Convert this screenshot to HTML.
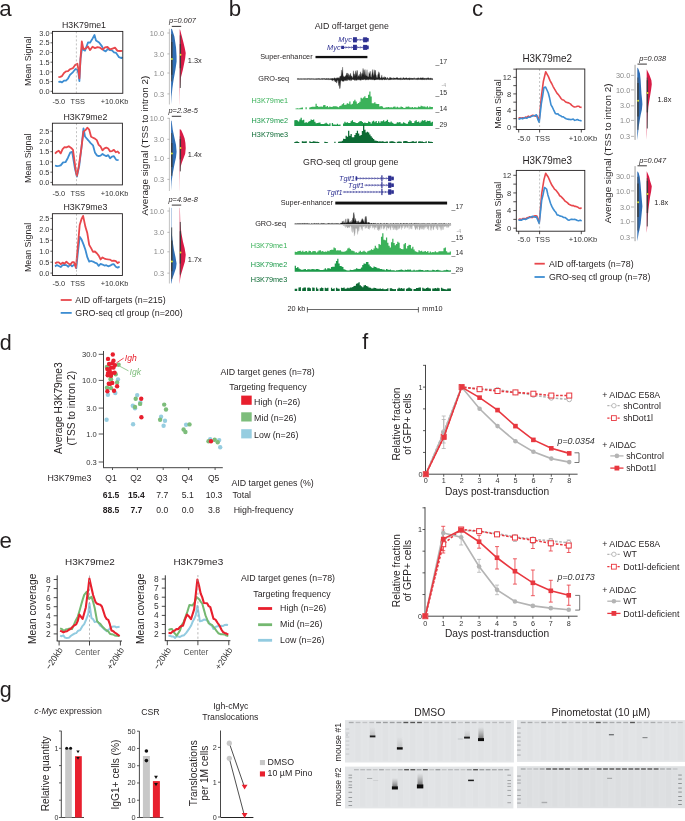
<!DOCTYPE html>
<html><head><meta charset="utf-8"><style>
html,body{margin:0;padding:0;background:#fff;width:685px;height:821px;overflow:hidden}
svg{display:block;font-family:"Liberation Sans", sans-serif;will-change:transform;-webkit-font-smoothing:antialiased}
</style></head><body>
<svg width="685" height="821" viewBox="0 0 685 821">
<path d="M58.40,81.80 L60.20,81.60 L62.00,82.44 L64.00,80.63 L66.00,80.53 L68.00,78.55 L70.00,74.93 L73.00,72.04 L75.50,69.04 L77.50,70.00 L78.50,73.62 L79.40,81.13 L80.50,58.61 L82.00,48.65 L85.00,50.66 L88.00,42.44 L90.00,42.64 L92.00,39.58 L94.50,35.02 L96.00,40.39 L99.10,42.44 L102.00,46.35 L103.85,50.50 L105.70,51.30 L108.00,48.95 L110.00,50.12 L112.00,50.40 L114.00,52.38 L116.00,52.80 L119.00,57.16 L121.50,58.17 L122.30,57.00" fill="none" stroke="#3d8dd2" stroke-width="1.8" stroke-linejoin="round"/>
<path d="M58.40,77.20 L60.20,76.89 L62.00,76.07 L64.00,73.03 L66.00,71.34 L68.00,71.07 L70.00,69.23 L73.00,68.06 L75.00,65.15 L77.40,63.74 L78.50,70.20 L79.40,78.35 L80.50,58.79 L81.80,41.50 L83.40,49.05 L86.00,48.38 L88.00,46.50 L90.00,50.08 L92.50,46.80 L95.00,48.14 L97.50,47.20 L100.00,47.68 L102.50,49.66 L105.00,47.36 L107.50,47.01 L110.00,49.41 L112.50,48.53 L115.00,47.61 L117.50,50.91 L120.00,51.02 L122.30,50.90" fill="none" stroke="#e8474c" stroke-width="1.8" stroke-linejoin="round"/>
<line x1="76.40" y1="31.40" x2="76.40" y2="93.30" stroke="#999" stroke-width="0.6" stroke-dasharray="2,2"/>
<rect x="52.50" y="31.40" width="70.30" height="61.90" fill="none" stroke="#231f20" stroke-width="0.9"/>
<line x1="50.50" y1="91.30" x2="52.50" y2="91.30" stroke="#231f20" stroke-width="0.7"/>
<text x="49.50" y="93.90" font-size="7.3" text-anchor="end" fill="#333">0.0</text>
<line x1="50.50" y1="81.60" x2="52.50" y2="81.60" stroke="#231f20" stroke-width="0.7"/>
<text x="49.50" y="84.20" font-size="7.3" text-anchor="end" fill="#333">0.5</text>
<line x1="50.50" y1="71.90" x2="52.50" y2="71.90" stroke="#231f20" stroke-width="0.7"/>
<text x="49.50" y="74.50" font-size="7.3" text-anchor="end" fill="#333">1.0</text>
<line x1="50.50" y1="62.20" x2="52.50" y2="62.20" stroke="#231f20" stroke-width="0.7"/>
<text x="49.50" y="64.80" font-size="7.3" text-anchor="end" fill="#333">1.5</text>
<line x1="50.50" y1="52.50" x2="52.50" y2="52.50" stroke="#231f20" stroke-width="0.7"/>
<text x="49.50" y="55.10" font-size="7.3" text-anchor="end" fill="#333">2.0</text>
<line x1="50.50" y1="42.80" x2="52.50" y2="42.80" stroke="#231f20" stroke-width="0.7"/>
<text x="49.50" y="45.40" font-size="7.3" text-anchor="end" fill="#333">2.5</text>
<line x1="50.50" y1="33.10" x2="52.50" y2="33.10" stroke="#231f20" stroke-width="0.7"/>
<text x="49.50" y="35.70" font-size="7.3" text-anchor="end" fill="#333">3.0</text>
<text x="84.00" y="27.60" font-size="8.8" text-anchor="middle" fill="#231f20">H3K79me1</text>
<text x="58.80" y="104.00" font-size="7.4" text-anchor="middle" fill="#333">-5.0</text>
<text x="77.80" y="104.00" font-size="7.4" text-anchor="middle" fill="#333">TSS</text>
<text x="114.60" y="104.00" font-size="7.4" text-anchor="middle" fill="#333">+10.0Kb</text>
<text x="30.80" y="61.30" font-size="8.9" text-anchor="middle" fill="#231f20" transform="rotate(-90 30.8 61.3)">Mean Signal</text>
<path d="M55.00,165.50 L56.90,166.15 L58.80,165.96 L60.70,165.43 L63.10,162.38 L65.50,162.19 L67.85,157.95 L70.20,152.64 L72.10,151.72 L75.00,168.80 L76.90,176.61 L79.30,165.46 L81.40,148.19 L83.50,128.44 L85.00,136.50 L88.30,140.29 L90.65,143.14 L93.00,145.34 L94.90,152.39 L96.80,155.31 L98.70,156.11 L100.60,155.56 L102.50,153.92 L104.40,155.22 L106.30,156.09 L108.20,155.09 L110.10,158.27 L112.00,156.62 L113.90,156.23 L116.25,159.88 L118.60,160.20" fill="none" stroke="#3d8dd2" stroke-width="1.8" stroke-linejoin="round"/>
<path d="M55.00,153.60 L56.90,151.74 L58.80,150.71 L60.70,153.40 L62.60,149.03 L64.50,147.21 L66.40,147.41 L68.80,146.23 L71.20,147.92 L73.00,149.79 L75.90,171.26 L76.90,175.79 L78.80,166.24 L81.15,149.82 L83.50,131.43 L85.40,130.34 L87.30,127.71 L89.20,129.71 L91.10,136.80 L93.00,137.70 L94.90,138.66 L96.80,140.15 L98.70,144.92 L100.60,146.55 L102.50,150.29 L104.40,148.33 L106.30,147.57 L108.20,148.58 L110.10,151.37 L112.00,151.08 L113.90,149.88 L115.80,152.25 L117.70,151.51 L119.60,153.60" fill="none" stroke="#e8474c" stroke-width="1.8" stroke-linejoin="round"/>
<line x1="76.50" y1="123.20" x2="76.50" y2="184.90" stroke="#999" stroke-width="0.6" stroke-dasharray="2,2"/>
<rect x="52.40" y="123.20" width="70.00" height="61.70" fill="none" stroke="#231f20" stroke-width="0.9"/>
<line x1="50.40" y1="182.40" x2="52.40" y2="182.40" stroke="#231f20" stroke-width="0.7"/>
<text x="49.40" y="185.00" font-size="7.3" text-anchor="end" fill="#333">0.0</text>
<line x1="50.40" y1="172.16" x2="52.40" y2="172.16" stroke="#231f20" stroke-width="0.7"/>
<text x="49.40" y="174.76" font-size="7.3" text-anchor="end" fill="#333">0.5</text>
<line x1="50.40" y1="161.92" x2="52.40" y2="161.92" stroke="#231f20" stroke-width="0.7"/>
<text x="49.40" y="164.52" font-size="7.3" text-anchor="end" fill="#333">1.0</text>
<line x1="50.40" y1="151.68" x2="52.40" y2="151.68" stroke="#231f20" stroke-width="0.7"/>
<text x="49.40" y="154.28" font-size="7.3" text-anchor="end" fill="#333">1.5</text>
<line x1="50.40" y1="141.44" x2="52.40" y2="141.44" stroke="#231f20" stroke-width="0.7"/>
<text x="49.40" y="144.04" font-size="7.3" text-anchor="end" fill="#333">2.0</text>
<line x1="50.40" y1="131.20" x2="52.40" y2="131.20" stroke="#231f20" stroke-width="0.7"/>
<text x="49.40" y="133.80" font-size="7.3" text-anchor="end" fill="#333">2.5</text>
<text x="85.40" y="120.40" font-size="8.8" text-anchor="middle" fill="#231f20">H3K79me2</text>
<text x="58.80" y="195.70" font-size="7.4" text-anchor="middle" fill="#333">-5.0</text>
<text x="77.80" y="195.70" font-size="7.4" text-anchor="middle" fill="#333">TSS</text>
<text x="114.60" y="195.70" font-size="7.4" text-anchor="middle" fill="#333">+10.0Kb</text>
<text x="30.80" y="158.30" font-size="8.9" text-anchor="middle" fill="#231f20" transform="rotate(-90 30.8 158.3)">Mean Signal</text>
<path d="M55.00,266.40 L56.90,265.08 L58.80,266.04 L60.70,267.03 L62.60,265.17 L64.50,264.90 L66.40,265.13 L68.30,266.74 L70.20,264.48 L72.10,266.32 L75.00,264.15 L76.30,268.06 L77.80,253.22 L79.70,236.82 L81.60,239.60 L83.50,244.39 L85.40,249.82 L87.30,257.17 L89.20,261.56 L91.10,261.00 L93.00,261.57 L94.90,262.60 L96.80,263.30 L98.70,265.89 L100.60,263.94 L102.50,264.54 L104.40,265.54 L106.30,265.16 L108.20,266.29 L110.10,265.65 L112.00,264.39 L113.90,264.25 L115.80,266.78 L117.70,267.68 L119.60,266.40" fill="none" stroke="#3d8dd2" stroke-width="1.8" stroke-linejoin="round"/>
<path d="M55.00,263.60 L56.90,262.38 L58.80,262.43 L60.70,264.21 L62.60,262.59 L64.50,263.60 L66.40,261.74 L68.30,263.38 L70.20,264.77 L72.10,262.23 L74.00,262.21 L75.90,267.70 L77.80,246.96 L79.70,224.90 L81.60,218.87 L83.10,215.83 L85.40,226.83 L87.30,233.08 L89.20,244.87 L91.10,248.14 L93.00,251.84 L94.90,251.49 L96.80,253.28 L98.70,255.61 L100.60,259.47 L102.50,257.48 L104.40,258.59 L106.30,259.07 L108.20,259.42 L110.10,259.63 L112.00,260.95 L113.90,260.56 L115.80,261.05 L117.70,263.16 L119.60,261.70" fill="none" stroke="#e8474c" stroke-width="1.8" stroke-linejoin="round"/>
<line x1="76.50" y1="213.70" x2="76.50" y2="275.50" stroke="#999" stroke-width="0.6" stroke-dasharray="2,2"/>
<rect x="52.40" y="213.70" width="70.00" height="61.80" fill="none" stroke="#231f20" stroke-width="0.9"/>
<line x1="50.40" y1="273.10" x2="52.40" y2="273.10" stroke="#231f20" stroke-width="0.7"/>
<text x="49.40" y="275.70" font-size="7.3" text-anchor="end" fill="#333">0.0</text>
<line x1="50.40" y1="262.16" x2="52.40" y2="262.16" stroke="#231f20" stroke-width="0.7"/>
<text x="49.40" y="264.76" font-size="7.3" text-anchor="end" fill="#333">0.5</text>
<line x1="50.40" y1="251.22" x2="52.40" y2="251.22" stroke="#231f20" stroke-width="0.7"/>
<text x="49.40" y="253.82" font-size="7.3" text-anchor="end" fill="#333">1.0</text>
<line x1="50.40" y1="240.28" x2="52.40" y2="240.28" stroke="#231f20" stroke-width="0.7"/>
<text x="49.40" y="242.88" font-size="7.3" text-anchor="end" fill="#333">1.5</text>
<line x1="50.40" y1="229.34" x2="52.40" y2="229.34" stroke="#231f20" stroke-width="0.7"/>
<text x="49.40" y="231.94" font-size="7.3" text-anchor="end" fill="#333">2.0</text>
<line x1="50.40" y1="218.40" x2="52.40" y2="218.40" stroke="#231f20" stroke-width="0.7"/>
<text x="49.40" y="221.00" font-size="7.3" text-anchor="end" fill="#333">2.5</text>
<text x="85.40" y="210.40" font-size="8.8" text-anchor="middle" fill="#231f20">H3K79me3</text>
<text x="58.80" y="285.80" font-size="7.4" text-anchor="middle" fill="#333">-5.0</text>
<text x="77.80" y="285.80" font-size="7.4" text-anchor="middle" fill="#333">TSS</text>
<text x="114.60" y="285.80" font-size="7.4" text-anchor="middle" fill="#333">+10.0Kb</text>
<text x="30.80" y="247.40" font-size="8.9" text-anchor="middle" fill="#231f20" transform="rotate(-90 30.8 247.4)">Mean Signal</text>
<line x1="60.70" y1="300.00" x2="71.70" y2="300.00" stroke="#e8474c" stroke-width="1.8"/>
<text x="75.30" y="303.30" font-size="8.9" text-anchor="start" fill="#231f20">AID off-targets (n=215)</text>
<line x1="60.70" y1="312.90" x2="71.70" y2="312.90" stroke="#3d8dd2" stroke-width="1.8"/>
<text x="75.30" y="316.20" font-size="8.9" text-anchor="start" fill="#231f20">GRO-seq ctl group (n=200)</text>
<line x1="169.40" y1="28.80" x2="169.40" y2="104.50" stroke="#bbb" stroke-width="0.9"/>
<line x1="167.40" y1="33.00" x2="169.40" y2="33.00" stroke="#999" stroke-width="0.7"/>
<text x="164.00" y="35.60" font-size="7.3" text-anchor="end" fill="#8a8a8a">10.0</text>
<line x1="167.40" y1="53.92" x2="169.40" y2="53.92" stroke="#999" stroke-width="0.7"/>
<text x="164.00" y="56.52" font-size="7.3" text-anchor="end" fill="#8a8a8a">3.0</text>
<line x1="167.40" y1="73.00" x2="169.40" y2="73.00" stroke="#999" stroke-width="0.7"/>
<text x="164.00" y="75.60" font-size="7.3" text-anchor="end" fill="#8a8a8a">1.0</text>
<line x1="167.40" y1="93.92" x2="169.40" y2="93.92" stroke="#999" stroke-width="0.7"/>
<text x="164.00" y="96.52" font-size="7.3" text-anchor="end" fill="#8a8a8a">0.3</text>
<path d="M171.10,28.77 L171.10,28.77 L171.98,28.99 L174.39,36.44 L176.03,47.41 L176.58,56.18 L176.58,61.66 L175.49,69.33 L173.51,80.29 L172.42,87.97 L171.54,96.74 L171.10,104.41 L171.10,104.41 Z" fill="#2f6db5" stroke="none" stroke-width="1"/>
<line x1="171.70" y1="34.25" x2="171.70" y2="81.39" stroke="#4a4a4a" stroke-width="0.9"/>
<line x1="171.80" y1="41.93" x2="171.80" y2="74.81" stroke="#3a3a3a" stroke-width="1.3"/>
<circle cx="171.90" cy="59.00" r="1.0" fill="#d6e23a"/>
<path d="M179.70,29.32 L179.70,29.32 L180.14,29.65 L181.89,36.44 L183.32,41.93 L184.63,47.41 L185.73,52.89 L185.18,58.37 L184.09,63.85 L182.99,69.33 L180.80,78.10 L180.03,87.97 L179.86,96.74 L179.75,104.41 L179.70,104.41 Z" fill="#d81a45" stroke="none" stroke-width="1"/>
<line x1="180.30" y1="35.35" x2="180.30" y2="87.97" stroke="#4a4a4a" stroke-width="0.9"/>
<line x1="180.40" y1="44.12" x2="180.40" y2="68.24" stroke="#3a3a3a" stroke-width="1.3"/>
<circle cx="180.50" cy="54.70" r="1.0" fill="#d6e23a"/>
<text x="182.50" y="23.00" font-size="7.4" text-anchor="middle" fill="#231f20" font-style="italic">p=0.007</text>
<line x1="171.80" y1="26.40" x2="181.20" y2="26.40" stroke="#231f20" stroke-width="0.9"/>
<text x="187.80" y="62.50" font-size="7.4" text-anchor="start" fill="#231f20">1.3x</text>
<line x1="169.40" y1="118.00" x2="169.40" y2="191.00" stroke="#bbb" stroke-width="0.9"/>
<line x1="167.40" y1="118.30" x2="169.40" y2="118.30" stroke="#999" stroke-width="0.7"/>
<text x="164.00" y="120.90" font-size="7.3" text-anchor="end" fill="#8a8a8a">10.0</text>
<line x1="167.40" y1="139.27" x2="169.40" y2="139.27" stroke="#999" stroke-width="0.7"/>
<text x="164.00" y="141.87" font-size="7.3" text-anchor="end" fill="#8a8a8a">3.0</text>
<line x1="167.40" y1="158.40" x2="169.40" y2="158.40" stroke="#999" stroke-width="0.7"/>
<text x="164.00" y="161.00" font-size="7.3" text-anchor="end" fill="#8a8a8a">1.0</text>
<line x1="167.40" y1="179.37" x2="169.40" y2="179.37" stroke="#999" stroke-width="0.7"/>
<text x="164.00" y="181.97" font-size="7.3" text-anchor="end" fill="#8a8a8a">0.3</text>
<path d="M171.10,120.41 L171.10,120.41 L171.65,120.96 L172.74,129.73 L174.39,137.41 L176.03,145.08 L176.58,151.66 L176.03,157.14 L174.39,164.81 L172.74,173.58 L171.65,181.26 L171.32,186.74 L171.10,190.57 L171.10,190.57 Z" fill="#2f6db5" stroke="none" stroke-width="1"/>
<line x1="171.70" y1="133.02" x2="171.70" y2="175.78" stroke="#4a4a4a" stroke-width="0.9"/>
<line x1="171.80" y1="142.89" x2="171.80" y2="167.01" stroke="#3a3a3a" stroke-width="1.3"/>
<circle cx="171.90" cy="153.60" r="1.0" fill="#d6e23a"/>
<path d="M179.70,129.18 L179.70,129.18 L181.02,129.73 L182.99,134.12 L184.63,138.50 L185.40,142.89 L185.73,148.37 L185.18,153.85 L183.54,158.24 L181.89,162.62 L180.58,167.01 L180.03,171.39 L179.86,180.16 L179.75,190.57 L179.70,190.57 Z" fill="#d81a45" stroke="none" stroke-width="1"/>
<line x1="180.30" y1="136.31" x2="180.30" y2="171.39" stroke="#4a4a4a" stroke-width="0.9"/>
<line x1="180.40" y1="139.05" x2="180.40" y2="159.33" stroke="#3a3a3a" stroke-width="1.3"/>
<circle cx="180.50" cy="148.10" r="1.0" fill="#d6e23a"/>
<text x="183.20" y="112.80" font-size="7.4" text-anchor="middle" fill="#231f20" font-style="italic">p=2.3e-5</text>
<line x1="171.80" y1="116.30" x2="181.20" y2="116.30" stroke="#231f20" stroke-width="0.9"/>
<text x="187.80" y="156.50" font-size="7.4" text-anchor="start" fill="#231f20">1.4x</text>
<line x1="169.40" y1="207.50" x2="169.40" y2="283.50" stroke="#bbb" stroke-width="0.9"/>
<line x1="167.40" y1="211.00" x2="169.40" y2="211.00" stroke="#999" stroke-width="0.7"/>
<text x="164.00" y="213.60" font-size="7.3" text-anchor="end" fill="#8a8a8a">10.0</text>
<line x1="167.40" y1="232.33" x2="169.40" y2="232.33" stroke="#999" stroke-width="0.7"/>
<text x="164.00" y="234.93" font-size="7.3" text-anchor="end" fill="#8a8a8a">3.0</text>
<line x1="167.40" y1="251.80" x2="169.40" y2="251.80" stroke="#999" stroke-width="0.7"/>
<text x="164.00" y="254.40" font-size="7.3" text-anchor="end" fill="#8a8a8a">1.0</text>
<line x1="167.40" y1="273.13" x2="169.40" y2="273.13" stroke="#999" stroke-width="0.7"/>
<text x="164.00" y="275.73" font-size="7.3" text-anchor="end" fill="#8a8a8a">0.3</text>
<path d="M171.10,207.67 L171.10,207.67 L171.43,207.89 L171.43,227.41 L171.76,232.89 L172.74,241.66 L173.84,249.33 L175.49,257.01 L176.58,263.58 L176.03,267.97 L173.84,274.55 L172.20,278.93 L171.43,283.32 L171.10,283.86 L171.10,283.86 Z" fill="#2f6db5" stroke="none" stroke-width="1"/>
<line x1="171.70" y1="227.41" x2="171.70" y2="278.93" stroke="#4a4a4a" stroke-width="0.9"/>
<line x1="171.80" y1="240.56" x2="171.80" y2="271.26" stroke="#3a3a3a" stroke-width="1.3"/>
<circle cx="171.90" cy="261.40" r="1.0" fill="#d6e23a"/>
<path d="M179.70,207.67 L179.70,207.67 L179.92,207.89 L180.25,221.93 L181.34,232.89 L182.99,241.66 L184.63,248.24 L185.73,254.81 L184.96,261.39 L182.99,267.97 L181.02,274.55 L180.14,278.93 L179.81,283.32 L179.70,283.86 L179.70,283.86 Z" fill="#d81a45" stroke="none" stroke-width="1"/>
<line x1="180.30" y1="221.93" x2="180.30" y2="274.55" stroke="#4a4a4a" stroke-width="0.9"/>
<line x1="180.40" y1="231.24" x2="180.40" y2="263.58" stroke="#3a3a3a" stroke-width="1.3"/>
<circle cx="180.50" cy="252.40" r="1.0" fill="#d6e23a"/>
<text x="183.20" y="201.80" font-size="7.4" text-anchor="middle" fill="#231f20" font-style="italic">p=4.9e-8</text>
<line x1="171.80" y1="205.10" x2="181.20" y2="205.10" stroke="#231f20" stroke-width="0.9"/>
<text x="187.80" y="261.80" font-size="7.4" text-anchor="start" fill="#231f20">1.7x</text>
<text x="147.60" y="145.60" font-size="9.85" text-anchor="middle" fill="#231f20" transform="rotate(-90 147.6 145.6)">Average signal (TSS to intron 2)</text>
<text x="-0.70" y="15.90" font-size="22.3" text-anchor="start" fill="#231f20">a</text>
<text x="228.80" y="16.20" font-size="22.3" text-anchor="start" fill="#231f20">b</text>
<text x="314.70" y="29.00" font-size="8.8" text-anchor="start" fill="#231f20">AID off-target gene</text>
<text x="351.90" y="42.40" font-size="7.4" text-anchor="end" fill="#2e3192" font-style="italic">Myc</text>
<line x1="352.50" y1="39.80" x2="368.50" y2="39.80" stroke="#2e3192" stroke-width="0.7"/>
<path d="M354.10,38.70 L355.00,39.80 L354.10,40.90" fill="none" stroke="#2e3192" stroke-width="0.5"/>
<path d="M357.00,38.70 L357.90,39.80 L357.00,40.90" fill="none" stroke="#2e3192" stroke-width="0.5"/>
<path d="M359.90,38.70 L360.80,39.80 L359.90,40.90" fill="none" stroke="#2e3192" stroke-width="0.5"/>
<path d="M362.80,38.70 L363.70,39.80 L362.80,40.90" fill="none" stroke="#2e3192" stroke-width="0.5"/>
<rect x="353.00" y="37.20" width="3.90" height="5.20" fill="#2e3192"/>
<rect x="363.10" y="37.30" width="4.10" height="5.00" fill="#2e3192"/>
<rect x="366.50" y="38.00" width="2.20" height="3.60" fill="#2e3192"/>
<text x="340.60" y="50.00" font-size="7.4" text-anchor="end" fill="#2e3192" font-style="italic">Myc</text>
<line x1="341.20" y1="47.40" x2="368.50" y2="47.40" stroke="#2e3192" stroke-width="0.7"/>
<path d="M342.80,46.30 L343.70,47.40 L342.80,48.50" fill="none" stroke="#2e3192" stroke-width="0.5"/>
<path d="M345.70,46.30 L346.60,47.40 L345.70,48.50" fill="none" stroke="#2e3192" stroke-width="0.5"/>
<path d="M348.60,46.30 L349.50,47.40 L348.60,48.50" fill="none" stroke="#2e3192" stroke-width="0.5"/>
<path d="M351.50,46.30 L352.40,47.40 L351.50,48.50" fill="none" stroke="#2e3192" stroke-width="0.5"/>
<path d="M354.40,46.30 L355.30,47.40 L354.40,48.50" fill="none" stroke="#2e3192" stroke-width="0.5"/>
<path d="M357.30,46.30 L358.20,47.40 L357.30,48.50" fill="none" stroke="#2e3192" stroke-width="0.5"/>
<path d="M360.20,46.30 L361.10,47.40 L360.20,48.50" fill="none" stroke="#2e3192" stroke-width="0.5"/>
<path d="M363.10,46.30 L364.00,47.40 L363.10,48.50" fill="none" stroke="#2e3192" stroke-width="0.5"/>
<rect x="341.20" y="45.80" width="2.90" height="3.20" fill="#2e3192"/>
<rect x="353.00" y="44.80" width="3.90" height="5.20" fill="#2e3192"/>
<rect x="363.10" y="44.90" width="4.10" height="5.00" fill="#2e3192"/>
<rect x="366.50" y="45.60" width="2.20" height="3.60" fill="#2e3192"/>
<text x="312.60" y="58.70" font-size="7.3" text-anchor="end" fill="#231f20">Super-enhancer</text>
<rect x="315.50" y="55.90" width="51.90" height="2.30" fill="#111"/>
<text x="289.20" y="81.00" font-size="7.3" text-anchor="end" fill="#231f20">GRO-seq</text>
<text x="251.60" y="103.00" font-size="7.3" text-anchor="start" fill="#3bb25a">H3K79me1</text>
<text x="251.60" y="122.50" font-size="7.3" text-anchor="start" fill="#1c9a4a">H3K79me2</text>
<text x="251.60" y="137.30" font-size="7.3" text-anchor="start" fill="#0c6a34">H3K79me3</text>
<text x="435.50" y="63.60" font-size="7.0" text-anchor="start" fill="#333">_17</text>
<text x="441.50" y="87.20" font-size="5.2" text-anchor="start" fill="#aaa">-4</text>
<text x="435.50" y="95.20" font-size="7.0" text-anchor="start" fill="#333">_15</text>
<text x="435.50" y="111.20" font-size="7.0" text-anchor="start" fill="#333">_14</text>
<text x="435.50" y="126.80" font-size="7.0" text-anchor="start" fill="#333">_29</text>
<path d="M297.00,79.00 L297.00,78.85 L297.40,78.88 L297.80,78.71 L298.20,78.72 L298.60,78.87 L299.00,78.81 L299.40,78.88 L299.80,78.88 L300.20,78.88 L300.60,78.79 L301.00,78.88 L301.40,78.67 L301.80,78.88 L302.20,78.88 L302.60,78.88 L303.00,78.75 L303.40,78.88 L303.80,78.85 L304.20,78.88 L304.60,78.79 L305.00,78.87 L305.40,78.88 L305.80,78.86 L306.20,78.88 L306.60,78.88 L307.00,78.70 L307.40,78.76 L307.80,78.76 L308.20,78.66 L308.60,78.86 L309.00,78.86 L309.40,78.85 L309.80,78.85 L310.20,78.75 L310.60,78.88 L311.00,78.83 L311.40,78.80 L311.80,78.87 L312.20,78.88 L312.60,78.72 L313.00,78.88 L313.40,78.78 L313.80,78.88 L314.20,78.88 L314.60,78.88 L315.00,78.88 L315.40,78.88 L315.80,78.71 L316.20,78.69 L316.60,78.85 L317.00,78.72 L317.40,78.80 L317.80,78.79 L318.20,78.59 L318.60,78.86 L319.00,78.58 L319.40,78.69 L319.80,78.69 L320.20,78.88 L320.60,78.88 L321.00,78.88 L321.40,78.84 L321.80,78.51 L322.20,78.56 L322.60,78.58 L323.00,78.88 L323.40,78.66 L323.80,78.61 L324.20,78.59 L324.60,78.59 L325.00,78.88 L325.40,78.88 L325.80,78.59 L326.20,78.62 L326.60,78.51 L327.00,78.78 L327.40,78.51 L327.80,78.88 L328.20,78.45 L328.60,78.50 L329.00,78.82 L329.40,78.88 L329.80,78.72 L330.20,78.61 L330.60,78.79 L331.00,78.88 L331.40,78.79 L331.80,78.32 L332.20,78.84 L332.60,78.08 L333.00,78.74 L333.40,78.75 L333.80,78.79 L334.20,77.78 L334.60,77.86 L335.00,78.60 L335.40,78.76 L335.80,78.13 L336.20,77.67 L336.60,78.75 L337.00,78.06 L337.40,77.58 L337.80,78.28 L338.20,78.07 L338.60,77.55 L339.00,78.53 L339.40,78.19 L339.80,76.48 L340.20,76.40 L340.60,75.87 L341.00,76.54 L341.40,70.02 L341.80,75.98 L342.20,71.19 L342.60,67.05 L343.00,74.34 L343.40,76.95 L343.80,76.18 L344.20,77.06 L344.60,76.80 L345.00,77.01 L345.40,75.76 L345.80,75.69 L346.20,75.18 L346.60,73.19 L347.00,73.15 L347.40,73.12 L347.80,76.00 L348.20,73.53 L348.60,74.65 L349.00,77.37 L349.40,74.81 L349.80,76.50 L350.20,73.80 L350.60,73.33 L351.00,77.02 L351.40,75.93 L351.80,75.85 L352.20,76.81 L352.60,77.74 L353.00,77.71 L353.40,70.73 L353.80,73.30 L354.20,75.77 L354.60,73.86 L355.00,76.78 L355.40,73.32 L355.80,70.64 L356.20,72.58 L356.60,75.40 L357.00,70.20 L357.40,70.93 L357.80,77.57 L358.20,75.80 L358.60,75.50 L359.00,76.69 L359.40,74.12 L359.80,77.31 L360.20,72.85 L360.60,71.67 L361.00,77.56 L361.40,73.40 L361.80,76.73 L362.20,73.69 L362.60,72.67 L363.00,68.35 L363.40,70.24 L363.80,75.21 L364.20,70.11 L364.60,76.31 L365.00,69.32 L365.40,73.78 L365.80,75.47 L366.20,75.80 L366.60,76.07 L367.00,69.67 L367.40,76.94 L367.80,76.30 L368.20,76.65 L368.60,76.92 L369.00,72.23 L369.40,74.02 L369.80,73.53 L370.20,71.07 L370.60,75.37 L371.00,77.51 L371.40,76.92 L371.80,74.46 L372.20,72.23 L372.60,69.43 L373.00,74.15 L373.40,76.53 L373.80,73.55 L374.20,69.61 L374.60,76.02 L375.00,70.10 L375.40,70.65 L375.80,74.32 L376.20,75.24 L376.60,77.39 L377.00,77.49 L377.40,77.70 L377.80,74.64 L378.20,73.97 L378.60,71.67 L379.00,75.30 L379.40,72.46 L379.80,76.84 L380.20,77.93 L380.60,78.14 L381.00,77.67 L381.40,76.89 L381.80,74.88 L382.20,77.94 L382.60,78.13 L383.00,76.70 L383.40,77.89 L383.80,77.50 L384.20,78.44 L384.60,76.81 L385.00,76.77 L385.40,77.41 L385.80,77.08 L386.20,78.41 L386.60,78.70 L387.00,78.46 L387.40,77.31 L387.80,78.22 L388.20,78.59 L388.60,78.64 L389.00,78.63 L389.40,78.29 L389.80,77.32 L390.20,77.43 L390.60,77.72 L391.00,77.74 L391.40,78.62 L391.80,77.71 L392.20,78.60 L392.60,78.20 L393.00,78.73 L393.40,77.51 L393.80,78.69 L394.20,78.12 L394.60,78.00 L395.00,78.04 L395.40,77.98 L395.80,78.47 L396.20,77.80 L396.60,77.51 L397.00,78.13 L397.40,77.45 L397.80,77.73 L398.20,78.75 L398.60,78.07 L399.00,78.74 L399.40,78.10 L399.80,78.51 L400.20,77.78 L400.60,78.77 L401.00,77.61 L401.40,78.77 L401.80,78.76 L402.20,78.77 L402.60,78.73 L403.00,77.53 L403.40,77.82 L403.80,77.67 L404.20,78.69 L404.60,78.07 L405.00,77.89 L405.40,78.01 L405.80,78.62 L406.20,77.56 L406.60,78.01 L407.00,78.08 L407.40,78.60 L407.80,78.48 L408.20,77.96 L408.60,78.33 L409.00,78.37 L409.40,77.66 L409.80,78.46 L410.20,77.78 L410.60,78.77 L411.00,78.31 L411.40,78.03 L411.80,78.77 L412.20,78.06 L412.60,78.60 L413.00,78.17 L413.40,78.18 L413.80,78.72 L414.20,77.61 L414.60,78.64 L415.00,78.72 L415.40,78.43 L415.80,78.76 L416.20,78.74 L416.60,77.95 L417.00,78.74 L417.40,78.30 L417.80,77.73 L418.20,78.41 L418.60,77.86 L419.00,77.83 L419.40,78.70 L419.80,78.75 L420.20,77.91 L420.60,77.76 L421.00,77.79 L421.40,78.03 L421.80,78.34 L422.20,77.58 L422.60,77.99 L423.00,77.95 L423.40,77.68 L423.80,78.76 L424.20,77.99 L424.60,78.24 L425.00,78.77 L425.40,78.63 L425.80,78.03 L426.20,78.31 L426.60,78.27 L427.00,78.60 L427.40,78.26 L427.80,77.74 L428.20,77.54 L428.60,78.28 L429.00,78.00 L429.40,78.75 L429.80,78.72 L430.20,78.27 L430.60,77.84 L431.00,78.73 L431.40,78.72 L431.80,78.35 L432.20,78.58 L432.60,78.72 L432.80,79.00 Z" fill="#222" stroke="#222" stroke-width="0.25" stroke-linejoin="bevel"/>
<path d="M297.00,79.00 L297.00,79.12 L297.40,79.16 L297.80,79.12 L298.20,79.20 L298.60,79.17 L299.00,79.12 L299.40,79.17 L299.80,79.16 L300.20,79.12 L300.60,79.15 L301.00,79.18 L301.40,79.15 L301.80,79.28 L302.20,79.23 L302.60,79.12 L303.00,79.12 L303.40,79.12 L303.80,79.26 L304.20,79.22 L304.60,79.19 L305.00,79.14 L305.40,79.16 L305.80,79.12 L306.20,79.17 L306.60,79.12 L307.00,79.20 L307.40,79.21 L307.80,79.23 L308.20,79.12 L308.60,79.12 L309.00,79.12 L309.40,79.24 L309.80,79.17 L310.20,79.27 L310.60,79.15 L311.00,79.14 L311.40,79.35 L311.80,79.12 L312.20,79.12 L312.60,79.21 L313.00,79.23 L313.40,79.16 L313.80,79.20 L314.20,79.16 L314.60,79.25 L315.00,79.37 L315.40,79.33 L315.80,79.25 L316.20,79.18 L316.60,79.41 L317.00,79.17 L317.40,79.25 L317.80,79.37 L318.20,79.28 L318.60,79.15 L319.00,79.31 L319.40,79.24 L319.80,79.41 L320.20,79.26 L320.60,79.22 L321.00,79.45 L321.40,79.22 L321.80,79.16 L322.20,79.44 L322.60,79.45 L323.00,79.12 L323.40,79.12 L323.80,79.40 L324.20,79.42 L324.60,79.17 L325.00,79.12 L325.40,79.40 L325.80,79.74 L326.20,79.21 L326.60,79.43 L327.00,79.74 L327.40,79.32 L327.80,79.56 L328.20,79.32 L328.60,79.77 L329.00,79.47 L329.40,79.36 L329.80,79.78 L330.20,79.47 L330.60,79.47 L331.00,79.53 L331.40,80.05 L331.80,79.87 L332.20,81.08 L332.60,80.15 L333.00,79.79 L333.40,79.71 L333.80,79.95 L334.20,81.44 L334.60,79.79 L335.00,80.51 L335.40,81.91 L335.80,82.09 L336.20,80.75 L336.60,83.14 L337.00,82.41 L337.40,80.56 L337.80,80.28 L338.20,80.68 L338.60,85.67 L339.00,82.21 L339.40,86.82 L339.80,88.85 L340.20,87.84 L340.60,82.51 L341.00,80.13 L341.40,80.63 L341.80,80.15 L342.20,81.25 L342.60,80.89 L343.00,81.61 L343.40,80.80 L343.80,81.61 L344.20,80.52 L344.60,80.07 L345.00,81.01 L345.40,79.64 L345.80,80.73 L346.20,80.54 L346.60,80.86 L347.00,79.35 L347.40,79.44 L347.80,80.90 L348.20,79.37 L348.60,79.77 L349.00,80.03 L349.40,79.80 L349.80,80.62 L350.20,80.79 L350.60,79.57 L351.00,79.35 L351.40,80.65 L351.80,79.72 L352.20,79.44 L352.60,79.34 L353.00,79.27 L353.40,79.90 L353.80,79.46 L354.20,79.84 L354.60,80.55 L355.00,79.71 L355.40,80.59 L355.80,79.27 L356.20,80.15 L356.60,80.14 L357.00,80.54 L357.40,79.25 L357.80,79.69 L358.20,79.76 L358.60,79.82 L359.00,79.62 L359.40,79.39 L359.80,80.31 L360.20,80.26 L360.60,79.94 L361.00,80.39 L361.40,79.70 L361.80,79.24 L362.20,79.90 L362.60,79.25 L363.00,79.98 L363.40,79.81 L363.80,79.31 L364.20,79.27 L364.60,79.22 L365.00,79.28 L365.40,80.32 L365.80,79.31 L366.20,80.14 L366.60,79.25 L367.00,79.40 L367.40,79.53 L367.80,79.41 L368.20,80.23 L368.60,79.30 L369.00,79.53 L369.40,79.28 L369.80,79.22 L370.20,79.77 L370.60,79.37 L371.00,79.51 L371.40,79.76 L371.80,79.20 L372.20,79.19 L372.60,79.73 L373.00,80.17 L373.40,79.18 L373.80,79.45 L374.20,80.14 L374.60,79.89 L375.00,80.11 L375.40,79.51 L375.80,80.06 L376.20,79.17 L376.60,79.44 L377.00,79.86 L377.40,79.36 L377.80,79.40 L378.20,79.40 L378.60,79.34 L379.00,79.78 L379.40,79.98 L379.80,79.23 L380.20,79.29 L380.60,79.75 L381.00,79.68 L381.40,79.76 L381.80,79.61 L382.20,79.88 L382.60,79.79 L383.00,79.55 L383.40,79.26 L383.80,79.16 L384.20,79.80 L384.60,79.80 L385.00,79.84 L385.40,79.25 L385.80,79.66 L386.20,79.89 L386.60,79.21 L387.00,79.15 L387.40,79.20 L387.80,79.22 L388.20,79.59 L388.60,79.75 L389.00,79.74 L389.40,79.60 L389.80,79.93 L390.20,79.93 L390.60,79.36 L391.00,79.86 L391.40,79.62 L391.80,79.23 L392.20,79.49 L392.60,79.19 L393.00,79.33 L393.40,79.72 L393.80,79.14 L394.20,79.44 L394.60,79.35 L395.00,79.25 L395.40,79.15 L395.80,79.42 L396.20,79.28 L396.60,79.16 L397.00,79.32 L397.40,79.57 L397.80,79.15 L398.20,79.68 L398.60,79.15 L399.00,79.38 L399.40,79.30 L399.80,79.75 L400.20,79.79 L400.60,79.62 L401.00,79.25 L401.40,79.27 L401.80,79.71 L402.20,79.40 L402.60,79.51 L403.00,79.60 L403.40,79.19 L403.80,79.30 L404.20,79.85 L404.60,79.27 L405.00,79.73 L405.40,79.17 L405.80,79.14 L406.20,79.39 L406.60,79.24 L407.00,79.47 L407.40,79.64 L407.80,79.14 L408.20,79.38 L408.60,79.29 L409.00,79.78 L409.40,79.71 L409.80,79.75 L410.20,79.60 L410.60,79.27 L411.00,79.48 L411.40,79.42 L411.80,79.28 L412.20,79.23 L412.60,79.50 L413.00,79.76 L413.40,79.21 L413.80,79.27 L414.20,79.17 L414.60,79.28 L415.00,79.29 L415.40,79.15 L415.80,79.49 L416.20,79.26 L416.60,79.65 L417.00,79.20 L417.40,79.57 L417.80,79.83 L418.20,79.17 L418.60,79.28 L419.00,79.82 L419.40,79.30 L419.80,79.25 L420.20,79.16 L420.60,79.66 L421.00,79.25 L421.40,79.71 L421.80,79.41 L422.20,79.17 L422.60,79.83 L423.00,79.73 L423.40,79.57 L423.80,79.44 L424.20,79.58 L424.60,79.77 L425.00,79.18 L425.40,79.20 L425.80,79.58 L426.20,79.30 L426.60,79.81 L427.00,79.65 L427.40,79.37 L427.80,79.16 L428.20,79.44 L428.60,79.43 L429.00,79.41 L429.40,79.59 L429.80,79.33 L430.20,79.70 L430.60,79.42 L431.00,79.16 L431.40,79.62 L431.80,79.16 L432.20,79.70 L432.60,79.72 L432.80,79.00 Z" fill="#222" stroke="#222" stroke-width="0.25" stroke-linejoin="bevel"/>
<path d="M295.50,109.20 L295.50,108.40 L296.75,108.40 L296.75,108.33 L298.00,108.33 L298.00,108.40 L299.25,108.40 L299.25,108.25 L300.50,108.25 L300.50,107.65 L301.75,107.65 L301.75,107.42 L303.00,107.42 L303.00,109.20 L304.25,109.20 L304.25,109.20 L305.50,109.20 L305.50,107.31 L306.75,107.31 L306.75,109.20 L308.00,109.20 L308.00,109.20 L309.25,109.20 L309.25,107.44 L310.50,107.44 L310.50,106.91 L311.75,106.91 L311.75,106.83 L313.00,106.83 L313.00,106.63 L314.25,106.63 L314.25,106.78 L315.50,106.78 L315.50,103.79 L316.75,103.79 L316.75,105.98 L318.00,105.98 L318.00,106.86 L319.25,106.86 L319.25,106.76 L320.50,106.76 L320.50,106.59 L321.75,106.59 L321.75,106.75 L323.00,106.75 L323.00,105.37 L324.25,105.37 L324.25,105.12 L325.50,105.12 L325.50,106.72 L326.75,106.72 L326.75,106.12 L328.00,106.12 L328.00,107.20 L329.25,107.20 L329.25,106.60 L330.50,106.60 L330.50,106.95 L331.75,106.95 L331.75,106.78 L333.00,106.78 L333.00,106.35 L334.25,106.35 L334.25,106.20 L335.50,106.20 L335.50,106.19 L336.75,106.19 L336.75,106.68 L338.00,106.68 L338.00,107.13 L339.25,107.13 L339.25,106.06 L340.50,106.06 L340.50,105.59 L341.75,105.59 L341.75,104.13 L343.00,104.13 L343.00,103.31 L344.25,103.31 L344.25,104.98 L345.50,104.98 L345.50,104.59 L346.75,104.59 L346.75,103.22 L348.00,103.22 L348.00,103.72 L349.25,103.72 L349.25,101.48 L350.50,101.48 L350.50,104.59 L351.75,104.59 L351.75,103.70 L353.00,103.70 L353.00,101.28 L354.25,101.28 L354.25,99.79 L355.50,99.79 L355.50,101.57 L356.75,101.57 L356.75,103.67 L358.00,103.67 L358.00,103.07 L359.25,103.07 L359.25,101.72 L360.50,101.72 L360.50,97.63 L361.75,97.63 L361.75,98.39 L363.00,98.39 L363.00,97.54 L364.25,97.54 L364.25,96.34 L365.50,96.34 L365.50,97.93 L366.75,97.93 L366.75,97.92 L368.00,97.92 L368.00,94.73 L369.25,94.73 L369.25,91.60 L370.50,91.60 L370.50,96.39 L371.75,96.39 L371.75,103.21 L373.00,103.21 L373.00,103.26 L374.25,103.26 L374.25,102.17 L375.50,102.17 L375.50,103.85 L376.75,103.85 L376.75,104.12 L378.00,104.12 L378.00,104.08 L379.25,104.08 L379.25,106.57 L380.50,106.57 L380.50,105.96 L381.75,105.96 L381.75,106.57 L383.00,106.57 L383.00,107.63 L384.25,107.63 L384.25,107.63 L385.50,107.63 L385.50,107.29 L386.75,107.29 L386.75,107.34 L388.00,107.34 L388.00,106.93 L389.25,106.93 L389.25,107.56 L390.50,107.56 L390.50,107.26 L391.75,107.26 L391.75,107.50 L393.00,107.50 L393.00,106.87 L394.25,106.87 L394.25,106.55 L395.50,106.55 L395.50,107.48 L396.75,107.48 L396.75,106.81 L398.00,106.81 L398.00,107.57 L399.25,107.57 L399.25,107.43 L400.50,107.43 L400.50,106.55 L401.75,106.55 L401.75,107.03 L403.00,107.03 L403.00,107.81 L404.25,107.81 L404.25,108.07 L405.50,108.07 L405.50,106.81 L406.75,106.81 L406.75,106.67 L408.00,106.67 L408.00,106.53 L409.25,106.53 L409.25,107.34 L410.50,107.34 L410.50,107.60 L411.75,107.60 L411.75,107.08 L413.00,107.08 L413.00,107.75 L414.25,107.75 L414.25,107.10 L415.50,107.10 L415.50,107.51 L416.75,107.51 L416.75,107.55 L418.00,107.55 L418.00,106.54 L419.25,106.54 L419.25,107.06 L420.50,107.06 L420.50,105.86 L421.75,105.86 L421.75,106.16 L423.00,106.16 L423.00,106.42 L424.25,106.42 L424.25,106.46 L425.50,106.46 L425.50,107.19 L426.75,107.19 L426.75,106.28 L428.00,106.28 L428.00,107.51 L429.25,107.51 L429.25,106.57 L430.50,106.57 L430.50,106.91 L431.75,106.91 L431.75,106.95 L433.00,106.95 L432.80,109.20 Z" fill="#3bb25a" stroke="none" stroke-width="1"/>
<path d="M294.30,126.10 L294.30,120.18 L295.55,120.18 L295.55,119.94 L296.80,119.94 L296.80,120.53 L298.05,120.53 L298.05,121.41 L299.30,121.41 L299.30,119.41 L300.55,119.41 L300.55,117.72 L301.80,117.72 L301.80,120.20 L303.05,120.20 L303.05,119.82 L304.30,119.82 L304.30,122.82 L305.55,122.82 L305.55,122.21 L306.80,122.21 L306.80,122.70 L308.05,122.70 L308.05,121.78 L309.30,121.78 L309.30,120.90 L310.55,120.90 L310.55,119.53 L311.80,119.53 L311.80,120.12 L313.05,120.12 L313.05,119.58 L314.30,119.58 L314.30,121.72 L315.55,121.72 L315.55,123.17 L316.80,123.17 L316.80,122.97 L318.05,122.97 L318.05,122.75 L319.30,122.75 L319.30,122.62 L320.55,122.62 L320.55,123.99 L321.80,123.99 L321.80,123.99 L323.05,123.99 L323.05,124.01 L324.30,124.01 L324.30,123.62 L325.55,123.62 L325.55,122.81 L326.80,122.81 L326.80,123.71 L328.05,123.71 L328.05,124.41 L329.30,124.41 L329.30,123.13 L330.55,123.13 L330.55,126.10 L331.80,126.10 L331.80,123.10 L333.05,123.10 L333.05,124.40 L334.30,124.40 L334.30,124.48 L335.55,124.48 L335.55,124.69 L336.80,124.69 L336.80,123.81 L338.05,123.81 L338.05,124.65 L339.30,124.65 L339.30,124.61 L340.55,124.61 L340.55,126.10 L341.80,126.10 L341.80,126.10 L343.05,126.10 L343.05,123.52 L344.30,123.52 L344.30,121.87 L345.55,121.87 L345.55,122.82 L346.80,122.82 L346.80,122.17 L348.05,122.17 L348.05,123.05 L349.30,123.05 L349.30,122.98 L350.55,122.98 L350.55,121.25 L351.80,121.25 L351.80,120.22 L353.05,120.22 L353.05,122.05 L354.30,122.05 L354.30,122.21 L355.55,122.21 L355.55,123.12 L356.80,123.12 L356.80,122.91 L358.05,122.91 L358.05,122.14 L359.30,122.14 L359.30,121.36 L360.55,121.36 L360.55,121.07 L361.80,121.07 L361.80,122.06 L363.05,122.06 L363.05,123.11 L364.30,123.11 L364.30,122.54 L365.55,122.54 L365.55,123.00 L366.80,123.00 L366.80,123.05 L368.05,123.05 L368.05,121.46 L369.30,121.46 L369.30,121.92 L370.55,121.92 L370.55,123.50 L371.80,123.50 L371.80,121.51 L373.05,121.51 L373.05,120.83 L374.30,120.83 L374.30,122.13 L375.55,122.13 L375.55,120.91 L376.80,120.91 L376.80,122.88 L378.05,122.88 L378.05,121.21 L379.30,121.21 L379.30,122.76 L380.55,122.76 L380.55,121.21 L381.80,121.21 L381.80,121.14 L383.05,121.14 L383.05,120.17 L384.30,120.17 L384.30,121.78 L385.55,121.78 L385.55,121.09 L386.80,121.09 L386.80,119.84 L388.05,119.84 L388.05,122.06 L389.30,122.06 L389.30,122.49 L390.55,122.49 L390.55,121.46 L391.80,121.46 L391.80,122.84 L393.05,122.84 L393.05,123.62 L394.30,123.62 L394.30,124.08 L395.55,124.08 L395.55,123.43 L396.80,123.43 L396.80,122.37 L398.05,122.37 L398.05,122.45 L399.30,122.45 L399.30,122.05 L400.55,122.05 L400.55,123.43 L401.80,123.43 L401.80,123.62 L403.05,123.62 L403.05,122.33 L404.30,122.33 L404.30,123.05 L405.55,123.05 L405.55,123.66 L406.80,123.66 L406.80,123.67 L408.05,123.67 L408.05,121.83 L409.30,121.83 L409.30,120.24 L410.55,120.24 L410.55,121.16 L411.80,121.16 L411.80,122.97 L413.05,122.97 L413.05,122.89 L414.30,122.89 L414.30,121.22 L415.55,121.22 L415.55,120.29 L416.80,120.29 L416.80,121.94 L418.05,121.94 L418.05,121.52 L419.30,121.52 L419.30,122.84 L420.55,122.84 L420.55,121.48 L421.80,121.48 L421.80,120.32 L423.05,120.32 L423.05,120.87 L424.30,120.87 L424.30,120.03 L425.55,120.03 L425.55,121.71 L426.80,121.71 L426.80,120.70 L428.05,120.70 L428.05,121.08 L429.30,121.08 L429.30,120.73 L430.55,120.73 L430.55,122.48 L431.80,122.48 L431.80,121.68 L433.05,121.68 L432.80,126.10 Z" fill="#1c9a4a" stroke="none" stroke-width="1"/>
<path d="M294.30,143.00 L294.30,142.07 L295.55,142.07 L295.55,141.49 L296.80,141.49 L296.80,141.54 L298.05,141.54 L298.05,141.90 L299.30,141.90 L299.30,143.00 L300.55,143.00 L300.55,143.00 L301.80,143.00 L301.80,141.32 L303.05,141.32 L303.05,141.45 L304.30,141.45 L304.30,141.38 L305.55,141.38 L305.55,141.31 L306.80,141.31 L306.80,143.00 L308.05,143.00 L308.05,143.00 L309.30,143.00 L309.30,141.37 L310.55,141.37 L310.55,141.92 L311.80,141.92 L311.80,141.66 L313.05,141.66 L313.05,141.15 L314.30,141.15 L314.30,141.62 L315.55,141.62 L315.55,141.84 L316.80,141.84 L316.80,141.79 L318.05,141.79 L318.05,141.94 L319.30,141.94 L319.30,143.00 L320.55,143.00 L320.55,143.00 L321.80,143.00 L321.80,143.00 L323.05,143.00 L323.05,143.00 L324.30,143.00 L324.30,141.82 L325.55,141.82 L325.55,141.96 L326.80,141.96 L326.80,142.17 L328.05,142.17 L328.05,143.00 L329.30,143.00 L329.30,143.00 L330.55,143.00 L330.55,143.00 L331.80,143.00 L331.80,143.00 L333.05,143.00 L333.05,143.00 L334.30,143.00 L334.30,141.86 L335.55,141.86 L335.55,143.00 L336.80,143.00 L336.80,143.00 L338.05,143.00 L338.05,141.63 L339.30,141.63 L339.30,141.61 L340.55,141.61 L340.55,141.41 L341.80,141.41 L341.80,140.81 L343.05,140.81 L343.05,138.70 L344.30,138.70 L344.30,139.04 L345.55,139.04 L345.55,135.83 L346.80,135.83 L346.80,136.80 L348.05,136.80 L348.05,130.64 L349.30,130.64 L349.30,135.70 L350.55,135.70 L350.55,134.00 L351.80,134.00 L351.80,137.13 L353.05,137.13 L353.05,137.16 L354.30,137.16 L354.30,135.04 L355.55,135.04 L355.55,133.02 L356.80,133.02 L356.80,130.71 L358.05,130.71 L358.05,133.58 L359.30,133.58 L359.30,135.85 L360.55,135.85 L360.55,135.07 L361.80,135.07 L361.80,131.11 L363.05,131.11 L363.05,124.48 L364.30,124.48 L364.30,129.68 L365.55,129.68 L365.55,132.59 L366.80,132.59 L366.80,131.80 L368.05,131.80 L368.05,132.52 L369.30,132.52 L369.30,134.52 L370.55,134.52 L370.55,136.24 L371.80,136.24 L371.80,137.76 L373.05,137.76 L373.05,139.01 L374.30,139.01 L374.30,140.45 L375.55,140.45 L375.55,140.74 L376.80,140.74 L376.80,141.06 L378.05,141.06 L378.05,141.47 L379.30,141.47 L379.30,141.20 L380.55,141.20 L380.55,141.62 L381.80,141.62 L381.80,141.21 L383.05,141.21 L383.05,141.54 L384.30,141.54 L384.30,142.05 L385.55,142.05 L385.55,141.39 L386.80,141.39 L386.80,141.55 L388.05,141.55 L388.05,143.00 L389.30,143.00 L389.30,141.43 L390.55,141.43 L390.55,141.26 L391.80,141.26 L391.80,141.13 L393.05,141.13 L393.05,141.49 L394.30,141.49 L394.30,141.89 L395.55,141.89 L395.55,143.00 L396.80,143.00 L396.80,141.67 L398.05,141.67 L398.05,141.45 L399.30,141.45 L399.30,141.50 L400.55,141.50 L400.55,141.82 L401.80,141.82 L401.80,143.00 L403.05,143.00 L403.05,141.26 L404.30,141.26 L404.30,141.01 L405.55,141.01 L405.55,140.99 L406.80,140.99 L406.80,141.40 L408.05,141.40 L408.05,141.95 L409.30,141.95 L409.30,141.98 L410.55,141.98 L410.55,141.66 L411.80,141.66 L411.80,141.26 L413.05,141.26 L413.05,141.30 L414.30,141.30 L414.30,141.90 L415.55,141.90 L415.55,141.28 L416.80,141.28 L416.80,143.00 L418.05,143.00 L418.05,141.60 L419.30,141.60 L419.30,141.33 L420.55,141.33 L420.55,141.61 L421.80,141.61 L421.80,141.56 L423.05,141.56 L423.05,142.05 L424.30,142.05 L424.30,142.15 L425.55,142.15 L425.55,141.34 L426.80,141.34 L426.80,143.00 L428.05,143.00 L428.05,141.31 L429.30,141.31 L429.30,141.64 L430.55,141.64 L430.55,141.72 L431.80,141.72 L431.80,142.02 L433.05,142.02 L432.80,143.00 Z" fill="#0c6a34" stroke="none" stroke-width="1"/>
<text x="303.10" y="165.00" font-size="8.8" text-anchor="start" fill="#231f20">GRO-seq ctl group gene</text>
<text x="355.00" y="181.00" font-size="7.2" text-anchor="end" fill="#2e3192" font-style="italic">Tgif1</text>
<line x1="355.60" y1="178.40" x2="393.60" y2="178.40" stroke="#2e3192" stroke-width="0.7"/>
<path d="M357.20,177.30 L358.10,178.40 L357.20,179.50" fill="none" stroke="#2e3192" stroke-width="0.5"/>
<path d="M360.10,177.30 L361.00,178.40 L360.10,179.50" fill="none" stroke="#2e3192" stroke-width="0.5"/>
<path d="M363.00,177.30 L363.90,178.40 L363.00,179.50" fill="none" stroke="#2e3192" stroke-width="0.5"/>
<path d="M365.90,177.30 L366.80,178.40 L365.90,179.50" fill="none" stroke="#2e3192" stroke-width="0.5"/>
<path d="M368.80,177.30 L369.70,178.40 L368.80,179.50" fill="none" stroke="#2e3192" stroke-width="0.5"/>
<path d="M371.70,177.30 L372.60,178.40 L371.70,179.50" fill="none" stroke="#2e3192" stroke-width="0.5"/>
<path d="M374.60,177.30 L375.50,178.40 L374.60,179.50" fill="none" stroke="#2e3192" stroke-width="0.5"/>
<path d="M377.50,177.30 L378.40,178.40 L377.50,179.50" fill="none" stroke="#2e3192" stroke-width="0.5"/>
<path d="M380.40,177.30 L381.30,178.40 L380.40,179.50" fill="none" stroke="#2e3192" stroke-width="0.5"/>
<path d="M383.30,177.30 L384.20,178.40 L383.30,179.50" fill="none" stroke="#2e3192" stroke-width="0.5"/>
<path d="M386.20,177.30 L387.10,178.40 L386.20,179.50" fill="none" stroke="#2e3192" stroke-width="0.5"/>
<path d="M389.10,177.30 L390.00,178.40 L389.10,179.50" fill="none" stroke="#2e3192" stroke-width="0.5"/>
<rect x="381.30" y="175.30" width="1.20" height="6.20" fill="#2e3192"/>
<rect x="388.10" y="175.70" width="3.20" height="5.40" fill="#2e3192"/>
<rect x="391.20" y="176.60" width="2.60" height="3.60" fill="#2e3192"/>
<rect x="355.60" y="176.30" width="1.50" height="4.30" fill="#2e3192"/>
<text x="364.00" y="187.80" font-size="7.2" text-anchor="end" fill="#2e3192" font-style="italic">Tgif1</text>
<line x1="364.40" y1="185.20" x2="393.60" y2="185.20" stroke="#2e3192" stroke-width="0.7"/>
<path d="M366.00,184.10 L366.90,185.20 L366.00,186.30" fill="none" stroke="#2e3192" stroke-width="0.5"/>
<path d="M368.90,184.10 L369.80,185.20 L368.90,186.30" fill="none" stroke="#2e3192" stroke-width="0.5"/>
<path d="M371.80,184.10 L372.70,185.20 L371.80,186.30" fill="none" stroke="#2e3192" stroke-width="0.5"/>
<path d="M374.70,184.10 L375.60,185.20 L374.70,186.30" fill="none" stroke="#2e3192" stroke-width="0.5"/>
<path d="M377.60,184.10 L378.50,185.20 L377.60,186.30" fill="none" stroke="#2e3192" stroke-width="0.5"/>
<path d="M380.50,184.10 L381.40,185.20 L380.50,186.30" fill="none" stroke="#2e3192" stroke-width="0.5"/>
<path d="M383.40,184.10 L384.30,185.20 L383.40,186.30" fill="none" stroke="#2e3192" stroke-width="0.5"/>
<path d="M386.30,184.10 L387.20,185.20 L386.30,186.30" fill="none" stroke="#2e3192" stroke-width="0.5"/>
<path d="M389.20,184.10 L390.10,185.20 L389.20,186.30" fill="none" stroke="#2e3192" stroke-width="0.5"/>
<rect x="381.30" y="182.10" width="1.20" height="6.20" fill="#2e3192"/>
<rect x="388.10" y="182.50" width="3.20" height="5.40" fill="#2e3192"/>
<rect x="391.20" y="183.40" width="2.60" height="3.60" fill="#2e3192"/>
<text x="342.40" y="194.60" font-size="7.2" text-anchor="end" fill="#2e3192" font-style="italic">Tgif1</text>
<line x1="342.80" y1="192.00" x2="393.60" y2="192.00" stroke="#2e3192" stroke-width="0.7"/>
<path d="M344.40,190.90 L345.30,192.00 L344.40,193.10" fill="none" stroke="#2e3192" stroke-width="0.5"/>
<path d="M347.30,190.90 L348.20,192.00 L347.30,193.10" fill="none" stroke="#2e3192" stroke-width="0.5"/>
<path d="M350.20,190.90 L351.10,192.00 L350.20,193.10" fill="none" stroke="#2e3192" stroke-width="0.5"/>
<path d="M353.10,190.90 L354.00,192.00 L353.10,193.10" fill="none" stroke="#2e3192" stroke-width="0.5"/>
<path d="M356.00,190.90 L356.90,192.00 L356.00,193.10" fill="none" stroke="#2e3192" stroke-width="0.5"/>
<path d="M358.90,190.90 L359.80,192.00 L358.90,193.10" fill="none" stroke="#2e3192" stroke-width="0.5"/>
<path d="M361.80,190.90 L362.70,192.00 L361.80,193.10" fill="none" stroke="#2e3192" stroke-width="0.5"/>
<path d="M364.70,190.90 L365.60,192.00 L364.70,193.10" fill="none" stroke="#2e3192" stroke-width="0.5"/>
<path d="M367.60,190.90 L368.50,192.00 L367.60,193.10" fill="none" stroke="#2e3192" stroke-width="0.5"/>
<path d="M370.50,190.90 L371.40,192.00 L370.50,193.10" fill="none" stroke="#2e3192" stroke-width="0.5"/>
<path d="M373.40,190.90 L374.30,192.00 L373.40,193.10" fill="none" stroke="#2e3192" stroke-width="0.5"/>
<path d="M376.30,190.90 L377.20,192.00 L376.30,193.10" fill="none" stroke="#2e3192" stroke-width="0.5"/>
<path d="M379.20,190.90 L380.10,192.00 L379.20,193.10" fill="none" stroke="#2e3192" stroke-width="0.5"/>
<path d="M382.10,190.90 L383.00,192.00 L382.10,193.10" fill="none" stroke="#2e3192" stroke-width="0.5"/>
<path d="M385.00,190.90 L385.90,192.00 L385.00,193.10" fill="none" stroke="#2e3192" stroke-width="0.5"/>
<path d="M387.90,190.90 L388.80,192.00 L387.90,193.10" fill="none" stroke="#2e3192" stroke-width="0.5"/>
<rect x="381.30" y="188.90" width="1.20" height="6.20" fill="#2e3192"/>
<rect x="388.10" y="189.30" width="3.20" height="5.40" fill="#2e3192"/>
<rect x="391.20" y="190.20" width="2.60" height="3.60" fill="#2e3192"/>
<text x="333.00" y="204.70" font-size="7.3" text-anchor="end" fill="#231f20">Super-enhancer</text>
<rect x="335.30" y="201.60" width="111.80" height="2.90" fill="#111"/>
<text x="286.00" y="226.40" font-size="7.3" text-anchor="end" fill="#231f20">GRO-seq</text>
<text x="250.70" y="247.70" font-size="7.3" text-anchor="start" fill="#3bb25a">H3K79me1</text>
<text x="250.70" y="267.20" font-size="7.3" text-anchor="start" fill="#1c9a4a">H3K79me2</text>
<text x="250.70" y="282.30" font-size="7.3" text-anchor="start" fill="#0c6a34">H3K79me3</text>
<text x="451.50" y="208.80" font-size="7.0" text-anchor="start" fill="#333">_17</text>
<text x="456.50" y="233.00" font-size="5.2" text-anchor="start" fill="#aaa">-4</text>
<text x="451.50" y="240.00" font-size="7.0" text-anchor="start" fill="#333">_15</text>
<text x="451.50" y="254.80" font-size="7.0" text-anchor="start" fill="#333">_14</text>
<text x="451.50" y="272.40" font-size="7.0" text-anchor="start" fill="#333">_29</text>
<path d="M294.70,224.10 L294.70,223.82 L295.10,223.50 L295.50,223.76 L295.90,223.78 L296.30,223.91 L296.70,223.62 L297.10,223.90 L297.50,223.32 L297.90,223.91 L298.30,223.33 L298.70,223.96 L299.10,223.79 L299.50,223.71 L299.90,223.33 L300.30,223.44 L300.70,223.87 L301.10,223.64 L301.50,223.42 L301.90,223.93 L302.30,223.46 L302.70,223.47 L303.10,223.30 L303.50,223.91 L303.90,223.53 L304.30,223.77 L304.70,223.31 L305.10,223.50 L305.50,223.97 L305.90,223.32 L306.30,223.44 L306.70,223.88 L307.10,223.29 L307.50,223.93 L307.90,223.31 L308.30,223.65 L308.70,223.97 L309.10,223.45 L309.50,223.85 L309.90,223.96 L310.30,223.93 L310.70,223.95 L311.10,223.76 L311.50,223.87 L311.90,223.32 L312.30,223.81 L312.70,223.95 L313.10,223.97 L313.50,223.54 L313.90,223.95 L314.30,223.26 L314.70,223.49 L315.10,223.66 L315.50,223.66 L315.90,223.87 L316.30,223.32 L316.70,223.85 L317.10,223.93 L317.50,223.65 L317.90,223.36 L318.30,223.23 L318.70,223.80 L319.10,223.89 L319.50,223.74 L319.90,223.94 L320.30,223.62 L320.70,223.89 L321.10,223.85 L321.50,223.43 L321.90,223.25 L322.30,223.60 L322.70,223.86 L323.10,223.24 L323.50,223.62 L323.90,223.65 L324.30,223.77 L324.70,223.38 L325.10,223.83 L325.50,223.92 L325.90,223.81 L326.30,223.83 L326.70,223.91 L327.10,223.93 L327.50,223.51 L327.90,223.87 L328.30,223.32 L328.70,223.55 L329.10,223.34 L329.50,223.53 L329.90,223.95 L330.30,223.38 L330.70,223.95 L331.10,223.76 L331.50,223.34 L331.90,223.64 L332.30,223.25 L332.70,223.67 L333.10,223.41 L333.50,223.77 L333.90,223.81 L334.30,223.55 L334.70,223.70 L335.10,223.80 L335.50,223.38 L335.90,223.76 L336.30,223.19 L336.70,223.66 L337.10,223.75 L337.50,223.17 L337.90,223.64 L338.30,223.77 L338.70,223.57 L339.10,223.67 L339.50,223.95 L339.90,223.87 L340.30,223.71 L340.70,223.00 L341.10,223.06 L341.50,222.94 L341.90,222.93 L342.30,221.11 L342.70,222.77 L343.10,223.19 L343.50,223.12 L343.90,220.71 L344.30,222.74 L344.70,222.64 L345.10,223.17 L345.50,223.27 L345.90,218.82 L346.30,223.20 L346.70,222.61 L347.10,222.61 L347.50,222.41 L347.90,218.43 L348.30,223.08 L348.70,218.84 L349.10,222.12 L349.50,222.46 L349.90,222.68 L350.30,221.14 L350.70,223.28 L351.10,222.12 L351.50,222.95 L351.90,220.21 L352.30,222.54 L352.70,217.88 L353.10,219.88 L353.50,213.43 L353.90,212.42 L354.30,215.13 L354.70,221.82 L355.10,220.10 L355.50,218.39 L355.90,220.98 L356.30,221.01 L356.70,223.03 L357.10,223.14 L357.50,221.91 L357.90,220.91 L358.30,223.36 L358.70,220.70 L359.10,222.87 L359.50,222.86 L359.90,222.08 L360.30,221.79 L360.70,223.10 L361.10,220.97 L361.50,219.48 L361.90,222.25 L362.30,218.42 L362.70,219.58 L363.10,219.62 L363.50,221.52 L363.90,221.49 L364.30,223.25 L364.70,221.43 L365.10,216.91 L365.50,216.40 L365.90,222.71 L366.30,216.24 L366.70,222.71 L367.10,222.02 L367.50,223.20 L367.90,223.38 L368.30,222.55 L368.70,222.01 L369.10,223.32 L369.50,222.55 L369.90,223.19 L370.30,223.72 L370.70,223.82 L371.10,223.00 L371.50,223.61 L371.90,223.10 L372.30,223.82 L372.70,223.93 L373.10,223.26 L373.50,223.38 L373.90,223.13 L374.30,223.82 L374.70,223.28 L375.10,223.89 L375.50,223.29 L375.90,223.53 L376.30,223.85 L376.70,223.91 L377.10,223.65 L377.50,223.52 L377.90,223.68 L378.30,223.24 L378.70,223.89 L379.10,223.78 L379.50,223.95 L379.90,223.93 L380.30,223.37 L380.70,223.39 L381.10,223.46 L381.50,223.77 L381.90,223.66 L382.30,223.90 L382.70,223.95 L383.10,223.47 L383.50,223.91 L383.90,223.45 L384.30,223.28 L384.70,223.95 L385.10,223.84 L385.50,223.93 L385.90,223.91 L386.30,223.24 L386.70,223.56 L387.10,223.58 L387.50,223.80 L387.90,223.59 L388.30,223.70 L388.70,223.90 L389.10,223.89 L389.50,223.89 L389.90,223.85 L390.30,223.71 L390.70,223.62 L391.10,223.93 L391.50,223.86 L391.90,223.51 L392.30,223.64 L392.70,223.95 L393.10,223.76 L393.50,223.61 L393.90,223.36 L394.30,223.90 L394.70,223.93 L395.10,223.64 L395.50,223.43 L395.90,223.97 L396.30,223.86 L396.70,223.60 L397.10,223.84 L397.50,223.96 L397.90,223.35 L398.30,223.57 L398.70,223.90 L399.10,223.96 L399.50,223.88 L399.90,223.66 L400.30,223.55 L400.70,223.25 L401.10,223.97 L401.50,223.67 L401.90,223.46 L402.30,223.94 L402.70,223.89 L403.10,223.35 L403.50,223.64 L403.90,223.37 L404.30,223.91 L404.70,223.41 L405.10,223.39 L405.50,223.76 L405.90,223.97 L406.30,223.40 L406.70,223.49 L407.10,223.46 L407.50,223.63 L407.90,223.58 L408.30,223.95 L408.70,223.97 L409.10,223.40 L409.50,223.64 L409.90,223.66 L410.30,223.60 L410.70,223.93 L411.10,223.52 L411.50,223.38 L411.90,223.42 L412.30,223.84 L412.70,223.94 L413.10,223.71 L413.50,223.94 L413.90,223.47 L414.30,223.32 L414.70,223.82 L415.10,223.68 L415.50,223.38 L415.90,223.73 L416.30,223.66 L416.70,223.45 L417.10,223.76 L417.50,223.46 L417.90,223.98 L418.30,223.65 L418.70,223.50 L419.10,223.79 L419.50,223.91 L419.90,223.46 L420.30,223.63 L420.70,223.98 L421.10,223.98 L421.50,223.49 L421.90,223.98 L422.30,223.66 L422.70,223.82 L423.10,223.47 L423.50,223.96 L423.90,223.50 L424.30,223.76 L424.70,223.71 L425.10,223.87 L425.50,223.90 L425.90,223.84 L426.30,223.98 L426.70,223.84 L427.10,223.84 L427.50,223.82 L427.90,223.45 L428.30,223.52 L428.70,223.96 L429.10,223.71 L429.50,223.82 L429.90,223.61 L430.30,223.89 L430.70,223.89 L431.10,223.78 L431.50,223.78 L431.90,223.98 L432.30,223.77 L432.70,223.61 L433.10,223.71 L433.50,223.68 L433.90,223.86 L434.30,223.83 L434.70,223.85 L435.10,223.53 L435.50,223.80 L435.90,223.50 L436.30,223.96 L436.70,223.45 L437.10,223.98 L437.50,223.98 L437.90,223.93 L438.30,223.80 L438.70,223.80 L439.10,223.66 L439.50,223.63 L439.90,223.74 L440.30,223.98 L440.70,223.56 L441.10,223.94 L441.50,223.51 L441.90,223.73 L442.30,223.98 L442.70,223.87 L443.10,223.52 L443.50,223.80 L443.90,223.85 L444.30,223.50 L444.70,223.54 L445.10,223.95 L445.50,223.94 L445.90,223.63 L446.30,223.88 L446.70,223.63 L447.10,223.98 L447.50,223.97 L447.90,223.91 L448.30,223.70 L448.70,223.53 L449.10,223.97 L449.50,223.98 L449.90,223.67 L450.30,223.86 L450.70,223.75 L450.90,224.10 Z" fill="#1a1a1a" stroke="#1a1a1a" stroke-width="0.25" stroke-linejoin="bevel"/>
<path d="M294.70,224.40 L294.70,224.52 L295.10,224.52 L295.50,224.52 L295.90,224.52 L296.30,224.52 L296.70,224.52 L297.10,224.52 L297.50,224.52 L297.90,224.52 L298.30,224.52 L298.70,224.52 L299.10,224.52 L299.50,224.52 L299.90,224.52 L300.30,224.52 L300.70,224.52 L301.10,224.52 L301.50,224.52 L301.90,224.52 L302.30,224.52 L302.70,224.52 L303.10,224.52 L303.50,224.52 L303.90,224.52 L304.30,224.52 L304.70,224.52 L305.10,224.52 L305.50,224.52 L305.90,224.52 L306.30,224.52 L306.70,224.52 L307.10,224.52 L307.50,224.52 L307.90,224.52 L308.30,224.52 L308.70,224.52 L309.10,224.52 L309.50,224.52 L309.90,224.52 L310.30,224.52 L310.70,224.52 L311.10,224.52 L311.50,224.52 L311.90,224.52 L312.30,224.52 L312.70,224.52 L313.10,224.52 L313.50,224.52 L313.90,224.52 L314.30,224.52 L314.70,224.52 L315.10,224.52 L315.50,224.52 L315.90,224.52 L316.30,224.52 L316.70,224.52 L317.10,224.52 L317.50,224.52 L317.90,224.52 L318.30,224.52 L318.70,224.52 L319.10,224.52 L319.50,224.52 L319.90,224.52 L320.30,224.52 L320.70,224.52 L321.10,224.52 L321.50,224.52 L321.90,224.52 L322.30,224.52 L322.70,224.52 L323.10,224.52 L323.50,224.52 L323.90,224.52 L324.30,224.52 L324.70,224.52 L325.10,224.52 L325.50,224.52 L325.90,224.52 L326.30,224.52 L326.70,224.52 L327.10,224.52 L327.50,224.52 L327.90,224.52 L328.30,224.52 L328.70,224.52 L329.10,224.52 L329.50,224.52 L329.90,224.52 L330.30,224.52 L330.70,224.52 L331.10,224.52 L331.50,224.52 L331.90,224.52 L332.30,224.52 L332.70,224.52 L333.10,224.52 L333.50,224.52 L333.90,224.52 L334.30,224.52 L334.70,224.52 L335.10,224.52 L335.50,224.52 L335.90,224.52 L336.30,224.52 L336.70,224.52 L337.10,224.52 L337.50,224.52 L337.90,224.52 L338.30,224.52 L338.70,224.52 L339.10,224.52 L339.50,224.52 L339.90,224.52 L340.30,224.52 L340.70,224.52 L341.10,224.52 L341.50,224.52 L341.90,224.52 L342.30,224.71 L342.70,224.70 L343.10,225.30 L343.50,225.75 L343.90,225.31 L344.30,224.87 L344.70,226.47 L345.10,225.32 L345.50,227.84 L345.90,224.95 L346.30,226.79 L346.70,226.39 L347.10,227.83 L347.50,227.72 L347.90,228.00 L348.30,227.32 L348.70,227.07 L349.10,227.54 L349.50,227.63 L349.90,226.45 L350.30,226.20 L350.70,225.65 L351.10,226.76 L351.50,227.83 L351.90,231.63 L352.30,226.53 L352.70,232.70 L353.10,231.92 L353.50,227.84 L353.90,231.51 L354.30,236.12 L354.70,234.73 L355.10,232.94 L355.50,228.10 L355.90,228.55 L356.30,228.67 L356.70,227.70 L357.10,229.38 L357.50,234.51 L357.90,233.07 L358.30,227.69 L358.70,231.40 L359.10,230.17 L359.50,226.23 L359.90,226.77 L360.30,226.75 L360.70,225.88 L361.10,229.55 L361.50,228.76 L361.90,226.69 L362.30,230.75 L362.70,226.83 L363.10,225.84 L363.50,226.91 L363.90,226.83 L364.30,225.77 L364.70,226.47 L365.10,228.59 L365.50,228.02 L365.90,225.50 L366.30,228.21 L366.70,227.73 L367.10,225.48 L367.50,226.07 L367.90,228.43 L368.30,228.96 L368.70,228.88 L369.10,226.22 L369.50,229.53 L369.90,227.18 L370.30,227.91 L370.70,226.03 L371.10,226.16 L371.50,225.55 L371.90,225.53 L372.30,228.36 L372.70,225.45 L373.10,228.11 L373.50,226.70 L373.90,226.23 L374.30,226.90 L374.70,229.62 L375.10,227.85 L375.50,226.87 L375.90,227.76 L376.30,227.73 L376.70,225.42 L377.10,225.93 L377.50,230.12 L377.90,229.53 L378.30,228.65 L378.70,230.92 L379.10,228.68 L379.50,228.40 L379.90,230.20 L380.30,225.80 L380.70,227.04 L381.10,229.33 L381.50,225.80 L381.90,228.41 L382.30,225.52 L382.70,225.51 L383.10,226.49 L383.50,228.77 L383.90,229.38 L384.30,227.01 L384.70,228.45 L385.10,226.68 L385.50,226.39 L385.90,225.79 L386.30,226.70 L386.70,230.56 L387.10,228.05 L387.50,226.93 L387.90,227.66 L388.30,227.91 L388.70,228.82 L389.10,227.32 L389.50,227.45 L389.90,226.16 L390.30,228.84 L390.70,230.16 L391.10,227.75 L391.50,225.50 L391.90,226.46 L392.30,228.12 L392.70,225.71 L393.10,229.73 L393.50,225.55 L393.90,229.97 L394.30,228.67 L394.70,227.58 L395.10,227.48 L395.50,229.76 L395.90,227.01 L396.30,229.86 L396.70,230.43 L397.10,225.49 L397.50,229.85 L397.90,227.12 L398.30,229.28 L398.70,225.55 L399.10,229.04 L399.50,226.91 L399.90,228.18 L400.30,226.42 L400.70,225.42 L401.10,227.33 L401.50,229.65 L401.90,226.29 L402.30,226.12 L402.70,228.14 L403.10,226.62 L403.50,225.26 L403.90,226.37 L404.30,225.62 L404.70,228.95 L405.10,227.82 L405.50,227.47 L405.90,226.60 L406.30,225.82 L406.70,226.41 L407.10,228.26 L407.50,226.01 L407.90,227.67 L408.30,225.62 L408.70,225.88 L409.10,229.52 L409.50,225.77 L409.90,225.81 L410.30,226.65 L410.70,228.16 L411.10,229.02 L411.50,225.68 L411.90,229.27 L412.30,226.56 L412.70,225.48 L413.10,225.20 L413.50,225.40 L413.90,226.01 L414.30,226.16 L414.70,227.33 L415.10,228.66 L415.50,229.64 L415.90,229.74 L416.30,228.00 L416.70,227.57 L417.10,228.61 L417.50,229.51 L417.90,226.05 L418.30,227.06 L418.70,225.37 L419.10,228.23 L419.50,230.09 L419.90,230.03 L420.30,227.14 L420.70,227.51 L421.10,228.94 L421.50,225.91 L421.90,229.56 L422.30,226.25 L422.70,229.14 L423.10,226.65 L423.50,227.65 L423.90,229.91 L424.30,225.43 L424.70,228.73 L425.10,225.89 L425.50,227.75 L425.90,226.26 L426.30,227.15 L426.70,225.57 L427.10,228.39 L427.50,229.09 L427.90,225.85 L428.30,227.92 L428.70,230.29 L429.10,226.83 L429.50,226.03 L429.90,225.48 L430.30,226.97 L430.70,230.08 L431.10,230.53 L431.50,226.72 L431.90,228.49 L432.30,225.42 L432.70,226.24 L433.10,229.58 L433.50,230.10 L433.90,228.27 L434.30,226.09 L434.70,226.99 L435.10,225.86 L435.50,225.47 L435.90,227.66 L436.30,228.76 L436.70,226.90 L437.10,225.60 L437.50,229.95 L437.90,230.03 L438.30,226.85 L438.70,225.49 L439.10,226.42 L439.50,227.45 L439.90,225.59 L440.30,229.58 L440.70,225.41 L441.10,230.59 L441.50,228.44 L441.90,225.47 L442.30,229.85 L442.70,226.30 L443.10,225.77 L443.50,229.76 L443.90,225.32 L444.30,227.00 L444.70,226.21 L445.10,226.37 L445.50,226.59 L445.90,225.79 L446.30,225.83 L446.70,227.70 L447.10,225.29 L447.50,227.56 L447.90,225.87 L448.30,227.57 L448.70,227.25 L449.10,225.02 L449.50,226.32 L449.90,224.90 L450.30,225.98 L450.70,225.58 L450.90,224.40 Z" fill="#a8a8a8" stroke="#a8a8a8" stroke-width="0.25" stroke-linejoin="bevel"/>
<path d="M294.70,254.80 L294.70,251.80 L295.95,251.80 L295.95,251.94 L297.20,251.94 L297.20,251.13 L298.45,251.13 L298.45,250.93 L299.70,250.93 L299.70,250.86 L300.95,250.86 L300.95,251.69 L302.20,251.69 L302.20,250.71 L303.45,250.71 L303.45,252.07 L304.70,252.07 L304.70,251.15 L305.95,251.15 L305.95,251.12 L307.20,251.12 L307.20,252.17 L308.45,252.17 L308.45,250.79 L309.70,250.79 L309.70,250.96 L310.95,250.96 L310.95,252.35 L312.20,252.35 L312.20,251.23 L313.45,251.23 L313.45,251.05 L314.70,251.05 L314.70,251.32 L315.95,251.32 L315.95,252.58 L317.20,252.58 L317.20,251.46 L318.45,251.46 L318.45,250.38 L319.70,250.38 L319.70,250.17 L320.95,250.17 L320.95,251.54 L322.20,251.54 L322.20,251.07 L323.45,251.07 L323.45,252.12 L324.70,252.12 L324.70,251.56 L325.95,251.56 L325.95,251.79 L327.20,251.79 L327.20,250.73 L328.45,250.73 L328.45,251.23 L329.70,251.23 L329.70,250.09 L330.95,250.09 L330.95,249.71 L332.20,249.71 L332.20,249.82 L333.45,249.82 L333.45,247.49 L334.70,247.49 L334.70,248.18 L335.95,248.18 L335.95,250.51 L337.20,250.51 L337.20,250.25 L338.45,250.25 L338.45,250.56 L339.70,250.56 L339.70,250.28 L340.95,250.28 L340.95,251.49 L342.20,251.49 L342.20,251.78 L343.45,251.78 L343.45,251.75 L344.70,251.75 L344.70,251.20 L345.95,251.20 L345.95,250.56 L347.20,250.56 L347.20,248.55 L348.45,248.55 L348.45,247.71 L349.70,247.71 L349.70,249.03 L350.95,249.03 L350.95,250.45 L352.20,250.45 L352.20,250.68 L353.45,250.68 L353.45,251.19 L354.70,251.19 L354.70,252.54 L355.95,252.54 L355.95,252.15 L357.20,252.15 L357.20,252.91 L358.45,252.91 L358.45,251.65 L359.70,251.65 L359.70,250.63 L360.95,250.63 L360.95,252.05 L362.20,252.05 L362.20,251.60 L363.45,251.60 L363.45,250.63 L364.70,250.63 L364.70,251.73 L365.95,251.73 L365.95,252.53 L367.20,252.53 L367.20,251.34 L368.45,251.34 L368.45,250.75 L369.70,250.75 L369.70,250.21 L370.95,250.21 L370.95,249.21 L372.20,249.21 L372.20,250.09 L373.45,250.09 L373.45,248.55 L374.70,248.55 L374.70,245.70 L375.95,245.70 L375.95,247.84 L377.20,247.84 L377.20,248.54 L378.45,248.54 L378.45,244.06 L379.70,244.06 L379.70,244.77 L380.95,244.77 L380.95,236.63 L382.20,236.63 L382.20,233.34 L383.45,233.34 L383.45,239.64 L384.70,239.64 L384.70,240.36 L385.95,240.36 L385.95,237.59 L387.20,237.59 L387.20,242.81 L388.45,242.81 L388.45,245.87 L389.70,245.87 L389.70,247.59 L390.95,247.59 L390.95,242.26 L392.20,242.26 L392.20,238.70 L393.45,238.70 L393.45,242.89 L394.70,242.89 L394.70,245.31 L395.95,245.31 L395.95,243.90 L397.20,243.90 L397.20,241.77 L398.45,241.77 L398.45,242.84 L399.70,242.84 L399.70,248.18 L400.95,248.18 L400.95,248.96 L402.20,248.96 L402.20,249.37 L403.45,249.37 L403.45,244.36 L404.70,244.36 L404.70,243.11 L405.95,243.11 L405.95,248.40 L407.20,248.40 L407.20,246.04 L408.45,246.04 L408.45,244.85 L409.70,244.85 L409.70,244.93 L410.95,244.93 L410.95,248.48 L412.20,248.48 L412.20,246.68 L413.45,246.68 L413.45,249.54 L414.70,249.54 L414.70,251.36 L415.95,251.36 L415.95,251.87 L417.20,251.87 L417.20,252.35 L418.45,252.35 L418.45,250.32 L419.70,250.32 L419.70,251.21 L420.95,251.21 L420.95,250.79 L422.20,250.79 L422.20,251.70 L423.45,251.70 L423.45,251.50 L424.70,251.50 L424.70,250.95 L425.95,250.95 L425.95,252.04 L427.20,252.04 L427.20,250.94 L428.45,250.94 L428.45,252.65 L429.70,252.65 L429.70,251.60 L430.95,251.60 L430.95,252.60 L432.20,252.60 L432.20,251.94 L433.45,251.94 L433.45,252.32 L434.70,252.32 L434.70,251.30 L435.95,251.30 L435.95,252.28 L437.20,252.28 L437.20,252.13 L438.45,252.13 L438.45,251.31 L439.70,251.31 L439.70,251.21 L440.95,251.21 L440.95,251.28 L442.20,251.28 L442.20,251.27 L443.45,251.27 L443.45,248.25 L444.70,248.25 L444.70,247.39 L445.95,247.39 L445.95,251.35 L447.20,251.35 L447.20,252.42 L448.45,252.42 L448.45,252.47 L449.70,252.47 L449.70,251.43 L450.95,251.43 L450.90,254.80 Z" fill="#3bb25a" stroke="none" stroke-width="1"/>
<path d="M294.70,271.80 L294.70,265.67 L295.95,265.67 L295.95,268.05 L297.20,268.05 L297.20,267.09 L298.45,267.09 L298.45,268.38 L299.70,268.38 L299.70,269.28 L300.95,269.28 L300.95,269.73 L302.20,269.73 L302.20,269.78 L303.45,269.78 L303.45,269.37 L304.70,269.37 L304.70,269.01 L305.95,269.01 L305.95,269.93 L307.20,269.93 L307.20,269.29 L308.45,269.29 L308.45,269.32 L309.70,269.32 L309.70,269.55 L310.95,269.55 L310.95,269.29 L312.20,269.29 L312.20,269.11 L313.45,269.11 L313.45,269.16 L314.70,269.16 L314.70,269.49 L315.95,269.49 L315.95,269.07 L317.20,269.07 L317.20,269.02 L318.45,269.02 L318.45,269.46 L319.70,269.46 L319.70,270.10 L320.95,270.10 L320.95,269.97 L322.20,269.97 L322.20,269.88 L323.45,269.88 L323.45,269.57 L324.70,269.57 L324.70,268.30 L325.95,268.30 L325.95,269.40 L327.20,269.40 L327.20,268.30 L328.45,268.30 L328.45,268.24 L329.70,268.24 L329.70,268.78 L330.95,268.78 L330.95,267.07 L332.20,267.07 L332.20,266.73 L333.45,266.73 L333.45,266.66 L334.70,266.66 L334.70,263.53 L335.95,263.53 L335.95,260.97 L337.20,260.97 L337.20,258.73 L338.45,258.73 L338.45,263.57 L339.70,263.57 L339.70,265.91 L340.95,265.91 L340.95,266.32 L342.20,266.32 L342.20,267.03 L343.45,267.03 L343.45,269.16 L344.70,269.16 L344.70,269.75 L345.95,269.75 L345.95,270.25 L347.20,270.25 L347.20,270.56 L348.45,270.56 L348.45,270.54 L349.70,270.54 L349.70,269.69 L350.95,269.69 L350.95,269.93 L352.20,269.93 L352.20,270.08 L353.45,270.08 L353.45,269.41 L354.70,269.41 L354.70,269.20 L355.95,269.20 L355.95,268.20 L357.20,268.20 L357.20,268.81 L358.45,268.81 L358.45,269.00 L359.70,269.00 L359.70,268.85 L360.95,268.85 L360.95,267.40 L362.20,267.40 L362.20,265.04 L363.45,265.04 L363.45,263.56 L364.70,263.56 L364.70,263.65 L365.95,263.65 L365.95,262.01 L367.20,262.01 L367.20,262.10 L368.45,262.10 L368.45,264.52 L369.70,264.52 L369.70,266.34 L370.95,266.34 L370.95,267.27 L372.20,267.27 L372.20,268.04 L373.45,268.04 L373.45,266.55 L374.70,266.55 L374.70,266.99 L375.95,266.99 L375.95,267.49 L377.20,267.49 L377.20,268.29 L378.45,268.29 L378.45,268.28 L379.70,268.28 L379.70,268.90 L380.95,268.90 L380.95,268.90 L382.20,268.90 L382.20,269.45 L383.45,269.45 L383.45,269.38 L384.70,269.38 L384.70,270.26 L385.95,270.26 L385.95,269.05 L387.20,269.05 L387.20,269.55 L388.45,269.55 L388.45,270.09 L389.70,270.09 L389.70,269.42 L390.95,269.42 L390.95,270.13 L392.20,270.13 L392.20,270.23 L393.45,270.23 L393.45,270.35 L394.70,270.35 L394.70,270.64 L395.95,270.64 L395.95,270.24 L397.20,270.24 L397.20,270.16 L398.45,270.16 L398.45,270.07 L399.70,270.07 L399.70,269.82 L400.95,269.82 L400.95,269.52 L402.20,269.52 L402.20,270.11 L403.45,270.11 L403.45,270.49 L404.70,270.49 L404.70,269.67 L405.95,269.67 L405.95,269.91 L407.20,269.91 L407.20,269.58 L408.45,269.58 L408.45,269.86 L409.70,269.86 L409.70,269.55 L410.95,269.55 L410.95,270.45 L412.20,270.45 L412.20,270.58 L413.45,270.58 L413.45,269.81 L414.70,269.81 L414.70,270.57 L415.95,270.57 L415.95,270.17 L417.20,270.17 L417.20,270.18 L418.45,270.18 L418.45,269.80 L419.70,269.80 L419.70,269.87 L420.95,269.87 L420.95,269.94 L422.20,269.94 L422.20,269.91 L423.45,269.91 L423.45,270.65 L424.70,270.65 L424.70,270.29 L425.95,270.29 L425.95,270.37 L427.20,270.37 L427.20,270.12 L428.45,270.12 L428.45,270.52 L429.70,270.52 L429.70,270.59 L430.95,270.59 L430.95,270.54 L432.20,270.54 L432.20,269.76 L433.45,269.76 L433.45,270.02 L434.70,270.02 L434.70,270.50 L435.95,270.50 L435.95,269.99 L437.20,269.99 L437.20,269.65 L438.45,269.65 L438.45,270.16 L439.70,270.16 L439.70,270.49 L440.95,270.49 L440.95,270.68 L442.20,270.68 L442.20,270.66 L443.45,270.66 L443.45,270.17 L444.70,270.17 L444.70,270.35 L445.95,270.35 L445.95,269.77 L447.20,269.77 L447.20,269.96 L448.45,269.96 L448.45,270.48 L449.70,270.48 L449.70,270.23 L450.95,270.23 L450.90,271.80 Z" fill="#1c9a4a" stroke="none" stroke-width="1"/>
<path d="M294.70,291.00 L294.70,288.86 L295.95,288.86 L295.95,288.82 L297.20,288.82 L297.20,291.00 L298.45,291.00 L298.45,287.56 L299.70,287.56 L299.70,287.25 L300.95,287.25 L300.95,291.00 L302.20,291.00 L302.20,288.21 L303.45,288.21 L303.45,287.45 L304.70,287.45 L304.70,287.43 L305.95,287.43 L305.95,291.00 L307.20,291.00 L307.20,287.68 L308.45,287.68 L308.45,287.47 L309.70,287.47 L309.70,288.31 L310.95,288.31 L310.95,291.00 L312.20,291.00 L312.20,287.44 L313.45,287.44 L313.45,287.83 L314.70,287.83 L314.70,291.00 L315.95,291.00 L315.95,287.39 L317.20,287.39 L317.20,288.73 L318.45,288.73 L318.45,291.00 L319.70,291.00 L319.70,288.15 L320.95,288.15 L320.95,287.47 L322.20,287.47 L322.20,287.97 L323.45,287.97 L323.45,291.00 L324.70,291.00 L324.70,287.77 L325.95,287.77 L325.95,288.28 L327.20,288.28 L327.20,287.79 L328.45,287.79 L328.45,291.00 L329.70,291.00 L329.70,291.00 L330.95,291.00 L330.95,287.64 L332.20,287.64 L332.20,289.08 L333.45,289.08 L333.45,288.28 L334.70,288.28 L334.70,291.00 L335.95,291.00 L335.95,287.81 L337.20,287.81 L337.20,288.60 L338.45,288.60 L338.45,288.73 L339.70,288.73 L339.70,291.00 L340.95,291.00 L340.95,287.82 L342.20,287.82 L342.20,287.93 L343.45,287.93 L343.45,287.40 L344.70,287.40 L344.70,288.79 L345.95,288.79 L345.95,288.50 L347.20,288.50 L347.20,287.78 L348.45,287.78 L348.45,288.37 L349.70,288.37 L349.70,287.58 L350.95,287.58 L350.95,287.54 L352.20,287.54 L352.20,287.10 L353.45,287.10 L353.45,286.10 L354.70,286.10 L354.70,285.74 L355.95,285.74 L355.95,283.68 L357.20,283.68 L357.20,283.24 L358.45,283.24 L358.45,282.28 L359.70,282.28 L359.70,285.15 L360.95,285.15 L360.95,286.17 L362.20,286.17 L362.20,287.29 L363.45,287.29 L363.45,285.62 L364.70,285.62 L364.70,284.96 L365.95,284.96 L365.95,285.95 L367.20,285.95 L367.20,286.59 L368.45,286.59 L368.45,287.60 L369.70,287.60 L369.70,287.84 L370.95,287.84 L370.95,288.48 L372.20,288.48 L372.20,288.50 L373.45,288.50 L373.45,287.63 L374.70,287.63 L374.70,287.90 L375.95,287.90 L375.95,288.49 L377.20,288.49 L377.20,288.73 L378.45,288.73 L378.45,288.82 L379.70,288.82 L379.70,288.56 L380.95,288.56 L380.95,289.11 L382.20,289.11 L382.20,288.60 L383.45,288.60 L383.45,289.24 L384.70,289.24 L384.70,289.28 L385.95,289.28 L385.95,288.93 L387.20,288.93 L387.20,288.13 L388.45,288.13 L388.45,291.00 L389.70,291.00 L389.70,288.27 L390.95,288.27 L390.95,288.14 L392.20,288.14 L392.20,289.04 L393.45,289.04 L393.45,289.32 L394.70,289.32 L394.70,288.94 L395.95,288.94 L395.95,291.00 L397.20,291.00 L397.20,288.68 L398.45,288.68 L398.45,287.69 L399.70,287.69 L399.70,288.60 L400.95,288.60 L400.95,288.06 L402.20,288.06 L402.20,288.77 L403.45,288.77 L403.45,288.32 L404.70,288.32 L404.70,291.00 L405.95,291.00 L405.95,288.78 L407.20,288.78 L407.20,288.16 L408.45,288.16 L408.45,287.55 L409.70,287.55 L409.70,288.25 L410.95,288.25 L410.95,288.87 L412.20,288.87 L412.20,291.00 L413.45,291.00 L413.45,289.04 L414.70,289.04 L414.70,289.01 L415.95,289.01 L415.95,287.92 L417.20,287.92 L417.20,287.96 L418.45,287.96 L418.45,287.58 L419.70,287.58 L419.70,287.53 L420.95,287.53 L420.95,291.00 L422.20,291.00 L422.20,287.73 L423.45,287.73 L423.45,288.47 L424.70,288.47 L424.70,288.73 L425.95,288.73 L425.95,288.07 L427.20,288.07 L427.20,287.58 L428.45,287.58 L428.45,288.36 L429.70,288.36 L429.70,288.59 L430.95,288.59 L430.95,291.00 L432.20,291.00 L432.20,288.62 L433.45,288.62 L433.45,288.50 L434.70,288.50 L434.70,287.93 L435.95,287.93 L435.95,288.62 L437.20,288.62 L437.20,287.67 L438.45,287.67 L438.45,288.23 L439.70,288.23 L439.70,291.00 L440.95,291.00 L440.95,287.82 L442.20,287.82 L442.20,288.41 L443.45,288.41 L443.45,288.93 L444.70,288.93 L444.70,289.29 L445.95,289.29 L445.95,289.45 L447.20,289.45 L447.20,288.59 L448.45,288.59 L448.45,288.46 L449.70,288.46 L449.70,288.41 L450.95,288.41 L450.90,291.00 Z" fill="#0c6a34" stroke="none" stroke-width="1"/>
<text x="305.30" y="310.80" font-size="7.3" text-anchor="end" fill="#231f20">20 kb</text>
<line x1="307.20" y1="309.50" x2="418.60" y2="309.50" stroke="#444" stroke-width="0.8"/>
<line x1="307.40" y1="307.00" x2="307.40" y2="312.50" stroke="#444" stroke-width="0.8"/>
<line x1="418.40" y1="307.00" x2="418.40" y2="312.50" stroke="#444" stroke-width="0.8"/>
<text x="422.30" y="310.80" font-size="7.3" text-anchor="start" fill="#231f20">mm10</text>
<path d="M518.50,118.50 L519.90,117.70 L521.30,118.17 L522.70,117.68 L524.10,118.05 L525.50,117.09 L526.92,117.45 L528.34,116.15 L529.76,116.93 L531.18,115.98 L532.60,115.23 L534.03,115.54 L535.47,116.16 L536.90,115.53 L539.20,120.30 L541.30,97.01 L543.40,81.20 L545.70,71.74 L547.00,74.06 L548.30,76.35 L550.05,80.63 L551.80,83.74 L553.12,86.52 L554.45,88.90 L555.77,91.13 L557.10,93.42 L558.40,94.63 L559.70,96.41 L561.00,98.48 L562.30,99.79 L563.62,99.98 L564.95,101.28 L566.27,102.26 L567.60,102.63 L569.00,103.09 L570.40,103.89 L571.80,105.37 L573.20,106.40 L574.60,106.94 L576.00,106.72 L577.40,106.20 L578.80,106.19 L580.20,107.29 L581.60,107.40" fill="none" stroke="#e8474c" stroke-width="1.6" stroke-linejoin="round"/>
<path d="M518.50,119.20 L519.90,118.89 L521.30,118.20 L522.70,118.86 L524.10,117.91 L525.50,118.01 L526.92,118.18 L528.34,117.05 L529.76,117.32 L531.18,116.65 L532.60,115.87 L533.87,115.69 L535.13,115.41 L536.40,114.83 L537.80,119.36 L539.20,122.30 L541.30,103.83 L542.60,96.32 L543.90,87.63 L545.60,87.12 L546.95,89.97 L548.30,93.05 L549.65,98.31 L551.00,104.89 L552.43,107.25 L553.87,110.46 L555.30,113.42 L556.62,113.99 L557.95,113.85 L559.27,115.27 L560.60,115.67 L562.00,116.76 L563.40,116.88 L564.80,118.00 L566.20,118.79 L567.60,119.16 L569.00,119.36 L570.40,119.58 L571.80,119.48 L573.20,119.02 L574.60,120.34 L576.00,120.01 L577.40,119.47 L578.80,120.18 L580.20,120.48 L581.60,120.90" fill="none" stroke="#3d8dd2" stroke-width="1.6" stroke-linejoin="round"/>
<line x1="539.60" y1="69.00" x2="539.60" y2="129.50" stroke="#999" stroke-width="0.6" stroke-dasharray="2,2"/>
<rect x="516.30" y="69.00" width="68.50" height="60.50" fill="none" stroke="#231f20" stroke-width="0.9"/>
<line x1="513.30" y1="126.90" x2="516.30" y2="126.90" stroke="#231f20" stroke-width="0.8"/>
<text x="511.30" y="129.60" font-size="7.6" text-anchor="end" fill="#333">0</text>
<line x1="513.30" y1="118.65" x2="516.30" y2="118.65" stroke="#231f20" stroke-width="0.8"/>
<line x1="513.30" y1="110.40" x2="516.30" y2="110.40" stroke="#231f20" stroke-width="0.8"/>
<text x="511.30" y="113.10" font-size="7.6" text-anchor="end" fill="#333">4</text>
<line x1="513.30" y1="102.15" x2="516.30" y2="102.15" stroke="#231f20" stroke-width="0.8"/>
<line x1="513.30" y1="93.90" x2="516.30" y2="93.90" stroke="#231f20" stroke-width="0.8"/>
<text x="511.30" y="96.60" font-size="7.6" text-anchor="end" fill="#333">8</text>
<line x1="513.30" y1="85.65" x2="516.30" y2="85.65" stroke="#231f20" stroke-width="0.8"/>
<line x1="513.30" y1="77.40" x2="516.30" y2="77.40" stroke="#231f20" stroke-width="0.8"/>
<text x="511.30" y="80.10" font-size="7.6" text-anchor="end" fill="#333">12</text>
<line x1="513.30" y1="69.15" x2="516.30" y2="69.15" stroke="#231f20" stroke-width="0.8"/>
<line x1="518.70" y1="129.50" x2="518.70" y2="132.50" stroke="#231f20" stroke-width="0.8"/>
<line x1="539.60" y1="129.50" x2="539.60" y2="132.50" stroke="#231f20" stroke-width="0.8"/>
<line x1="581.30" y1="129.50" x2="581.30" y2="132.50" stroke="#231f20" stroke-width="0.8"/>
<text x="547.20" y="61.90" font-size="10.6" text-anchor="middle" fill="#231f20" textLength="49.6" lengthAdjust="spacingAndGlyphs">H3K79me2</text>
<text x="524.00" y="141.30" font-size="7.6" text-anchor="middle" fill="#333">-5.0</text>
<text x="542.60" y="141.30" font-size="7.6" text-anchor="middle" fill="#333">TSS</text>
<text x="583.10" y="141.30" font-size="7.6" text-anchor="middle" fill="#333">+10.0Kb</text>
<text x="500.60" y="104.00" font-size="8.9" text-anchor="middle" fill="#231f20" transform="rotate(-90 500.6 104)">Mean Signal</text>
<path d="M518.50,219.70 L519.90,219.06 L521.30,219.77 L522.70,218.59 L524.10,218.47 L525.50,218.88 L526.92,217.86 L528.34,217.61 L529.76,216.77 L531.18,217.53 L532.60,217.45 L534.03,216.14 L535.47,215.70 L536.90,216.03 L539.20,222.69 L540.45,208.66 L541.70,193.65 L543.90,179.90 L545.70,173.21 L547.00,175.32 L548.30,177.26 L550.05,181.42 L551.80,185.08 L553.12,186.94 L554.45,189.19 L555.77,190.10 L557.10,191.73 L558.40,193.44 L559.70,195.75 L561.00,196.49 L562.30,197.85 L563.62,199.32 L564.95,201.05 L566.27,201.82 L567.60,202.85 L569.00,204.34 L570.40,204.96 L571.80,205.65 L573.20,205.50 L574.60,206.38 L576.00,206.38 L577.40,206.92 L578.80,207.98 L580.20,208.46 L581.60,207.80" fill="none" stroke="#e8474c" stroke-width="1.6" stroke-linejoin="round"/>
<path d="M518.50,220.10 L519.90,220.00 L521.30,220.22 L522.70,219.39 L524.10,219.08 L525.50,219.43 L526.92,218.75 L528.34,218.03 L529.76,217.58 L531.18,216.99 L532.60,216.24 L533.87,216.75 L535.13,217.14 L536.40,216.80 L537.80,220.28 L539.20,223.41 L540.45,212.06 L541.70,200.24 L543.10,194.48 L544.50,187.44 L546.60,189.04 L547.90,194.90 L549.20,198.99 L550.50,203.30 L551.80,206.42 L553.12,208.73 L554.45,210.73 L555.77,212.20 L557.10,215.03 L558.40,215.14 L559.70,215.90 L561.00,216.16 L562.30,216.62 L563.62,217.50 L564.95,217.50 L566.27,218.42 L567.60,219.66 L569.00,220.22 L570.40,219.61 L571.80,219.16 L573.20,219.57 L574.60,219.38 L576.00,219.71 L577.40,220.53 L578.80,220.83 L580.20,220.15 L581.60,221.00" fill="none" stroke="#3d8dd2" stroke-width="1.6" stroke-linejoin="round"/>
<line x1="539.60" y1="170.40" x2="539.60" y2="231.20" stroke="#999" stroke-width="0.6" stroke-dasharray="2,2"/>
<rect x="516.30" y="170.40" width="68.50" height="60.80" fill="none" stroke="#231f20" stroke-width="0.9"/>
<line x1="513.30" y1="228.20" x2="516.30" y2="228.20" stroke="#231f20" stroke-width="0.8"/>
<text x="511.30" y="230.90" font-size="7.6" text-anchor="end" fill="#333">0</text>
<line x1="513.30" y1="219.38" x2="516.30" y2="219.38" stroke="#231f20" stroke-width="0.8"/>
<line x1="513.30" y1="210.57" x2="516.30" y2="210.57" stroke="#231f20" stroke-width="0.8"/>
<text x="511.30" y="213.27" font-size="7.6" text-anchor="end" fill="#333">4</text>
<line x1="513.30" y1="201.75" x2="516.30" y2="201.75" stroke="#231f20" stroke-width="0.8"/>
<line x1="513.30" y1="192.93" x2="516.30" y2="192.93" stroke="#231f20" stroke-width="0.8"/>
<text x="511.30" y="195.63" font-size="7.6" text-anchor="end" fill="#333">8</text>
<line x1="513.30" y1="184.12" x2="516.30" y2="184.12" stroke="#231f20" stroke-width="0.8"/>
<line x1="513.30" y1="175.30" x2="516.30" y2="175.30" stroke="#231f20" stroke-width="0.8"/>
<text x="511.30" y="178.00" font-size="7.6" text-anchor="end" fill="#333">12</text>
<line x1="518.70" y1="231.20" x2="518.70" y2="234.20" stroke="#231f20" stroke-width="0.8"/>
<line x1="539.60" y1="231.20" x2="539.60" y2="234.20" stroke="#231f20" stroke-width="0.8"/>
<line x1="581.30" y1="231.20" x2="581.30" y2="234.20" stroke="#231f20" stroke-width="0.8"/>
<text x="547.20" y="163.70" font-size="10.6" text-anchor="middle" fill="#231f20" textLength="49.6" lengthAdjust="spacingAndGlyphs">H3K79me3</text>
<text x="524.00" y="242.40" font-size="7.6" text-anchor="middle" fill="#333">-5.0</text>
<text x="542.60" y="242.40" font-size="7.6" text-anchor="middle" fill="#333">TSS</text>
<text x="583.10" y="242.40" font-size="7.6" text-anchor="middle" fill="#333">+10.0Kb</text>
<text x="500.60" y="206.50" font-size="8.9" text-anchor="middle" fill="#231f20" transform="rotate(-90 500.6 206.5)">Mean Signal</text>
<rect x="634.20" y="64.80" width="1.80" height="75.10" fill="#c8c8c8"/>
<line x1="631.00" y1="75.35" x2="634.20" y2="75.35" stroke="#999" stroke-width="0.7"/>
<text x="630.20" y="77.95" font-size="7.3" text-anchor="end" fill="#8a8a8a">30.0</text>
<line x1="631.00" y1="89.90" x2="634.20" y2="89.90" stroke="#999" stroke-width="0.7"/>
<text x="630.20" y="92.50" font-size="7.3" text-anchor="end" fill="#8a8a8a">10.0</text>
<line x1="631.00" y1="105.85" x2="634.20" y2="105.85" stroke="#999" stroke-width="0.7"/>
<text x="630.20" y="108.45" font-size="7.3" text-anchor="end" fill="#8a8a8a">3.0</text>
<line x1="631.00" y1="120.40" x2="634.20" y2="120.40" stroke="#999" stroke-width="0.7"/>
<text x="630.20" y="123.00" font-size="7.3" text-anchor="end" fill="#8a8a8a">1.0</text>
<line x1="631.00" y1="136.35" x2="634.20" y2="136.35" stroke="#999" stroke-width="0.7"/>
<text x="630.20" y="138.95" font-size="7.3" text-anchor="end" fill="#8a8a8a">0.3</text>
<path d="M637.30,67.48 L637.30,67.48 L638.37,68.82 L639.98,73.52 L640.65,80.22 L641.05,86.92 L641.46,93.63 L642.13,100.33 L642.39,104.35 L641.86,109.71 L640.65,115.08 L639.71,120.44 L638.64,127.14 L637.97,133.85 L637.30,139.88 L637.30,139.88 Z" fill="#2f6db5" stroke="none" stroke-width="1"/>
<line x1="637.90" y1="77.54" x2="637.90" y2="129.82" stroke="#4a4a4a" stroke-width="0.9"/>
<line x1="638.00" y1="82.90" x2="638.00" y2="116.42" stroke="#3a3a3a" stroke-width="1.3"/>
<circle cx="638.10" cy="100.70" r="1.0" fill="#d6e23a"/>
<path d="M646.70,69.23 L646.70,69.23 L647.77,71.51 L649.38,74.86 L651.39,80.22 L651.79,84.24 L651.12,89.60 L650.05,96.31 L649.11,101.67 L648.31,107.03 L647.77,113.74 L647.37,120.44 L647.10,127.14 L646.97,133.85 L646.70,139.88 L646.70,139.88 Z" fill="#d81a45" stroke="none" stroke-width="1"/>
<line x1="647.30" y1="77.54" x2="647.30" y2="128.48" stroke="#4a4a4a" stroke-width="0.9"/>
<line x1="647.40" y1="80.22" x2="647.40" y2="112.40" stroke="#3a3a3a" stroke-width="1.3"/>
<circle cx="647.50" cy="93.00" r="1.0" fill="#d6e23a"/>
<text x="652.60" y="60.80" font-size="7.4" text-anchor="middle" fill="#231f20" font-style="italic">p=0.038</text>
<line x1="637.50" y1="64.10" x2="646.90" y2="64.10" stroke="#231f20" stroke-width="0.9"/>
<text x="657.40" y="102.30" font-size="7.4" text-anchor="start" fill="#231f20">1.8x</text>
<rect x="634.20" y="166.10" width="1.80" height="75.10" fill="#c8c8c8"/>
<line x1="631.00" y1="176.20" x2="634.20" y2="176.20" stroke="#999" stroke-width="0.7"/>
<text x="630.20" y="178.80" font-size="7.3" text-anchor="end" fill="#8a8a8a">30.0</text>
<line x1="631.00" y1="190.90" x2="634.20" y2="190.90" stroke="#999" stroke-width="0.7"/>
<text x="630.20" y="193.50" font-size="7.3" text-anchor="end" fill="#8a8a8a">10.0</text>
<line x1="631.00" y1="207.00" x2="634.20" y2="207.00" stroke="#999" stroke-width="0.7"/>
<text x="630.20" y="209.60" font-size="7.3" text-anchor="end" fill="#8a8a8a">3.0</text>
<line x1="631.00" y1="221.70" x2="634.20" y2="221.70" stroke="#999" stroke-width="0.7"/>
<text x="630.20" y="224.30" font-size="7.3" text-anchor="end" fill="#8a8a8a">1.0</text>
<line x1="631.00" y1="237.80" x2="634.20" y2="237.80" stroke="#999" stroke-width="0.7"/>
<text x="630.20" y="240.40" font-size="7.3" text-anchor="end" fill="#8a8a8a">0.3</text>
<path d="M637.30,171.18 L637.30,171.18 L638.64,172.79 L639.71,176.81 L640.52,183.52 L641.05,190.22 L641.72,198.26 L642.39,206.31 L641.59,214.35 L640.65,223.74 L639.31,230.44 L638.64,233.12 L637.97,237.14 L637.30,241.17 L637.30,241.17 Z" fill="#2f6db5" stroke="none" stroke-width="1"/>
<line x1="637.90" y1="176.81" x2="637.90" y2="230.44" stroke="#4a4a4a" stroke-width="0.9"/>
<line x1="638.00" y1="183.52" x2="638.00" y2="217.03" stroke="#3a3a3a" stroke-width="1.3"/>
<circle cx="638.10" cy="202.30" r="1.0" fill="#d6e23a"/>
<path d="M646.70,171.18 L646.70,171.18 L647.77,173.46 L649.11,176.81 L650.05,180.84 L651.79,186.20 L651.12,191.56 L650.05,196.92 L649.11,203.63 L648.31,210.33 L647.77,217.03 L647.37,223.74 L646.97,230.44 L646.70,233.12 L646.70,233.12 Z" fill="#d81a45" stroke="none" stroke-width="1"/>
<line x1="647.30" y1="178.15" x2="647.30" y2="226.42" stroke="#4a4a4a" stroke-width="0.9"/>
<line x1="647.40" y1="180.84" x2="647.40" y2="213.01" stroke="#3a3a3a" stroke-width="1.3"/>
<circle cx="647.50" cy="194.00" r="1.0" fill="#d6e23a"/>
<text x="652.60" y="162.70" font-size="7.4" text-anchor="middle" fill="#231f20" font-style="italic">p=0.047</text>
<line x1="637.50" y1="165.80" x2="646.90" y2="165.80" stroke="#231f20" stroke-width="0.9"/>
<text x="654.30" y="205.30" font-size="7.4" text-anchor="start" fill="#231f20">1.8x</text>
<text x="610.60" y="153.40" font-size="9.85" text-anchor="middle" fill="#231f20" transform="rotate(-90 610.6 153.4)">Average signal (TSS to intron 2)</text>
<line x1="534.50" y1="263.70" x2="544.80" y2="263.70" stroke="#e8474c" stroke-width="1.8"/>
<text x="548.90" y="266.50" font-size="8.8" text-anchor="start" fill="#231f20">AID off-targets (n=78)</text>
<line x1="534.50" y1="277.00" x2="544.80" y2="277.00" stroke="#3d8dd2" stroke-width="1.8"/>
<text x="548.90" y="279.80" font-size="8.8" text-anchor="start" fill="#231f20">GRO-seq ctl group (n=78)</text>
<text x="472.00" y="15.90" font-size="22.3" text-anchor="start" fill="#231f20">c</text>
<text x="-0.30" y="349.60" font-size="21.5" text-anchor="start" fill="#231f20">d</text>
<line x1="103.50" y1="351.00" x2="103.50" y2="467.70" stroke="#444" stroke-width="1.0"/>
<line x1="103.00" y1="467.70" x2="222.80" y2="467.70" stroke="#444" stroke-width="1.0"/>
<line x1="98.70" y1="354.30" x2="103.50" y2="354.30" stroke="#444" stroke-width="0.9"/>
<text x="96.80" y="357.00" font-size="7.6" text-anchor="end" fill="#333">30.0</text>
<line x1="98.70" y1="380.40" x2="103.50" y2="380.40" stroke="#444" stroke-width="0.9"/>
<text x="96.80" y="383.10" font-size="7.6" text-anchor="end" fill="#333">10.0</text>
<line x1="98.70" y1="408.10" x2="103.50" y2="408.10" stroke="#444" stroke-width="0.9"/>
<text x="96.80" y="410.80" font-size="7.6" text-anchor="end" fill="#333">3.0</text>
<line x1="98.70" y1="434.00" x2="103.50" y2="434.00" stroke="#444" stroke-width="0.9"/>
<text x="96.80" y="436.70" font-size="7.6" text-anchor="end" fill="#333">1.0</text>
<line x1="98.70" y1="462.00" x2="103.50" y2="462.00" stroke="#444" stroke-width="0.9"/>
<text x="96.80" y="464.70" font-size="7.6" text-anchor="end" fill="#333">0.3</text>
<line x1="112.50" y1="467.70" x2="112.50" y2="470.00" stroke="#444" stroke-width="0.9"/>
<text x="111.00" y="481.00" font-size="8.5" text-anchor="middle" fill="#231f20">Q1</text>
<line x1="137.40" y1="467.70" x2="137.40" y2="470.00" stroke="#444" stroke-width="0.9"/>
<text x="135.90" y="481.00" font-size="8.5" text-anchor="middle" fill="#231f20">Q2</text>
<line x1="163.20" y1="467.70" x2="163.20" y2="470.00" stroke="#444" stroke-width="0.9"/>
<text x="161.70" y="481.00" font-size="8.5" text-anchor="middle" fill="#231f20">Q3</text>
<line x1="188.70" y1="467.70" x2="188.70" y2="470.00" stroke="#444" stroke-width="0.9"/>
<text x="187.20" y="481.00" font-size="8.5" text-anchor="middle" fill="#231f20">Q4</text>
<line x1="215.10" y1="467.70" x2="215.10" y2="470.00" stroke="#444" stroke-width="0.9"/>
<text x="213.60" y="481.00" font-size="8.5" text-anchor="middle" fill="#231f20">Q5</text>
<text x="47.50" y="481.00" font-size="8.8" text-anchor="start" fill="#231f20">H3K79me3</text>
<text x="62.50" y="408.20" font-size="10.2" text-anchor="middle" fill="#231f20" transform="rotate(-90 62.5 408.2)">Average H3K79me3</text>
<text x="75.20" y="408.20" font-size="10.2" text-anchor="middle" fill="#231f20" transform="rotate(-90 75.2 408.2)">(TSS to intron 2)</text>
<circle cx="118.00" cy="379.40" r="2.2" fill="#96cde0"/>
<circle cx="107.90" cy="394.70" r="2.2" fill="#96cde0"/>
<circle cx="115.30" cy="393.00" r="2.2" fill="#96cde0"/>
<circle cx="106.60" cy="419.80" r="2.2" fill="#96cde0"/>
<circle cx="137.20" cy="395.10" r="2.2" fill="#96cde0"/>
<circle cx="140.30" cy="402.60" r="2.2" fill="#96cde0"/>
<circle cx="132.80" cy="405.70" r="2.2" fill="#96cde0"/>
<circle cx="135.00" cy="408.30" r="2.2" fill="#96cde0"/>
<circle cx="133.10" cy="424.20" r="2.2" fill="#96cde0"/>
<circle cx="161.10" cy="416.80" r="2.2" fill="#96cde0"/>
<circle cx="165.00" cy="420.70" r="2.2" fill="#96cde0"/>
<circle cx="163.60" cy="425.80" r="2.2" fill="#96cde0"/>
<circle cx="186.10" cy="424.80" r="2.2" fill="#96cde0"/>
<circle cx="210.20" cy="439.30" r="2.2" fill="#96cde0"/>
<circle cx="219.20" cy="440.10" r="2.2" fill="#96cde0"/>
<circle cx="220.20" cy="447.30" r="2.2" fill="#96cde0"/>
<circle cx="118.60" cy="364.70" r="2.2" fill="#7dbd7b"/>
<circle cx="106.90" cy="366.90" r="2.2" fill="#7dbd7b"/>
<circle cx="115.70" cy="374.20" r="2.2" fill="#7dbd7b"/>
<circle cx="111.00" cy="379.30" r="2.2" fill="#7dbd7b"/>
<circle cx="117.10" cy="382.40" r="2.2" fill="#7dbd7b"/>
<circle cx="107.00" cy="387.70" r="2.2" fill="#7dbd7b"/>
<circle cx="111.00" cy="388.10" r="2.2" fill="#7dbd7b"/>
<circle cx="110.50" cy="378.90" r="2.2" fill="#7dbd7b"/>
<circle cx="135.70" cy="398.80" r="2.2" fill="#7dbd7b"/>
<circle cx="140.10" cy="403.90" r="2.2" fill="#7dbd7b"/>
<circle cx="135.00" cy="407.00" r="2.2" fill="#7dbd7b"/>
<circle cx="164.20" cy="404.60" r="2.2" fill="#7dbd7b"/>
<circle cx="166.00" cy="409.50" r="2.2" fill="#7dbd7b"/>
<circle cx="160.10" cy="419.70" r="2.2" fill="#7dbd7b"/>
<circle cx="189.50" cy="424.40" r="2.2" fill="#7dbd7b"/>
<circle cx="183.60" cy="429.50" r="2.2" fill="#7dbd7b"/>
<circle cx="185.40" cy="432.00" r="2.2" fill="#7dbd7b"/>
<circle cx="208.50" cy="441.20" r="2.2" fill="#7dbd7b"/>
<circle cx="214.70" cy="439.70" r="2.2" fill="#7dbd7b"/>
<circle cx="217.70" cy="442.20" r="2.2" fill="#7dbd7b"/>
<circle cx="112.80" cy="354.50" r="2.2" fill="#e81f2d"/>
<circle cx="108.00" cy="358.90" r="2.2" fill="#e81f2d"/>
<circle cx="113.50" cy="360.70" r="2.2" fill="#e81f2d"/>
<circle cx="109.10" cy="364.00" r="2.2" fill="#e81f2d"/>
<circle cx="112.40" cy="363.20" r="2.2" fill="#e81f2d"/>
<circle cx="115.00" cy="365.10" r="2.2" fill="#e81f2d"/>
<circle cx="107.30" cy="369.10" r="2.2" fill="#e81f2d"/>
<circle cx="111.00" cy="367.60" r="2.2" fill="#e81f2d"/>
<circle cx="113.50" cy="367.60" r="2.2" fill="#e81f2d"/>
<circle cx="108.00" cy="373.10" r="2.2" fill="#e81f2d"/>
<circle cx="111.70" cy="373.10" r="2.2" fill="#e81f2d"/>
<circle cx="114.60" cy="372.70" r="2.2" fill="#e81f2d"/>
<circle cx="107.70" cy="375.30" r="2.2" fill="#e81f2d"/>
<circle cx="111.00" cy="375.70" r="2.2" fill="#e81f2d"/>
<circle cx="109.50" cy="370.50" r="2.2" fill="#e81f2d"/>
<circle cx="108.80" cy="383.80" r="2.2" fill="#e81f2d"/>
<circle cx="112.30" cy="382.90" r="2.2" fill="#e81f2d"/>
<circle cx="110.20" cy="383.70" r="2.2" fill="#e81f2d"/>
<circle cx="117.10" cy="386.20" r="2.2" fill="#e81f2d"/>
<circle cx="107.40" cy="391.20" r="2.2" fill="#e81f2d"/>
<circle cx="114.00" cy="390.80" r="2.2" fill="#e81f2d"/>
<circle cx="141.20" cy="398.80" r="2.2" fill="#e81f2d"/>
<circle cx="141.40" cy="417.30" r="2.2" fill="#e81f2d"/>
<circle cx="211.00" cy="441.20" r="2.2" fill="#e81f2d"/>
<line x1="116.40" y1="362.90" x2="123.70" y2="358.10" stroke="#e81f2d" stroke-width="0.8"/>
<text x="124.80" y="360.70" font-size="8.6" text-anchor="start" fill="#e81f2d" font-style="italic">Igh</text>
<line x1="119.70" y1="366.20" x2="128.50" y2="370.90" stroke="#7dbd7b" stroke-width="0.8"/>
<text x="129.60" y="375.30" font-size="8.6" text-anchor="start" fill="#7dbd7b" font-style="italic">Igk</text>
<text x="220.50" y="374.90" font-size="8.8" text-anchor="start" fill="#231f20">AID target genes (n=78)</text>
<text x="229.30" y="390.10" font-size="8.8" text-anchor="start" fill="#231f20">Targeting frequency</text>
<rect x="241.20" y="395.60" width="10.50" height="9.20" fill="#e81f2d"/>
<text x="254.10" y="404.50" font-size="8.8" text-anchor="start" fill="#231f20">High (n=26)</text>
<rect x="241.20" y="412.30" width="10.50" height="9.20" fill="#7dbd7b"/>
<text x="254.10" y="421.20" font-size="8.8" text-anchor="start" fill="#231f20">Mid (n=26)</text>
<rect x="241.20" y="429.20" width="10.50" height="9.20" fill="#96cde0"/>
<text x="254.10" y="438.10" font-size="8.8" text-anchor="start" fill="#231f20">Low (n=26)</text>
<text x="231.50" y="486.30" font-size="8.8" text-anchor="start" fill="#231f20">AID target genes (%)</text>
<text x="111.00" y="498.10" font-size="8.6" text-anchor="middle" fill="#231f20" font-weight="bold">61.5</text>
<text x="136.40" y="498.10" font-size="8.6" text-anchor="middle" fill="#231f20" font-weight="bold">15.4</text>
<text x="162.30" y="498.10" font-size="8.6" text-anchor="middle" fill="#231f20">7.7</text>
<text x="187.70" y="498.10" font-size="8.6" text-anchor="middle" fill="#231f20">5.1</text>
<text x="214.00" y="498.10" font-size="8.6" text-anchor="middle" fill="#231f20">10.3</text>
<text x="111.00" y="513.40" font-size="8.6" text-anchor="middle" fill="#231f20" font-weight="bold">88.5</text>
<text x="136.40" y="513.40" font-size="8.6" text-anchor="middle" fill="#231f20" font-weight="bold">7.7</text>
<text x="162.30" y="513.40" font-size="8.6" text-anchor="middle" fill="#231f20">0.0</text>
<text x="187.70" y="513.40" font-size="8.6" text-anchor="middle" fill="#231f20">0.0</text>
<text x="214.00" y="513.40" font-size="8.6" text-anchor="middle" fill="#231f20">3.8</text>
<text x="232.40" y="498.10" font-size="8.8" text-anchor="start" fill="#231f20">Total</text>
<text x="233.70" y="513.40" font-size="8.8" text-anchor="start" fill="#231f20">High-frequency</text>
<text x="-0.50" y="547.60" font-size="22.3" text-anchor="start" fill="#231f20">e</text>
<path d="M60.10,635.60 L61.73,636.19 L63.35,635.36 L64.97,637.65 L66.60,638.08 L68.80,637.87 L71.00,635.73 L72.73,634.62 L74.47,633.54 L76.20,633.10 L78.20,630.72 L80.20,630.08 L82.20,626.44 L84.20,624.14 L86.25,619.40 L88.30,613.71 L89.40,603.43 L91.50,618.21 L93.10,619.17 L94.70,622.00 L96.30,621.64 L97.90,621.79 L99.90,625.37 L101.90,626.70 L104.30,629.28 L106.70,631.15 L109.10,629.31 L111.50,627.07 L113.12,626.48 L114.74,626.45 L116.36,627.39 L117.98,626.96 L119.60,626.70" fill="none" stroke="#92cbe0" stroke-width="2.0" stroke-linejoin="round"/>
<path d="M60.10,628.30 L62.05,629.17 L64.00,631.08 L66.00,629.37 L68.00,629.07 L70.00,628.49 L72.00,628.97 L73.93,624.67 L75.87,620.15 L77.80,616.61 L79.40,611.32 L81.00,605.59 L82.60,599.89 L84.20,594.83 L86.60,591.87 L89.10,598.88 L91.50,596.78 L93.10,601.80 L94.70,608.00 L97.10,621.12 L98.70,622.94 L100.30,623.93 L102.70,627.08 L105.10,629.28 L106.70,630.50 L108.30,631.33 L109.90,633.73 L111.53,634.35 L113.15,634.50 L114.78,635.52 L116.40,635.70 L119.60,636.00" fill="none" stroke="#74b870" stroke-width="2.0" stroke-linejoin="round"/>
<path d="M60.10,630.70 L61.75,631.41 L63.40,632.42 L65.20,631.59 L67.00,631.18 L69.00,629.76 L71.00,628.54 L72.73,626.72 L74.47,625.25 L76.20,624.36 L77.80,620.77 L79.40,614.55 L82.60,618.98 L84.20,613.18 L85.80,607.46 L88.30,588.07 L89.40,578.46 L90.70,584.51 L93.10,594.97 L95.50,602.02 L97.10,603.71 L98.70,604.32 L100.30,604.71 L101.90,606.48 L105.10,616.48 L106.70,619.09 L108.30,619.94 L109.90,624.41 L111.50,630.43 L113.13,631.10 L114.77,632.52 L116.40,633.59 L119.60,636.00" fill="none" stroke="#e81f2d" stroke-width="2.1" stroke-linejoin="round"/>
<line x1="89.50" y1="575.50" x2="89.50" y2="641.00" stroke="#999" stroke-width="0.7" stroke-dasharray="2.2,2.2"/>
<line x1="57.20" y1="575.30" x2="57.20" y2="641.00" stroke="#333" stroke-width="1.0"/>
<line x1="56.70" y1="641.00" x2="122.00" y2="641.00" stroke="#333" stroke-width="1.0"/>
<line x1="53.70" y1="633.90" x2="57.20" y2="633.90" stroke="#333" stroke-width="0.9"/>
<text x="50.60" y="636.90" font-size="8.4" text-anchor="end" fill="#333">2</text>
<line x1="53.70" y1="624.83" x2="57.20" y2="624.83" stroke="#333" stroke-width="0.9"/>
<text x="50.60" y="627.83" font-size="8.4" text-anchor="end" fill="#333">3</text>
<line x1="53.70" y1="615.77" x2="57.20" y2="615.77" stroke="#333" stroke-width="0.9"/>
<text x="50.60" y="618.77" font-size="8.4" text-anchor="end" fill="#333">4</text>
<line x1="53.70" y1="606.70" x2="57.20" y2="606.70" stroke="#333" stroke-width="0.9"/>
<text x="50.60" y="609.70" font-size="8.4" text-anchor="end" fill="#333">5</text>
<line x1="53.70" y1="597.63" x2="57.20" y2="597.63" stroke="#333" stroke-width="0.9"/>
<text x="50.60" y="600.63" font-size="8.4" text-anchor="end" fill="#333">6</text>
<line x1="53.70" y1="588.57" x2="57.20" y2="588.57" stroke="#333" stroke-width="0.9"/>
<text x="50.60" y="591.57" font-size="8.4" text-anchor="end" fill="#333">7</text>
<line x1="53.70" y1="579.50" x2="57.20" y2="579.50" stroke="#333" stroke-width="0.9"/>
<text x="50.60" y="582.50" font-size="8.4" text-anchor="end" fill="#333">8</text>
<line x1="59.10" y1="641.00" x2="59.10" y2="645.50" stroke="#333" stroke-width="0.9"/>
<line x1="89.50" y1="641.00" x2="89.50" y2="645.50" stroke="#333" stroke-width="0.9"/>
<line x1="120.40" y1="641.00" x2="120.40" y2="645.50" stroke="#333" stroke-width="0.9"/>
<text x="89.90" y="565.20" font-size="9.95" text-anchor="middle" fill="#231f20">H3K79me2</text>
<text x="87.50" y="655.00" font-size="8.3" text-anchor="middle" fill="#555">Center</text>
<text x="63.10" y="650.00" font-size="8.8" text-anchor="end" fill="#333" transform="rotate(-57 63.1 650.0)">−20kb</text>
<text x="124.40" y="650.00" font-size="8.8" text-anchor="end" fill="#333" transform="rotate(-57 124.4 650.0)">+20kb</text>
<text x="36.00" y="608.80" font-size="10.2" text-anchor="middle" fill="#231f20" transform="rotate(-90 36.0 608.8)">Mean coverage</text>
<path d="M168.50,635.60 L170.12,635.90 L171.75,636.51 L173.38,636.57 L175.00,637.89 L176.67,636.36 L178.33,636.50 L180.00,637.03 L182.07,635.71 L184.13,635.19 L186.20,632.83 L187.80,630.60 L189.40,628.33 L191.00,625.79 L192.60,621.85 L194.20,619.04 L195.80,615.02 L197.40,605.88 L199.90,621.33 L201.90,620.79 L203.90,619.57 L206.30,620.10 L208.70,621.61 L210.30,624.85 L211.90,625.74 L213.50,628.93 L215.10,627.07 L216.70,626.50 L218.30,625.99 L219.90,626.13 L221.52,625.82 L223.14,625.99 L224.76,624.95 L226.38,624.74 L228.00,625.10" fill="none" stroke="#92cbe0" stroke-width="2.0" stroke-linejoin="round"/>
<path d="M168.50,629.90 L170.25,629.27 L172.00,628.98 L174.30,632.88 L176.60,635.59 L178.30,633.17 L180.00,630.56 L181.80,625.06 L183.60,622.18 L185.40,617.11 L187.40,611.63 L189.40,604.96 L192.50,605.41 L194.55,602.53 L196.60,597.10 L199.10,599.15 L200.70,601.61 L202.30,603.75 L205.50,615.39 L208.70,623.44 L210.30,624.12 L211.90,624.93 L213.50,626.94 L215.10,628.82 L216.70,631.21 L218.30,633.23 L220.43,634.13 L222.57,634.14 L224.70,634.44 L226.50,635.62 L228.30,636.00" fill="none" stroke="#74b870" stroke-width="2.0" stroke-linejoin="round"/>
<path d="M168.50,632.80 L170.75,633.18 L173.00,631.25 L174.73,630.62 L176.47,628.99 L178.20,629.21 L179.80,627.11 L181.40,625.88 L183.00,625.69 L185.00,619.44 L187.00,614.57 L189.00,616.48 L191.00,619.26 L194.20,609.16 L195.80,594.09 L197.40,579.44 L199.05,585.74 L200.70,593.60 L202.30,597.43 L203.90,603.06 L207.10,603.24 L208.70,606.17 L210.30,607.14 L213.50,618.81 L215.50,619.63 L217.50,622.72 L219.50,625.66 L221.50,629.75 L223.13,632.17 L224.77,632.97 L226.40,633.59 L228.30,634.70" fill="none" stroke="#e81f2d" stroke-width="2.1" stroke-linejoin="round"/>
<line x1="197.90" y1="575.00" x2="197.90" y2="640.70" stroke="#999" stroke-width="0.7" stroke-dasharray="2.2,2.2"/>
<line x1="165.30" y1="575.30" x2="165.30" y2="640.70" stroke="#333" stroke-width="1.0"/>
<line x1="164.80" y1="640.70" x2="230.40" y2="640.70" stroke="#333" stroke-width="1.0"/>
<line x1="161.80" y1="633.60" x2="165.30" y2="633.60" stroke="#333" stroke-width="0.9"/>
<text x="158.70" y="636.60" font-size="8.4" text-anchor="end" fill="#333">2</text>
<line x1="161.80" y1="624.50" x2="165.30" y2="624.50" stroke="#333" stroke-width="0.9"/>
<text x="158.70" y="627.50" font-size="8.4" text-anchor="end" fill="#333">3</text>
<line x1="161.80" y1="615.40" x2="165.30" y2="615.40" stroke="#333" stroke-width="0.9"/>
<text x="158.70" y="618.40" font-size="8.4" text-anchor="end" fill="#333">4</text>
<line x1="161.80" y1="606.30" x2="165.30" y2="606.30" stroke="#333" stroke-width="0.9"/>
<text x="158.70" y="609.30" font-size="8.4" text-anchor="end" fill="#333">5</text>
<line x1="161.80" y1="597.20" x2="165.30" y2="597.20" stroke="#333" stroke-width="0.9"/>
<text x="158.70" y="600.20" font-size="8.4" text-anchor="end" fill="#333">6</text>
<line x1="161.80" y1="588.10" x2="165.30" y2="588.10" stroke="#333" stroke-width="0.9"/>
<text x="158.70" y="591.10" font-size="8.4" text-anchor="end" fill="#333">7</text>
<line x1="161.80" y1="579.00" x2="165.30" y2="579.00" stroke="#333" stroke-width="0.9"/>
<text x="158.70" y="582.00" font-size="8.4" text-anchor="end" fill="#333">8</text>
<line x1="167.30" y1="640.70" x2="167.30" y2="645.20" stroke="#333" stroke-width="0.9"/>
<line x1="197.90" y1="640.70" x2="197.90" y2="645.20" stroke="#333" stroke-width="0.9"/>
<line x1="228.80" y1="640.70" x2="228.80" y2="645.20" stroke="#333" stroke-width="0.9"/>
<text x="198.30" y="565.20" font-size="9.95" text-anchor="middle" fill="#231f20">H3K79me3</text>
<text x="195.90" y="655.00" font-size="8.3" text-anchor="middle" fill="#555">Center</text>
<text x="171.30" y="650.00" font-size="8.8" text-anchor="end" fill="#333" transform="rotate(-57 171.3 650.0)">−20kb</text>
<text x="232.80" y="650.00" font-size="8.8" text-anchor="end" fill="#333" transform="rotate(-57 232.8 650.0)">+20kb</text>
<text x="144.10" y="608.80" font-size="10.2" text-anchor="middle" fill="#231f20" transform="rotate(-90 144.10000000000002 608.8)">Mean coverage</text>
<text x="240.90" y="580.90" font-size="8.8" text-anchor="start" fill="#231f20">AID target genes (n=78)</text>
<text x="253.30" y="596.60" font-size="8.8" text-anchor="start" fill="#231f20">Targeting frequency</text>
<line x1="258.10" y1="608.50" x2="272.10" y2="608.50" stroke="#e81f2d" stroke-width="2.8"/>
<text x="280.10" y="611.10" font-size="8.8" text-anchor="start" fill="#231f20">High (n=26)</text>
<line x1="258.10" y1="624.70" x2="272.10" y2="624.70" stroke="#74b870" stroke-width="2.8"/>
<text x="280.10" y="627.30" font-size="8.8" text-anchor="start" fill="#231f20">Mid (n=26)</text>
<line x1="258.10" y1="640.30" x2="272.10" y2="640.30" stroke="#92cbe0" stroke-width="2.8"/>
<text x="280.10" y="642.90" font-size="8.8" text-anchor="start" fill="#231f20">Low (n=26)</text>
<text x="362.20" y="348.90" font-size="21.5" text-anchor="start" fill="#231f20">f</text>
<line x1="425.50" y1="364.90" x2="425.50" y2="474.20" stroke="#333" stroke-width="0.9"/>
<line x1="425.50" y1="474.20" x2="577.60" y2="474.20" stroke="#333" stroke-width="0.9"/>
<line x1="423.00" y1="474.20" x2="425.50" y2="474.20" stroke="#333" stroke-width="0.8"/>
<line x1="423.00" y1="452.43" x2="425.50" y2="452.43" stroke="#333" stroke-width="0.8"/>
<line x1="423.00" y1="430.65" x2="425.50" y2="430.65" stroke="#333" stroke-width="0.8"/>
<line x1="423.00" y1="408.88" x2="425.50" y2="408.88" stroke="#333" stroke-width="0.8"/>
<line x1="423.00" y1="387.10" x2="425.50" y2="387.10" stroke="#333" stroke-width="0.8"/>
<line x1="423.00" y1="365.33" x2="425.50" y2="365.33" stroke="#333" stroke-width="0.8"/>
<text x="422.50" y="389.70" font-size="7.2" text-anchor="end" fill="#333">1</text>
<text x="422.50" y="476.80" font-size="7.2" text-anchor="end" fill="#333">0</text>
<line x1="425.80" y1="474.20" x2="425.80" y2="476.70" stroke="#333" stroke-width="0.8"/>
<text x="425.80" y="483.40" font-size="7.2" text-anchor="middle" fill="#333">0</text>
<line x1="443.73" y1="474.20" x2="443.73" y2="476.70" stroke="#333" stroke-width="0.8"/>
<text x="443.73" y="483.40" font-size="7.2" text-anchor="middle" fill="#333">1</text>
<line x1="461.66" y1="474.20" x2="461.66" y2="476.70" stroke="#333" stroke-width="0.8"/>
<text x="461.66" y="483.40" font-size="7.2" text-anchor="middle" fill="#333">2</text>
<line x1="479.59" y1="474.20" x2="479.59" y2="476.70" stroke="#333" stroke-width="0.8"/>
<text x="479.59" y="483.40" font-size="7.2" text-anchor="middle" fill="#333">3</text>
<line x1="497.52" y1="474.20" x2="497.52" y2="476.70" stroke="#333" stroke-width="0.8"/>
<text x="497.52" y="483.40" font-size="7.2" text-anchor="middle" fill="#333">4</text>
<line x1="515.45" y1="474.20" x2="515.45" y2="476.70" stroke="#333" stroke-width="0.8"/>
<text x="515.45" y="483.40" font-size="7.2" text-anchor="middle" fill="#333">5</text>
<line x1="533.38" y1="474.20" x2="533.38" y2="476.70" stroke="#333" stroke-width="0.8"/>
<text x="533.38" y="483.40" font-size="7.2" text-anchor="middle" fill="#333">6</text>
<line x1="551.31" y1="474.20" x2="551.31" y2="476.70" stroke="#333" stroke-width="0.8"/>
<text x="551.31" y="483.40" font-size="7.2" text-anchor="middle" fill="#333">7</text>
<line x1="569.24" y1="474.20" x2="569.24" y2="476.70" stroke="#333" stroke-width="0.8"/>
<text x="569.24" y="483.40" font-size="7.2" text-anchor="middle" fill="#333">8</text>
<text x="497.00" y="495.00" font-size="10.2" text-anchor="middle" fill="#231f20">Days post-transduction</text>
<line x1="443.73" y1="416.00" x2="443.73" y2="448.50" stroke="#b4b4b4" stroke-width="0.8"/>
<line x1="441.73" y1="416.00" x2="445.73" y2="416.00" stroke="#b4b4b4" stroke-width="0.8"/>
<line x1="441.73" y1="448.50" x2="445.73" y2="448.50" stroke="#b4b4b4" stroke-width="0.8"/>
<line x1="443.73" y1="419.50" x2="443.73" y2="443.00" stroke="#b4b4b4" stroke-width="0.8"/>
<line x1="441.73" y1="419.50" x2="445.73" y2="419.50" stroke="#b4b4b4" stroke-width="0.8"/>
<line x1="441.73" y1="443.00" x2="445.73" y2="443.00" stroke="#b4b4b4" stroke-width="0.8"/>
<path d="M425.80,474.20 L443.73,431.96 L461.66,387.10 L479.59,388.93 L497.52,389.71 L515.45,392.41 L533.38,395.03 L551.31,397.90 L569.24,399.47" fill="none" stroke="#b4b4b4" stroke-width="1.6" stroke-dasharray="2.6,1.6"/>
<circle cx="425.80" cy="474.20" r="2.3" fill="white" stroke="#b4b4b4" stroke-width="1"/>
<circle cx="443.73" cy="431.96" r="2.3" fill="white" stroke="#b4b4b4" stroke-width="1"/>
<circle cx="461.66" cy="387.10" r="2.3" fill="white" stroke="#b4b4b4" stroke-width="1"/>
<circle cx="479.59" cy="388.93" r="2.3" fill="white" stroke="#b4b4b4" stroke-width="1"/>
<circle cx="497.52" cy="389.71" r="2.3" fill="white" stroke="#b4b4b4" stroke-width="1"/>
<circle cx="515.45" cy="392.41" r="2.3" fill="white" stroke="#b4b4b4" stroke-width="1"/>
<circle cx="533.38" cy="395.03" r="2.3" fill="white" stroke="#b4b4b4" stroke-width="1"/>
<circle cx="551.31" cy="397.90" r="2.3" fill="white" stroke="#b4b4b4" stroke-width="1"/>
<circle cx="569.24" cy="399.47" r="2.3" fill="white" stroke="#b4b4b4" stroke-width="1"/>
<path d="M425.80,474.20 L443.73,436.75 L461.66,387.10 L479.59,389.19 L497.52,391.02 L515.45,392.41 L533.38,393.72 L551.31,395.55 L569.24,395.55" fill="none" stroke="#e8373f" stroke-width="1.6" stroke-dasharray="2.6,1.6"/>
<rect x="423.30" y="471.70" width="5.00" height="5.00" fill="white" stroke="#e8373f" stroke-width="1"/>
<rect x="441.23" y="434.25" width="5.00" height="5.00" fill="white" stroke="#e8373f" stroke-width="1"/>
<rect x="459.16" y="384.60" width="5.00" height="5.00" fill="white" stroke="#e8373f" stroke-width="1"/>
<rect x="477.09" y="386.69" width="5.00" height="5.00" fill="white" stroke="#e8373f" stroke-width="1"/>
<rect x="495.02" y="388.52" width="5.00" height="5.00" fill="white" stroke="#e8373f" stroke-width="1"/>
<rect x="512.95" y="389.91" width="5.00" height="5.00" fill="white" stroke="#e8373f" stroke-width="1"/>
<rect x="530.88" y="391.22" width="5.00" height="5.00" fill="white" stroke="#e8373f" stroke-width="1"/>
<rect x="548.81" y="393.05" width="5.00" height="5.00" fill="white" stroke="#e8373f" stroke-width="1"/>
<rect x="566.74" y="393.05" width="5.00" height="5.00" fill="white" stroke="#e8373f" stroke-width="1"/>
<path d="M425.80,474.20 L443.73,432.48 L461.66,387.10 L479.59,408.70 L497.52,426.12 L515.45,441.19 L533.38,451.73 L551.31,458.61 L569.24,462.09" fill="none" stroke="#b4b4b4" stroke-width="1.6"/>
<circle cx="425.80" cy="474.20" r="2.3" fill="#b4b4b4"/>
<circle cx="443.73" cy="432.48" r="2.3" fill="#b4b4b4"/>
<circle cx="461.66" cy="387.10" r="2.3" fill="#b4b4b4"/>
<circle cx="479.59" cy="408.70" r="2.3" fill="#b4b4b4"/>
<circle cx="497.52" cy="426.12" r="2.3" fill="#b4b4b4"/>
<circle cx="515.45" cy="441.19" r="2.3" fill="#b4b4b4"/>
<circle cx="533.38" cy="451.73" r="2.3" fill="#b4b4b4"/>
<circle cx="551.31" cy="458.61" r="2.3" fill="#b4b4b4"/>
<circle cx="569.24" cy="462.09" r="2.3" fill="#b4b4b4"/>
<path d="M425.80,474.20 L443.73,437.27 L461.66,387.10 L479.59,397.64 L497.52,410.09 L515.45,426.12 L533.38,439.88 L551.31,448.33 L569.24,453.38" fill="none" stroke="#e8373f" stroke-width="1.6"/>
<rect x="423.50" y="471.90" width="4.60" height="4.60" fill="#e8373f"/>
<rect x="441.43" y="434.97" width="4.60" height="4.60" fill="#e8373f"/>
<rect x="459.36" y="384.80" width="4.60" height="4.60" fill="#e8373f"/>
<rect x="477.29" y="395.34" width="4.60" height="4.60" fill="#e8373f"/>
<rect x="495.22" y="407.79" width="4.60" height="4.60" fill="#e8373f"/>
<rect x="513.15" y="423.82" width="4.60" height="4.60" fill="#e8373f"/>
<rect x="531.08" y="437.58" width="4.60" height="4.60" fill="#e8373f"/>
<rect x="549.01" y="446.03" width="4.60" height="4.60" fill="#e8373f"/>
<rect x="566.94" y="451.08" width="4.60" height="4.60" fill="#e8373f"/>
<text x="557.50" y="443.60" font-size="8.9" text-anchor="start" fill="#333" font-style="italic">p=0.0354</text>
<path d="M574.50,452.80 L579.00,452.80 L579.00,462.50 L574.50,462.50" fill="none" stroke="#555" stroke-width="0.8"/>
<text x="602.20" y="398.00" font-size="8.8" text-anchor="start" fill="#231f20">+ AIDΔC E58A</text>
<line x1="607.30" y1="405.70" x2="620.50" y2="405.70" stroke="#b4b4b4" stroke-width="1.3" stroke-dasharray="2.2,1.2"/>
<circle cx="613.90" cy="405.70" r="2.2" fill="white" stroke="#b4b4b4" stroke-width="0.9"/>
<text x="623.20" y="408.80" font-size="8.8" text-anchor="start" fill="#231f20">shControl</text>
<line x1="607.30" y1="418.10" x2="620.50" y2="418.10" stroke="#e8373f" stroke-width="1.3" stroke-dasharray="2.2,1.2"/>
<rect x="611.50" y="415.70" width="4.80" height="4.80" fill="white" stroke="#e8373f" stroke-width="0.9"/>
<text x="623.20" y="421.20" font-size="8.8" text-anchor="start" fill="#231f20">shDot1l</text>
<text x="602.20" y="447.50" font-size="8.8" text-anchor="start" fill="#231f20">+ AIDΔC</text>
<line x1="610.30" y1="455.90" x2="623.50" y2="455.90" stroke="#b4b4b4" stroke-width="1.3"/>
<circle cx="616.90" cy="455.90" r="2.3" fill="#b4b4b4"/>
<text x="626.20" y="459.00" font-size="8.8" text-anchor="start" fill="#231f20">shControl</text>
<line x1="610.30" y1="468.10" x2="623.50" y2="468.10" stroke="#e8373f" stroke-width="1.3"/>
<rect x="614.50" y="465.70" width="4.80" height="4.80" fill="#e8373f"/>
<text x="626.20" y="471.20" font-size="8.8" text-anchor="start" fill="#231f20">shDot1l</text>
<line x1="425.00" y1="507.10" x2="425.00" y2="616.20" stroke="#333" stroke-width="0.9"/>
<line x1="425.00" y1="616.20" x2="577.60" y2="616.20" stroke="#333" stroke-width="0.9"/>
<line x1="422.50" y1="616.20" x2="425.00" y2="616.20" stroke="#333" stroke-width="0.8"/>
<line x1="422.50" y1="594.53" x2="425.00" y2="594.53" stroke="#333" stroke-width="0.8"/>
<line x1="422.50" y1="572.85" x2="425.00" y2="572.85" stroke="#333" stroke-width="0.8"/>
<line x1="422.50" y1="551.17" x2="425.00" y2="551.17" stroke="#333" stroke-width="0.8"/>
<line x1="422.50" y1="529.50" x2="425.00" y2="529.50" stroke="#333" stroke-width="0.8"/>
<line x1="422.50" y1="507.82" x2="425.00" y2="507.82" stroke="#333" stroke-width="0.8"/>
<text x="422.00" y="532.10" font-size="7.2" text-anchor="end" fill="#333">1</text>
<text x="422.00" y="618.80" font-size="7.2" text-anchor="end" fill="#333">0</text>
<line x1="425.30" y1="616.20" x2="425.30" y2="618.70" stroke="#333" stroke-width="0.8"/>
<text x="425.30" y="626.00" font-size="7.2" text-anchor="middle" fill="#333">0</text>
<line x1="443.23" y1="616.20" x2="443.23" y2="618.70" stroke="#333" stroke-width="0.8"/>
<text x="443.23" y="626.00" font-size="7.2" text-anchor="middle" fill="#333">1</text>
<line x1="461.16" y1="616.20" x2="461.16" y2="618.70" stroke="#333" stroke-width="0.8"/>
<text x="461.16" y="626.00" font-size="7.2" text-anchor="middle" fill="#333">2</text>
<line x1="479.09" y1="616.20" x2="479.09" y2="618.70" stroke="#333" stroke-width="0.8"/>
<text x="479.09" y="626.00" font-size="7.2" text-anchor="middle" fill="#333">3</text>
<line x1="497.02" y1="616.20" x2="497.02" y2="618.70" stroke="#333" stroke-width="0.8"/>
<text x="497.02" y="626.00" font-size="7.2" text-anchor="middle" fill="#333">4</text>
<line x1="514.95" y1="616.20" x2="514.95" y2="618.70" stroke="#333" stroke-width="0.8"/>
<text x="514.95" y="626.00" font-size="7.2" text-anchor="middle" fill="#333">5</text>
<line x1="532.88" y1="616.20" x2="532.88" y2="618.70" stroke="#333" stroke-width="0.8"/>
<text x="532.88" y="626.00" font-size="7.2" text-anchor="middle" fill="#333">6</text>
<line x1="550.81" y1="616.20" x2="550.81" y2="618.70" stroke="#333" stroke-width="0.8"/>
<text x="550.81" y="626.00" font-size="7.2" text-anchor="middle" fill="#333">7</text>
<line x1="568.74" y1="616.20" x2="568.74" y2="618.70" stroke="#333" stroke-width="0.8"/>
<text x="568.74" y="626.00" font-size="7.2" text-anchor="middle" fill="#333">8</text>
<text x="497.00" y="637.40" font-size="10.2" text-anchor="middle" fill="#231f20">Days post-transduction</text>
<line x1="461.16" y1="529.90" x2="461.16" y2="545.00" stroke="#b4b4b4" stroke-width="0.8"/>
<line x1="459.16" y1="529.90" x2="463.16" y2="529.90" stroke="#b4b4b4" stroke-width="0.8"/>
<line x1="459.16" y1="545.00" x2="463.16" y2="545.00" stroke="#b4b4b4" stroke-width="0.8"/>
<line x1="479.09" y1="559.40" x2="479.09" y2="572.30" stroke="#b4b4b4" stroke-width="0.8"/>
<line x1="477.09" y1="559.40" x2="481.09" y2="559.40" stroke="#b4b4b4" stroke-width="0.8"/>
<line x1="477.09" y1="572.30" x2="481.09" y2="572.30" stroke="#b4b4b4" stroke-width="0.8"/>
<line x1="497.02" y1="585.10" x2="497.02" y2="594.70" stroke="#b4b4b4" stroke-width="0.8"/>
<line x1="495.02" y1="585.10" x2="499.02" y2="585.10" stroke="#b4b4b4" stroke-width="0.8"/>
<line x1="495.02" y1="594.70" x2="499.02" y2="594.70" stroke="#b4b4b4" stroke-width="0.8"/>
<line x1="443.23" y1="530.00" x2="443.23" y2="545.00" stroke="#b4b4b4" stroke-width="0.8"/>
<line x1="441.23" y1="530.00" x2="445.23" y2="530.00" stroke="#b4b4b4" stroke-width="0.8"/>
<line x1="441.23" y1="545.00" x2="445.23" y2="545.00" stroke="#b4b4b4" stroke-width="0.8"/>
<line x1="514.95" y1="536.50" x2="514.95" y2="541.50" stroke="#b4b4b4" stroke-width="0.8"/>
<line x1="512.95" y1="536.50" x2="516.95" y2="536.50" stroke="#b4b4b4" stroke-width="0.8"/>
<line x1="512.95" y1="541.50" x2="516.95" y2="541.50" stroke="#b4b4b4" stroke-width="0.8"/>
<line x1="532.88" y1="537.50" x2="532.88" y2="543.50" stroke="#b4b4b4" stroke-width="0.8"/>
<line x1="530.88" y1="537.50" x2="534.88" y2="537.50" stroke="#b4b4b4" stroke-width="0.8"/>
<line x1="530.88" y1="543.50" x2="534.88" y2="543.50" stroke="#b4b4b4" stroke-width="0.8"/>
<line x1="550.81" y1="538.50" x2="550.81" y2="546.00" stroke="#b4b4b4" stroke-width="0.8"/>
<line x1="548.81" y1="538.50" x2="552.81" y2="538.50" stroke="#b4b4b4" stroke-width="0.8"/>
<line x1="548.81" y1="546.00" x2="552.81" y2="546.00" stroke="#b4b4b4" stroke-width="0.8"/>
<line x1="568.74" y1="540.00" x2="568.74" y2="548.00" stroke="#b4b4b4" stroke-width="0.8"/>
<line x1="566.74" y1="540.00" x2="570.74" y2="540.00" stroke="#b4b4b4" stroke-width="0.8"/>
<line x1="566.74" y1="548.00" x2="570.74" y2="548.00" stroke="#b4b4b4" stroke-width="0.8"/>
<line x1="532.88" y1="539.50" x2="532.88" y2="548.50" stroke="#e8373f" stroke-width="0.8"/>
<line x1="530.88" y1="539.50" x2="534.88" y2="539.50" stroke="#e8373f" stroke-width="0.8"/>
<line x1="530.88" y1="548.50" x2="534.88" y2="548.50" stroke="#e8373f" stroke-width="0.8"/>
<line x1="550.81" y1="542.00" x2="550.81" y2="551.00" stroke="#e8373f" stroke-width="0.8"/>
<line x1="548.81" y1="542.00" x2="552.81" y2="542.00" stroke="#e8373f" stroke-width="0.8"/>
<line x1="548.81" y1="551.00" x2="552.81" y2="551.00" stroke="#e8373f" stroke-width="0.8"/>
<line x1="568.74" y1="544.00" x2="568.74" y2="552.50" stroke="#e8373f" stroke-width="0.8"/>
<line x1="566.74" y1="544.00" x2="570.74" y2="544.00" stroke="#e8373f" stroke-width="0.8"/>
<line x1="566.74" y1="552.50" x2="570.74" y2="552.50" stroke="#e8373f" stroke-width="0.8"/>
<line x1="443.23" y1="538.00" x2="443.23" y2="553.00" stroke="#e8373f" stroke-width="0.8"/>
<line x1="441.23" y1="538.00" x2="445.23" y2="538.00" stroke="#e8373f" stroke-width="0.8"/>
<line x1="441.23" y1="553.00" x2="445.23" y2="553.00" stroke="#e8373f" stroke-width="0.8"/>
<line x1="443.23" y1="526.30" x2="443.23" y2="550.70" stroke="#e8373f" stroke-width="0.8"/>
<line x1="441.23" y1="526.30" x2="445.23" y2="526.30" stroke="#e8373f" stroke-width="0.8"/>
<line x1="441.23" y1="550.70" x2="445.23" y2="550.70" stroke="#e8373f" stroke-width="0.8"/>
<line x1="479.09" y1="535.30" x2="479.09" y2="548.20" stroke="#e8373f" stroke-width="0.8"/>
<line x1="477.09" y1="535.30" x2="481.09" y2="535.30" stroke="#e8373f" stroke-width="0.8"/>
<line x1="477.09" y1="548.20" x2="481.09" y2="548.20" stroke="#e8373f" stroke-width="0.8"/>
<line x1="497.02" y1="546.60" x2="497.02" y2="569.00" stroke="#e8373f" stroke-width="0.8"/>
<line x1="495.02" y1="546.60" x2="499.02" y2="546.60" stroke="#e8373f" stroke-width="0.8"/>
<line x1="495.02" y1="569.00" x2="499.02" y2="569.00" stroke="#e8373f" stroke-width="0.8"/>
<line x1="514.95" y1="558.80" x2="514.95" y2="584.10" stroke="#e8373f" stroke-width="0.8"/>
<line x1="512.95" y1="558.80" x2="516.95" y2="558.80" stroke="#e8373f" stroke-width="0.8"/>
<line x1="512.95" y1="584.10" x2="516.95" y2="584.10" stroke="#e8373f" stroke-width="0.8"/>
<line x1="532.88" y1="570.00" x2="532.88" y2="595.70" stroke="#e8373f" stroke-width="0.8"/>
<line x1="530.88" y1="570.00" x2="534.88" y2="570.00" stroke="#e8373f" stroke-width="0.8"/>
<line x1="530.88" y1="595.70" x2="534.88" y2="595.70" stroke="#e8373f" stroke-width="0.8"/>
<line x1="550.81" y1="580.30" x2="550.81" y2="602.10" stroke="#e8373f" stroke-width="0.8"/>
<line x1="548.81" y1="580.30" x2="552.81" y2="580.30" stroke="#e8373f" stroke-width="0.8"/>
<line x1="548.81" y1="602.10" x2="552.81" y2="602.10" stroke="#e8373f" stroke-width="0.8"/>
<line x1="568.74" y1="585.10" x2="568.74" y2="605.30" stroke="#e8373f" stroke-width="0.8"/>
<line x1="566.74" y1="585.10" x2="570.74" y2="585.10" stroke="#e8373f" stroke-width="0.8"/>
<line x1="566.74" y1="605.30" x2="570.74" y2="605.30" stroke="#e8373f" stroke-width="0.8"/>
<path d="M425.30,616.20 L443.23,540.08 L461.16,530.37 L479.09,531.15 L497.02,533.66 L514.95,536.87 L532.88,539.12 L550.81,541.03 L568.74,542.68" fill="none" stroke="#b4b4b4" stroke-width="1.6" stroke-dasharray="2.6,1.6"/>
<circle cx="425.30" cy="616.20" r="2.3" fill="white" stroke="#b4b4b4" stroke-width="1"/>
<circle cx="443.23" cy="540.08" r="2.3" fill="white" stroke="#b4b4b4" stroke-width="1"/>
<circle cx="461.16" cy="530.37" r="2.3" fill="white" stroke="#b4b4b4" stroke-width="1"/>
<circle cx="479.09" cy="531.15" r="2.3" fill="white" stroke="#b4b4b4" stroke-width="1"/>
<circle cx="497.02" cy="533.66" r="2.3" fill="white" stroke="#b4b4b4" stroke-width="1"/>
<circle cx="514.95" cy="536.87" r="2.3" fill="white" stroke="#b4b4b4" stroke-width="1"/>
<circle cx="532.88" cy="539.12" r="2.3" fill="white" stroke="#b4b4b4" stroke-width="1"/>
<circle cx="550.81" cy="541.03" r="2.3" fill="white" stroke="#b4b4b4" stroke-width="1"/>
<circle cx="568.74" cy="542.68" r="2.3" fill="white" stroke="#b4b4b4" stroke-width="1"/>
<path d="M425.30,616.20 L443.23,544.24 L461.16,529.50 L479.09,531.15 L497.02,534.36 L514.95,537.56 L532.88,540.08 L550.81,543.29 L568.74,545.54" fill="none" stroke="#e8373f" stroke-width="1.6" stroke-dasharray="2.6,1.6"/>
<rect x="422.80" y="613.70" width="5.00" height="5.00" fill="white" stroke="#e8373f" stroke-width="1"/>
<rect x="440.73" y="541.74" width="5.00" height="5.00" fill="white" stroke="#e8373f" stroke-width="1"/>
<rect x="458.66" y="527.00" width="5.00" height="5.00" fill="white" stroke="#e8373f" stroke-width="1"/>
<rect x="476.59" y="528.65" width="5.00" height="5.00" fill="white" stroke="#e8373f" stroke-width="1"/>
<rect x="494.52" y="531.86" width="5.00" height="5.00" fill="white" stroke="#e8373f" stroke-width="1"/>
<rect x="512.45" y="535.06" width="5.00" height="5.00" fill="white" stroke="#e8373f" stroke-width="1"/>
<rect x="530.38" y="537.58" width="5.00" height="5.00" fill="white" stroke="#e8373f" stroke-width="1"/>
<rect x="548.31" y="540.79" width="5.00" height="5.00" fill="white" stroke="#e8373f" stroke-width="1"/>
<rect x="566.24" y="543.04" width="5.00" height="5.00" fill="white" stroke="#e8373f" stroke-width="1"/>
<path d="M425.30,616.20 L443.23,533.05 L461.16,537.22 L479.09,566.43 L497.02,589.84 L514.95,601.46 L532.88,605.88 L550.81,608.14 L568.74,609.78" fill="none" stroke="#b4b4b4" stroke-width="1.6"/>
<circle cx="425.30" cy="616.20" r="2.3" fill="#b4b4b4"/>
<circle cx="443.23" cy="533.05" r="2.3" fill="#b4b4b4"/>
<circle cx="461.16" cy="537.22" r="2.3" fill="#b4b4b4"/>
<circle cx="479.09" cy="566.43" r="2.3" fill="#b4b4b4"/>
<circle cx="497.02" cy="589.84" r="2.3" fill="#b4b4b4"/>
<circle cx="514.95" cy="601.46" r="2.3" fill="#b4b4b4"/>
<circle cx="532.88" cy="605.88" r="2.3" fill="#b4b4b4"/>
<circle cx="550.81" cy="608.14" r="2.3" fill="#b4b4b4"/>
<circle cx="568.74" cy="609.78" r="2.3" fill="#b4b4b4"/>
<path d="M425.30,616.20 L443.23,539.12 L461.16,529.85 L479.09,541.72 L497.02,557.76 L514.95,571.20 L532.88,582.82 L550.81,590.80 L568.74,595.31" fill="none" stroke="#e8373f" stroke-width="1.6"/>
<rect x="423.00" y="613.90" width="4.60" height="4.60" fill="#e8373f"/>
<rect x="440.93" y="536.82" width="4.60" height="4.60" fill="#e8373f"/>
<rect x="458.86" y="527.55" width="4.60" height="4.60" fill="#e8373f"/>
<rect x="476.79" y="539.42" width="4.60" height="4.60" fill="#e8373f"/>
<rect x="494.72" y="555.46" width="4.60" height="4.60" fill="#e8373f"/>
<rect x="512.65" y="568.90" width="4.60" height="4.60" fill="#e8373f"/>
<rect x="530.58" y="580.52" width="4.60" height="4.60" fill="#e8373f"/>
<rect x="548.51" y="588.50" width="4.60" height="4.60" fill="#e8373f"/>
<rect x="566.44" y="593.01" width="4.60" height="4.60" fill="#e8373f"/>
<text x="557.50" y="580.30" font-size="8.9" text-anchor="start" fill="#333" font-style="italic">p=0.0173</text>
<path d="M575.20,595.40 L579.70,595.40 L579.70,610.10 L575.20,610.10" fill="none" stroke="#555" stroke-width="0.8"/>
<text x="602.20" y="546.60" font-size="8.8" text-anchor="start" fill="#231f20">+ AIDΔC E58A</text>
<line x1="607.30" y1="554.30" x2="620.50" y2="554.30" stroke="#b4b4b4" stroke-width="1.3" stroke-dasharray="2.2,1.2"/>
<circle cx="613.90" cy="554.30" r="2.2" fill="white" stroke="#b4b4b4" stroke-width="0.9"/>
<text x="623.20" y="557.40" font-size="8.8" text-anchor="start" fill="#231f20">WT</text>
<line x1="607.30" y1="566.70" x2="620.50" y2="566.70" stroke="#e8373f" stroke-width="1.3" stroke-dasharray="2.2,1.2"/>
<rect x="611.50" y="564.30" width="4.80" height="4.80" fill="white" stroke="#e8373f" stroke-width="0.9"/>
<text x="623.20" y="569.80" font-size="8.8" text-anchor="start" fill="#231f20">Dot1l-deficient</text>
<text x="602.20" y="592.80" font-size="8.8" text-anchor="start" fill="#231f20">+ AIDΔC</text>
<line x1="607.30" y1="601.20" x2="620.50" y2="601.20" stroke="#b4b4b4" stroke-width="1.3"/>
<circle cx="613.90" cy="601.20" r="2.3" fill="#b4b4b4"/>
<text x="623.20" y="604.30" font-size="8.8" text-anchor="start" fill="#231f20">WT</text>
<line x1="607.30" y1="613.40" x2="620.50" y2="613.40" stroke="#e8373f" stroke-width="1.3"/>
<rect x="611.50" y="611.00" width="4.80" height="4.80" fill="#e8373f"/>
<text x="623.20" y="616.50" font-size="8.8" text-anchor="start" fill="#231f20">Dot1l-deficient</text>
<text x="399.80" y="424.00" font-size="10.2" text-anchor="middle" fill="#231f20" transform="rotate(-90 399.8 424.0)">Relative fraction</text>
<text x="411.00" y="424.00" font-size="10.2" text-anchor="middle" fill="#231f20" transform="rotate(-90 411.0 424.0)">of GFP+ cells</text>
<text x="399.80" y="570.60" font-size="10.2" text-anchor="middle" fill="#231f20" transform="rotate(-90 399.8 570.6)">Relative fraction</text>
<text x="411.00" y="570.60" font-size="10.2" text-anchor="middle" fill="#231f20" transform="rotate(-90 411.0 570.6)">of GFP+ cells</text>
<text x="-0.30" y="697.30" font-size="21.5" text-anchor="start" fill="#231f20">g</text>
<text x="34.2" y="714.2" font-size="8.7" fill="#231f20"><tspan font-style="italic">c-Myc</tspan> expression</text>
<line x1="61.30" y1="730.80" x2="61.30" y2="817.50" stroke="#333" stroke-width="0.9"/>
<line x1="61.30" y1="817.50" x2="84.00" y2="817.50" stroke="#333" stroke-width="0.9"/>
<line x1="59.00" y1="817.50" x2="61.30" y2="817.50" stroke="#333" stroke-width="0.8"/>
<line x1="59.00" y1="800.20" x2="61.30" y2="800.20" stroke="#333" stroke-width="0.8"/>
<line x1="59.00" y1="782.90" x2="61.30" y2="782.90" stroke="#333" stroke-width="0.8"/>
<line x1="59.00" y1="765.60" x2="61.30" y2="765.60" stroke="#333" stroke-width="0.8"/>
<line x1="59.00" y1="748.30" x2="61.30" y2="748.30" stroke="#333" stroke-width="0.8"/>
<line x1="59.00" y1="731.00" x2="61.30" y2="731.00" stroke="#333" stroke-width="0.8"/>
<text x="58.50" y="750.80" font-size="7.0" text-anchor="end" fill="#333">1</text>
<text x="58.50" y="820.00" font-size="7.0" text-anchor="end" fill="#333">0</text>
<rect x="65.20" y="748.30" width="6.60" height="69.20" fill="#c8c8c8"/>
<rect x="75.00" y="756.20" width="6.80" height="61.30" fill="#e8202e"/>
<circle cx="66.70" cy="748.30" r="1.5" fill="#111"/>
<circle cx="70.60" cy="748.30" r="1.5" fill="#111"/>
<path d="M76.30,750.44 L79.70,750.44 L78.00,753.33 Z" fill="#111" stroke="none" stroke-width="1"/>
<path d="M76.30,756.94 L79.70,756.94 L78.00,759.83 Z" fill="#111" stroke="none" stroke-width="1"/>
<text x="49.50" y="773.70" font-size="10.2" text-anchor="middle" fill="#231f20" transform="rotate(-90 49.5 773.7)">Relative quantity</text>
<text x="150.40" y="714.50" font-size="8.7" text-anchor="middle" fill="#231f20">CSR</text>
<line x1="139.40" y1="731.20" x2="139.40" y2="817.50" stroke="#333" stroke-width="0.9"/>
<line x1="139.40" y1="817.50" x2="163.40" y2="817.50" stroke="#333" stroke-width="0.9"/>
<line x1="137.00" y1="817.50" x2="139.40" y2="817.50" stroke="#333" stroke-width="0.8"/>
<text x="135.50" y="820.00" font-size="7.3" text-anchor="end" fill="#333">0</text>
<line x1="137.00" y1="800.24" x2="139.40" y2="800.24" stroke="#333" stroke-width="0.8"/>
<text x="135.50" y="802.74" font-size="7.3" text-anchor="end" fill="#333">10</text>
<line x1="137.00" y1="782.98" x2="139.40" y2="782.98" stroke="#333" stroke-width="0.8"/>
<text x="135.50" y="785.48" font-size="7.3" text-anchor="end" fill="#333">20</text>
<line x1="137.00" y1="765.72" x2="139.40" y2="765.72" stroke="#333" stroke-width="0.8"/>
<text x="135.50" y="768.22" font-size="7.3" text-anchor="end" fill="#333">30</text>
<line x1="137.00" y1="748.46" x2="139.40" y2="748.46" stroke="#333" stroke-width="0.8"/>
<text x="135.50" y="750.96" font-size="7.3" text-anchor="end" fill="#333">40</text>
<line x1="137.00" y1="731.20" x2="139.40" y2="731.20" stroke="#333" stroke-width="0.8"/>
<text x="135.50" y="733.70" font-size="7.3" text-anchor="end" fill="#333">50</text>
<rect x="142.90" y="756.00" width="7.00" height="61.50" fill="#c8c8c8"/>
<rect x="152.90" y="781.10" width="7.00" height="36.40" fill="#e8202e"/>
<circle cx="146.40" cy="751.00" r="1.8" fill="#111"/>
<circle cx="146.40" cy="760.60" r="1.8" fill="#111"/>
<path d="M154.10,775.78 L157.90,775.78 L156.00,779.01 Z" fill="#111" stroke="none" stroke-width="1"/>
<path d="M154.10,783.08 L157.90,783.08 L156.00,786.31 Z" fill="#111" stroke="none" stroke-width="1"/>
<text x="118.90" y="774.50" font-size="10.2" text-anchor="middle" fill="#231f20" transform="rotate(-90 118.9 774.5)">IgG1+ cells (%)</text>
<text x="230.80" y="709.30" font-size="8.7" text-anchor="middle" fill="#231f20">Igh-cMyc</text>
<text x="230.30" y="720.20" font-size="8.7" text-anchor="middle" fill="#231f20">Translocations</text>
<line x1="220.50" y1="730.50" x2="220.50" y2="817.00" stroke="#333" stroke-width="0.9"/>
<line x1="220.50" y1="817.50" x2="253.40" y2="817.50" stroke="#222" stroke-width="1.0"/>
<line x1="218.00" y1="817.00" x2="220.50" y2="817.00" stroke="#333" stroke-width="0.8"/>
<line x1="218.00" y1="782.20" x2="220.50" y2="782.20" stroke="#333" stroke-width="0.8"/>
<line x1="218.00" y1="747.40" x2="220.50" y2="747.40" stroke="#333" stroke-width="0.8"/>
<text x="216.80" y="819.50" font-size="7.2" text-anchor="end" fill="#333">0</text>
<text x="216.80" y="784.70" font-size="7.2" text-anchor="end" fill="#333">1</text>
<text x="216.80" y="749.90" font-size="7.2" text-anchor="end" fill="#333">2</text>
<line x1="229.30" y1="743.20" x2="244.60" y2="787.40" stroke="#222" stroke-width="0.8"/>
<line x1="229.30" y1="758.30" x2="244.60" y2="816.20" stroke="#222" stroke-width="0.8"/>
<circle cx="229.30" cy="743.20" r="2.6" fill="#c8c8c8"/>
<circle cx="229.30" cy="758.30" r="2.6" fill="#c8c8c8"/>
<path d="M241.70,784.68 L247.50,784.68 L244.60,789.61 Z" fill="#e8202e" stroke="none" stroke-width="1"/>
<path d="M241.70,813.08 L247.50,813.08 L244.60,818.01 Z" fill="#e8202e" stroke="none" stroke-width="1"/>
<text x="196.70" y="773.20" font-size="10.2" text-anchor="middle" fill="#231f20" transform="rotate(-90 196.7 773.2)">Translocations</text>
<text x="208.50" y="773.20" font-size="10.2" text-anchor="middle" fill="#231f20" transform="rotate(-90 208.5 773.2)">per 1M cells</text>
<rect x="259.90" y="760.00" width="5.10" height="5.10" fill="#c8c8c8"/>
<text x="267.60" y="765.10" font-size="8.8" text-anchor="start" fill="#231f20">DMSO</text>
<rect x="259.90" y="771.40" width="5.10" height="5.10" fill="#e8202e"/>
<text x="267.60" y="776.30" font-size="8.8" text-anchor="start" fill="#231f20">10 µM Pino</text>
<defs><filter id="bl" x="-50%" y="-50%" width="200%" height="200%"><feGaussianBlur stdDeviation="0.45"/></filter><filter id="bl2" x="-50%" y="-50%" width="200%" height="200%"><feGaussianBlur stdDeviation="0.9"/></filter><linearGradient id="sm" x1="0" y1="0" x2="0" y2="1"><stop offset="0" stop-color="#888" stop-opacity="0"/><stop offset="1" stop-color="#555" stop-opacity="0.75"/></linearGradient><linearGradient id="smL" x1="0" y1="0" x2="0" y2="1"><stop offset="0" stop-color="#999" stop-opacity="0"/><stop offset="1" stop-color="#888" stop-opacity="0.35"/></linearGradient></defs>
<text x="429.80" y="715.80" font-size="10.3" text-anchor="middle" fill="#231f20">DMSO</text>
<text x="600.90" y="716.30" font-size="10.3" text-anchor="middle" fill="#231f20">Pinometostat (10 µM)</text>
<text x="341.30" y="742.10" font-size="8.8" text-anchor="middle" fill="#231f20" transform="rotate(-90 341.3 742.1)">mouse #1</text>
<text x="341.30" y="786.90" font-size="8.8" text-anchor="middle" fill="#231f20" transform="rotate(-90 341.3 786.9)">mouse #2</text>
<rect x="345.00" y="720.10" width="168.90" height="42.40" fill="#e3e5e7"/>
<rect x="348.40" y="723.90" width="5.60" height="37.10" fill="#000" fill-opacity="0.004"/>
<rect x="355.23" y="723.90" width="5.60" height="37.10" fill="#000" fill-opacity="0.012"/>
<rect x="362.06" y="723.90" width="5.60" height="37.10" fill="#000" fill-opacity="0.004"/>
<rect x="368.89" y="723.90" width="5.60" height="37.10" fill="#000" fill-opacity="0.012"/>
<rect x="375.72" y="723.90" width="5.60" height="37.10" fill="#000" fill-opacity="0.004"/>
<rect x="382.55" y="723.90" width="5.60" height="37.10" fill="#000" fill-opacity="0.012"/>
<rect x="389.38" y="723.90" width="5.60" height="37.10" fill="#000" fill-opacity="0.004"/>
<rect x="396.21" y="723.90" width="5.60" height="37.10" fill="#000" fill-opacity="0.012"/>
<rect x="403.04" y="723.90" width="5.60" height="37.10" fill="#000" fill-opacity="0.004"/>
<rect x="409.87" y="723.90" width="5.60" height="37.10" fill="#000" fill-opacity="0.012"/>
<rect x="416.70" y="723.90" width="5.60" height="37.10" fill="#000" fill-opacity="0.004"/>
<rect x="423.53" y="723.90" width="5.60" height="37.10" fill="#000" fill-opacity="0.012"/>
<rect x="430.36" y="723.90" width="5.60" height="37.10" fill="#000" fill-opacity="0.004"/>
<rect x="437.19" y="723.90" width="5.60" height="37.10" fill="#000" fill-opacity="0.012"/>
<rect x="444.02" y="723.90" width="5.60" height="37.10" fill="#000" fill-opacity="0.004"/>
<rect x="450.85" y="723.90" width="5.60" height="37.10" fill="#000" fill-opacity="0.012"/>
<rect x="457.68" y="723.90" width="5.60" height="37.10" fill="#000" fill-opacity="0.004"/>
<rect x="464.51" y="723.90" width="5.60" height="37.10" fill="#000" fill-opacity="0.012"/>
<rect x="471.34" y="723.90" width="5.60" height="37.10" fill="#000" fill-opacity="0.004"/>
<rect x="478.17" y="723.90" width="5.60" height="37.10" fill="#000" fill-opacity="0.012"/>
<rect x="485.00" y="723.90" width="5.60" height="37.10" fill="#000" fill-opacity="0.004"/>
<rect x="491.83" y="723.90" width="5.60" height="37.10" fill="#000" fill-opacity="0.012"/>
<rect x="498.66" y="723.90" width="5.60" height="37.10" fill="#000" fill-opacity="0.004"/>
<rect x="505.49" y="723.90" width="5.60" height="37.10" fill="#000" fill-opacity="0.012"/>
<g filter="url(#bl)"><rect x="348.80" y="721.80" width="4.8" height="1.4" fill="#a9abad"/><rect x="355.63" y="721.80" width="4.8" height="1.4" fill="#b9bbbd"/><rect x="362.46" y="721.80" width="4.8" height="1.4" fill="#c2c4c6"/><rect x="369.29" y="721.80" width="4.8" height="1.4" fill="#b9bbbd"/><rect x="376.12" y="721.80" width="4.8" height="1.4" fill="#9c9ea0"/><rect x="382.95" y="721.80" width="4.8" height="1.4" fill="#9c9ea0"/><rect x="389.78" y="721.80" width="4.8" height="1.4" fill="#9c9ea0"/><rect x="396.61" y="721.80" width="4.8" height="1.4" fill="#9c9ea0"/><rect x="403.44" y="721.80" width="4.8" height="1.4" fill="#555"/><rect x="410.27" y="721.80" width="4.8" height="1.4" fill="#555"/><rect x="417.10" y="721.80" width="4.8" height="1.4" fill="#555"/><rect x="423.93" y="721.80" width="4.8" height="1.4" fill="#b9bbbd"/><rect x="430.76" y="721.80" width="4.8" height="1.4" fill="#9c9ea0"/><rect x="437.59" y="721.80" width="4.8" height="1.4" fill="#9c9ea0"/><rect x="444.42" y="721.80" width="4.8" height="1.4" fill="#b9bbbd"/><rect x="451.25" y="721.80" width="4.8" height="1.4" fill="#9c9ea0"/><rect x="458.08" y="721.80" width="4.8" height="1.4" fill="#c2c4c6"/><rect x="464.91" y="721.80" width="4.8" height="1.4" fill="#a9abad"/><rect x="471.74" y="721.80" width="4.8" height="1.4" fill="#b9bbbd"/><rect x="478.57" y="721.80" width="4.8" height="1.4" fill="#c2c4c6"/><rect x="485.40" y="721.80" width="4.8" height="1.4" fill="#b9bbbd"/><rect x="492.23" y="721.80" width="4.8" height="1.4" fill="#b9bbbd"/><rect x="499.06" y="721.80" width="4.8" height="1.4" fill="#b9bbbd"/><rect x="505.89" y="721.80" width="4.8" height="1.4" fill="#b9bbbd"/><rect x="370.00" y="727.00" width="5.2" height="8.50" fill="url(#smL)"/><rect x="397.20" y="737.00" width="5.2" height="10.50" fill="url(#smL)"/><rect x="478.40" y="727.00" width="5.2" height="11.50" fill="url(#sm)"/><rect x="464.60" y="730.00" width="5.2" height="6.80" fill="url(#smL)"/><rect x="369.80" y="735.45" width="5.60" height="1.90" fill="#1e1e1e"/><rect x="396.90" y="747.20" width="5.80" height="2.40" fill="#111"/><rect x="464.10" y="736.65" width="5.80" height="1.90" fill="#1a1a1a"/><rect x="478.00" y="738.10" width="6.00" height="3.00" fill="#0c0c0c"/><rect x="457.80" y="738.50" width="5.00" height="1.00" fill="#c2c4c6"/><rect x="346.00" y="734.60" width="2.00" height="0.80" fill="#b0b2b4"/><rect x="345.70" y="728.60" width="3.6" height="0.9" fill="#c4c6c8"/><rect x="345.70" y="732.60" width="3.6" height="0.9" fill="#c4c6c8"/><rect x="345.70" y="736.60" width="3.6" height="0.9" fill="#c4c6c8"/><rect x="345.70" y="740.60" width="3.6" height="0.9" fill="#c4c6c8"/><rect x="345.70" y="744.60" width="3.6" height="0.9" fill="#c4c6c8"/><rect x="345.70" y="748.60" width="3.6" height="0.9" fill="#c4c6c8"/><rect x="345.70" y="753.60" width="3.6" height="0.9" fill="#c4c6c8"/></g>
<rect x="345.00" y="766.60" width="168.40" height="41.80" fill="#e3e5e7"/>
<rect x="353.60" y="771.10" width="5.60" height="35.80" fill="#000" fill-opacity="0.004"/>
<rect x="359.87" y="771.10" width="5.60" height="35.80" fill="#000" fill-opacity="0.012"/>
<rect x="366.14" y="771.10" width="5.60" height="35.80" fill="#000" fill-opacity="0.004"/>
<rect x="372.41" y="771.10" width="5.60" height="35.80" fill="#000" fill-opacity="0.012"/>
<rect x="378.68" y="771.10" width="5.60" height="35.80" fill="#000" fill-opacity="0.004"/>
<rect x="384.95" y="771.10" width="5.60" height="35.80" fill="#000" fill-opacity="0.012"/>
<rect x="391.22" y="771.10" width="5.60" height="35.80" fill="#000" fill-opacity="0.004"/>
<rect x="397.49" y="771.10" width="5.60" height="35.80" fill="#000" fill-opacity="0.012"/>
<rect x="403.76" y="771.10" width="5.60" height="35.80" fill="#000" fill-opacity="0.004"/>
<rect x="410.03" y="771.10" width="5.60" height="35.80" fill="#000" fill-opacity="0.012"/>
<rect x="416.30" y="771.10" width="5.60" height="35.80" fill="#000" fill-opacity="0.004"/>
<rect x="422.57" y="771.10" width="5.60" height="35.80" fill="#000" fill-opacity="0.012"/>
<rect x="428.84" y="771.10" width="5.60" height="35.80" fill="#000" fill-opacity="0.004"/>
<rect x="435.11" y="771.10" width="5.60" height="35.80" fill="#000" fill-opacity="0.012"/>
<rect x="441.38" y="771.10" width="5.60" height="35.80" fill="#000" fill-opacity="0.004"/>
<rect x="447.65" y="771.10" width="5.60" height="35.80" fill="#000" fill-opacity="0.012"/>
<rect x="453.92" y="771.10" width="5.60" height="35.80" fill="#000" fill-opacity="0.004"/>
<rect x="460.19" y="771.10" width="5.60" height="35.80" fill="#000" fill-opacity="0.012"/>
<rect x="466.46" y="771.10" width="5.60" height="35.80" fill="#000" fill-opacity="0.004"/>
<rect x="472.73" y="771.10" width="5.60" height="35.80" fill="#000" fill-opacity="0.012"/>
<rect x="479.00" y="771.10" width="5.60" height="35.80" fill="#000" fill-opacity="0.004"/>
<rect x="485.27" y="771.10" width="5.60" height="35.80" fill="#000" fill-opacity="0.012"/>
<rect x="491.54" y="771.10" width="5.60" height="35.80" fill="#000" fill-opacity="0.004"/>
<rect x="497.81" y="771.10" width="5.60" height="35.80" fill="#000" fill-opacity="0.012"/>
<rect x="504.08" y="771.10" width="5.60" height="35.80" fill="#000" fill-opacity="0.004"/>
<g filter="url(#bl)"><rect x="354.00" y="769.00" width="4.8" height="1.4" fill="#b9bbbd"/><rect x="360.27" y="769.00" width="4.8" height="1.4" fill="#b9bbbd"/><rect x="366.54" y="769.00" width="4.8" height="1.4" fill="#b9bbbd"/><rect x="372.81" y="769.00" width="4.8" height="1.4" fill="#c2c4c6"/><rect x="379.08" y="769.00" width="4.8" height="1.4" fill="#a9abad"/><rect x="385.35" y="769.00" width="4.8" height="1.4" fill="#c2c4c6"/><rect x="391.62" y="769.00" width="4.8" height="1.4" fill="#c2c4c6"/><rect x="397.89" y="769.00" width="4.8" height="1.4" fill="#a9abad"/><rect x="404.16" y="769.00" width="4.8" height="1.4" fill="#555"/><rect x="410.43" y="769.00" width="4.8" height="1.4" fill="#555"/><rect x="416.70" y="769.00" width="4.8" height="1.4" fill="#9c9ea0"/><rect x="422.97" y="769.00" width="4.8" height="1.4" fill="#555"/><rect x="429.24" y="769.00" width="4.8" height="1.4" fill="#c2c4c6"/><rect x="435.51" y="769.00" width="4.8" height="1.4" fill="#9c9ea0"/><rect x="441.78" y="769.00" width="4.8" height="1.4" fill="#c2c4c6"/><rect x="448.05" y="769.00" width="4.8" height="1.4" fill="#b9bbbd"/><rect x="454.32" y="769.00" width="4.8" height="1.4" fill="#b9bbbd"/><rect x="460.59" y="769.00" width="4.8" height="1.4" fill="#c2c4c6"/><rect x="466.86" y="769.00" width="4.8" height="1.4" fill="#9c9ea0"/><rect x="473.13" y="769.00" width="4.8" height="1.4" fill="#555"/><rect x="479.40" y="769.00" width="4.8" height="1.4" fill="#9c9ea0"/><rect x="485.67" y="769.00" width="4.8" height="1.4" fill="#9c9ea0"/><rect x="491.94" y="769.00" width="4.8" height="1.4" fill="#a9abad"/><rect x="498.21" y="769.00" width="4.8" height="1.4" fill="#a9abad"/><rect x="504.48" y="769.00" width="4.8" height="1.4" fill="#a9abad"/><rect x="392.30" y="778.00" width="5.2" height="8.50" fill="url(#sm)"/><rect x="417.50" y="773.00" width="5.2" height="11.60" fill="url(#sm)"/><rect x="367.00" y="777.95" width="5.20" height="0.90" fill="#a4a6a8"/><rect x="373.20" y="780.05" width="5.00" height="0.70" fill="#c8cacc"/><rect x="391.90" y="786.30" width="6.00" height="3.20" fill="#111"/><rect x="416.90" y="784.40" width="6.40" height="4.00" fill="#0a0a0a"/><rect x="468.10" y="779.65" width="5.80" height="1.50" fill="#1e1e1e"/><rect x="348.50" y="774.70" width="3.6" height="0.9" fill="#8f9193"/><rect x="348.50" y="777.40" width="3.6" height="0.9" fill="#8f9193"/><rect x="348.50" y="781.30" width="3.6" height="0.9" fill="#8f9193"/><rect x="348.50" y="784.60" width="3.6" height="0.9" fill="#8f9193"/><rect x="348.50" y="787.20" width="3.6" height="0.9" fill="#8f9193"/><rect x="348.50" y="791.80" width="3.6" height="0.9" fill="#8f9193"/><rect x="348.50" y="797.10" width="3.6" height="0.9" fill="#8f9193"/><rect x="348.50" y="801.10" width="3.6" height="0.9" fill="#8f9193"/><rect x="348.50" y="805.10" width="3.6" height="0.9" fill="#8f9193"/><rect x="507.40" y="774.70" width="3.6" height="0.9" fill="#9a9c9e"/><rect x="507.40" y="780.00" width="3.6" height="0.9" fill="#9a9c9e"/><rect x="507.40" y="783.30" width="3.6" height="0.9" fill="#9a9c9e"/><rect x="507.40" y="785.90" width="3.6" height="0.9" fill="#9a9c9e"/><rect x="507.40" y="789.90" width="3.6" height="0.9" fill="#9a9c9e"/><rect x="507.40" y="795.10" width="3.6" height="0.9" fill="#9a9c9e"/><rect x="507.40" y="802.30" width="3.6" height="0.9" fill="#9a9c9e"/></g>
<rect x="517.00" y="720.10" width="168.00" height="41.80" fill="#e3e5e7"/>
<rect x="520.40" y="723.90" width="5.60" height="36.50" fill="#000" fill-opacity="0.004"/>
<rect x="527.23" y="723.90" width="5.60" height="36.50" fill="#000" fill-opacity="0.012"/>
<rect x="534.06" y="723.90" width="5.60" height="36.50" fill="#000" fill-opacity="0.004"/>
<rect x="540.89" y="723.90" width="5.60" height="36.50" fill="#000" fill-opacity="0.012"/>
<rect x="547.72" y="723.90" width="5.60" height="36.50" fill="#000" fill-opacity="0.004"/>
<rect x="554.55" y="723.90" width="5.60" height="36.50" fill="#000" fill-opacity="0.012"/>
<rect x="561.38" y="723.90" width="5.60" height="36.50" fill="#000" fill-opacity="0.004"/>
<rect x="568.21" y="723.90" width="5.60" height="36.50" fill="#000" fill-opacity="0.012"/>
<rect x="575.04" y="723.90" width="5.60" height="36.50" fill="#000" fill-opacity="0.004"/>
<rect x="581.87" y="723.90" width="5.60" height="36.50" fill="#000" fill-opacity="0.012"/>
<rect x="588.70" y="723.90" width="5.60" height="36.50" fill="#000" fill-opacity="0.004"/>
<rect x="595.53" y="723.90" width="5.60" height="36.50" fill="#000" fill-opacity="0.012"/>
<rect x="602.36" y="723.90" width="5.60" height="36.50" fill="#000" fill-opacity="0.004"/>
<rect x="609.19" y="723.90" width="5.60" height="36.50" fill="#000" fill-opacity="0.012"/>
<rect x="616.02" y="723.90" width="5.60" height="36.50" fill="#000" fill-opacity="0.004"/>
<rect x="622.85" y="723.90" width="5.60" height="36.50" fill="#000" fill-opacity="0.012"/>
<rect x="629.68" y="723.90" width="5.60" height="36.50" fill="#000" fill-opacity="0.004"/>
<rect x="636.51" y="723.90" width="5.60" height="36.50" fill="#000" fill-opacity="0.012"/>
<rect x="643.34" y="723.90" width="5.60" height="36.50" fill="#000" fill-opacity="0.004"/>
<rect x="650.17" y="723.90" width="5.60" height="36.50" fill="#000" fill-opacity="0.012"/>
<rect x="657.00" y="723.90" width="5.60" height="36.50" fill="#000" fill-opacity="0.004"/>
<rect x="663.83" y="723.90" width="5.60" height="36.50" fill="#000" fill-opacity="0.012"/>
<rect x="670.66" y="723.90" width="5.60" height="36.50" fill="#000" fill-opacity="0.004"/>
<rect x="677.49" y="723.90" width="5.60" height="36.50" fill="#000" fill-opacity="0.012"/>
<g filter="url(#bl)"><rect x="520.80" y="721.80" width="4.8" height="1.4" fill="#a9abad"/><rect x="527.63" y="721.80" width="4.8" height="1.4" fill="#a9abad"/><rect x="534.46" y="721.80" width="4.8" height="1.4" fill="#c2c4c6"/><rect x="541.29" y="721.80" width="4.8" height="1.4" fill="#9c9ea0"/><rect x="548.12" y="721.80" width="4.8" height="1.4" fill="#b9bbbd"/><rect x="554.95" y="721.80" width="4.8" height="1.4" fill="#b9bbbd"/><rect x="561.78" y="721.80" width="4.8" height="1.4" fill="#9c9ea0"/><rect x="568.61" y="721.80" width="4.8" height="1.4" fill="#c2c4c6"/><rect x="575.44" y="721.80" width="4.8" height="1.4" fill="#a9abad"/><rect x="582.27" y="721.80" width="4.8" height="1.4" fill="#a9abad"/><rect x="589.10" y="721.80" width="4.8" height="1.4" fill="#9c9ea0"/><rect x="595.93" y="721.80" width="4.8" height="1.4" fill="#555"/><rect x="602.76" y="721.80" width="4.8" height="1.4" fill="#9c9ea0"/><rect x="609.59" y="721.80" width="4.8" height="1.4" fill="#a9abad"/><rect x="616.42" y="721.80" width="4.8" height="1.4" fill="#a9abad"/><rect x="623.25" y="721.80" width="4.8" height="1.4" fill="#a9abad"/><rect x="630.08" y="721.80" width="4.8" height="1.4" fill="#555"/><rect x="636.91" y="721.80" width="4.8" height="1.4" fill="#b9bbbd"/><rect x="643.74" y="721.80" width="4.8" height="1.4" fill="#b9bbbd"/><rect x="650.57" y="721.80" width="4.8" height="1.4" fill="#a9abad"/><rect x="657.40" y="721.80" width="4.8" height="1.4" fill="#b9bbbd"/><rect x="664.23" y="721.80" width="4.8" height="1.4" fill="#c2c4c6"/><rect x="671.06" y="721.80" width="4.8" height="1.4" fill="#b9bbbd"/><rect x="677.89" y="721.80" width="4.8" height="1.4" fill="#c2c4c6"/><rect x="608.90" y="734.05" width="5.00" height="1.30" fill="#6d6f71"/><rect x="642.50" y="737.00" width="5.00" height="1.20" fill="#8a8c8e"/><rect x="517.10" y="727.60" width="3.6" height="0.9" fill="#a4a6a8"/><rect x="517.10" y="732.60" width="3.6" height="0.9" fill="#a4a6a8"/><rect x="517.10" y="736.60" width="3.6" height="0.9" fill="#a4a6a8"/><rect x="517.10" y="740.60" width="3.6" height="0.9" fill="#a4a6a8"/><rect x="517.10" y="744.60" width="3.6" height="0.9" fill="#a4a6a8"/><rect x="517.10" y="749.60" width="3.6" height="0.9" fill="#a4a6a8"/><rect x="517.10" y="754.60" width="3.6" height="0.9" fill="#a4a6a8"/></g>
<rect x="517.00" y="766.20" width="168.00" height="42.00" fill="#dfe1e3"/>
<rect x="520.40" y="770.40" width="5.60" height="36.30" fill="#000" fill-opacity="0.004"/>
<rect x="526.73" y="770.40" width="5.60" height="36.30" fill="#000" fill-opacity="0.012"/>
<rect x="533.06" y="770.40" width="5.60" height="36.30" fill="#000" fill-opacity="0.004"/>
<rect x="539.39" y="770.40" width="5.60" height="36.30" fill="#000" fill-opacity="0.012"/>
<rect x="545.72" y="770.40" width="5.60" height="36.30" fill="#000" fill-opacity="0.004"/>
<rect x="552.05" y="770.40" width="5.60" height="36.30" fill="#000" fill-opacity="0.012"/>
<rect x="558.38" y="770.40" width="5.60" height="36.30" fill="#000" fill-opacity="0.004"/>
<rect x="564.71" y="770.40" width="5.60" height="36.30" fill="#000" fill-opacity="0.012"/>
<rect x="571.04" y="770.40" width="5.60" height="36.30" fill="#000" fill-opacity="0.004"/>
<rect x="577.37" y="770.40" width="5.60" height="36.30" fill="#000" fill-opacity="0.012"/>
<rect x="583.70" y="770.40" width="5.60" height="36.30" fill="#000" fill-opacity="0.004"/>
<rect x="590.03" y="770.40" width="5.60" height="36.30" fill="#000" fill-opacity="0.012"/>
<rect x="596.36" y="770.40" width="5.60" height="36.30" fill="#000" fill-opacity="0.004"/>
<rect x="602.69" y="770.40" width="5.60" height="36.30" fill="#000" fill-opacity="0.012"/>
<rect x="609.02" y="770.40" width="5.60" height="36.30" fill="#000" fill-opacity="0.004"/>
<rect x="615.35" y="770.40" width="5.60" height="36.30" fill="#000" fill-opacity="0.012"/>
<rect x="621.68" y="770.40" width="5.60" height="36.30" fill="#000" fill-opacity="0.004"/>
<rect x="628.01" y="770.40" width="5.60" height="36.30" fill="#000" fill-opacity="0.012"/>
<rect x="634.34" y="770.40" width="5.60" height="36.30" fill="#000" fill-opacity="0.004"/>
<rect x="640.67" y="770.40" width="5.60" height="36.30" fill="#000" fill-opacity="0.012"/>
<rect x="647.00" y="770.40" width="5.60" height="36.30" fill="#000" fill-opacity="0.004"/>
<rect x="653.33" y="770.40" width="5.60" height="36.30" fill="#000" fill-opacity="0.012"/>
<rect x="659.66" y="770.40" width="5.60" height="36.30" fill="#000" fill-opacity="0.004"/>
<rect x="665.99" y="770.40" width="5.60" height="36.30" fill="#000" fill-opacity="0.012"/>
<rect x="672.32" y="770.40" width="5.60" height="36.30" fill="#000" fill-opacity="0.004"/>
<g filter="url(#bl)"><rect x="520.80" y="768.30" width="4.8" height="1.4" fill="#a9abad"/><rect x="527.13" y="768.30" width="4.8" height="1.4" fill="#c2c4c6"/><rect x="533.46" y="768.30" width="4.8" height="1.4" fill="#b9bbbd"/><rect x="539.79" y="768.30" width="4.8" height="1.4" fill="#9c9ea0"/><rect x="546.12" y="768.30" width="4.8" height="1.4" fill="#555"/><rect x="552.45" y="768.30" width="4.8" height="1.4" fill="#555"/><rect x="558.78" y="768.30" width="4.8" height="1.4" fill="#555"/><rect x="565.11" y="768.30" width="4.8" height="1.4" fill="#555"/><rect x="571.44" y="768.30" width="4.8" height="1.4" fill="#b9bbbd"/><rect x="577.77" y="768.30" width="4.8" height="1.4" fill="#555"/><rect x="584.10" y="768.30" width="4.8" height="1.4" fill="#555"/><rect x="590.43" y="768.30" width="4.8" height="1.4" fill="#b9bbbd"/><rect x="596.76" y="768.30" width="4.8" height="1.4" fill="#555"/><rect x="603.09" y="768.30" width="4.8" height="1.4" fill="#555"/><rect x="609.42" y="768.30" width="4.8" height="1.4" fill="#555"/><rect x="615.75" y="768.30" width="4.8" height="1.4" fill="#555"/><rect x="622.08" y="768.30" width="4.8" height="1.4" fill="#555"/><rect x="628.41" y="768.30" width="4.8" height="1.4" fill="#555"/><rect x="634.74" y="768.30" width="4.8" height="1.4" fill="#555"/><rect x="641.07" y="768.30" width="4.8" height="1.4" fill="#555"/><rect x="647.40" y="768.30" width="4.8" height="1.4" fill="#555"/><rect x="653.73" y="768.30" width="4.8" height="1.4" fill="#555"/><rect x="660.06" y="768.30" width="4.8" height="1.4" fill="#a9abad"/><rect x="666.39" y="768.30" width="4.8" height="1.4" fill="#a9abad"/><rect x="672.72" y="768.30" width="4.8" height="1.4" fill="#c2c4c6"/><rect x="607.10" y="777.80" width="5.00" height="1.00" fill="#9c9ea0"/><rect x="541.60" y="801.80" width="5.60" height="1.40" fill="#a9abad"/><rect x="517.20" y="775.60" width="3.6" height="0.9" fill="#9a9c9e"/><rect x="517.20" y="779.60" width="3.6" height="0.9" fill="#9a9c9e"/><rect x="517.20" y="782.60" width="3.6" height="0.9" fill="#9a9c9e"/><rect x="517.20" y="789.60" width="3.6" height="0.9" fill="#9a9c9e"/><rect x="517.20" y="795.10" width="3.6" height="0.9" fill="#9a9c9e"/><rect x="517.20" y="798.60" width="3.6" height="0.9" fill="#9a9c9e"/><rect x="517.20" y="802.60" width="3.6" height="0.9" fill="#9a9c9e"/><rect x="678.20" y="774.60" width="3.6" height="0.9" fill="#858789"/><rect x="678.20" y="778.60" width="3.6" height="0.9" fill="#858789"/><rect x="678.20" y="783.10" width="3.6" height="0.9" fill="#858789"/><rect x="678.20" y="787.60" width="3.6" height="0.9" fill="#858789"/><rect x="678.20" y="791.60" width="3.6" height="0.9" fill="#858789"/><rect x="678.20" y="796.10" width="3.6" height="0.9" fill="#858789"/><rect x="678.20" y="800.10" width="3.6" height="0.9" fill="#858789"/><rect x="678.20" y="804.10" width="3.6" height="0.9" fill="#858789"/></g>
</svg>
</body></html>
